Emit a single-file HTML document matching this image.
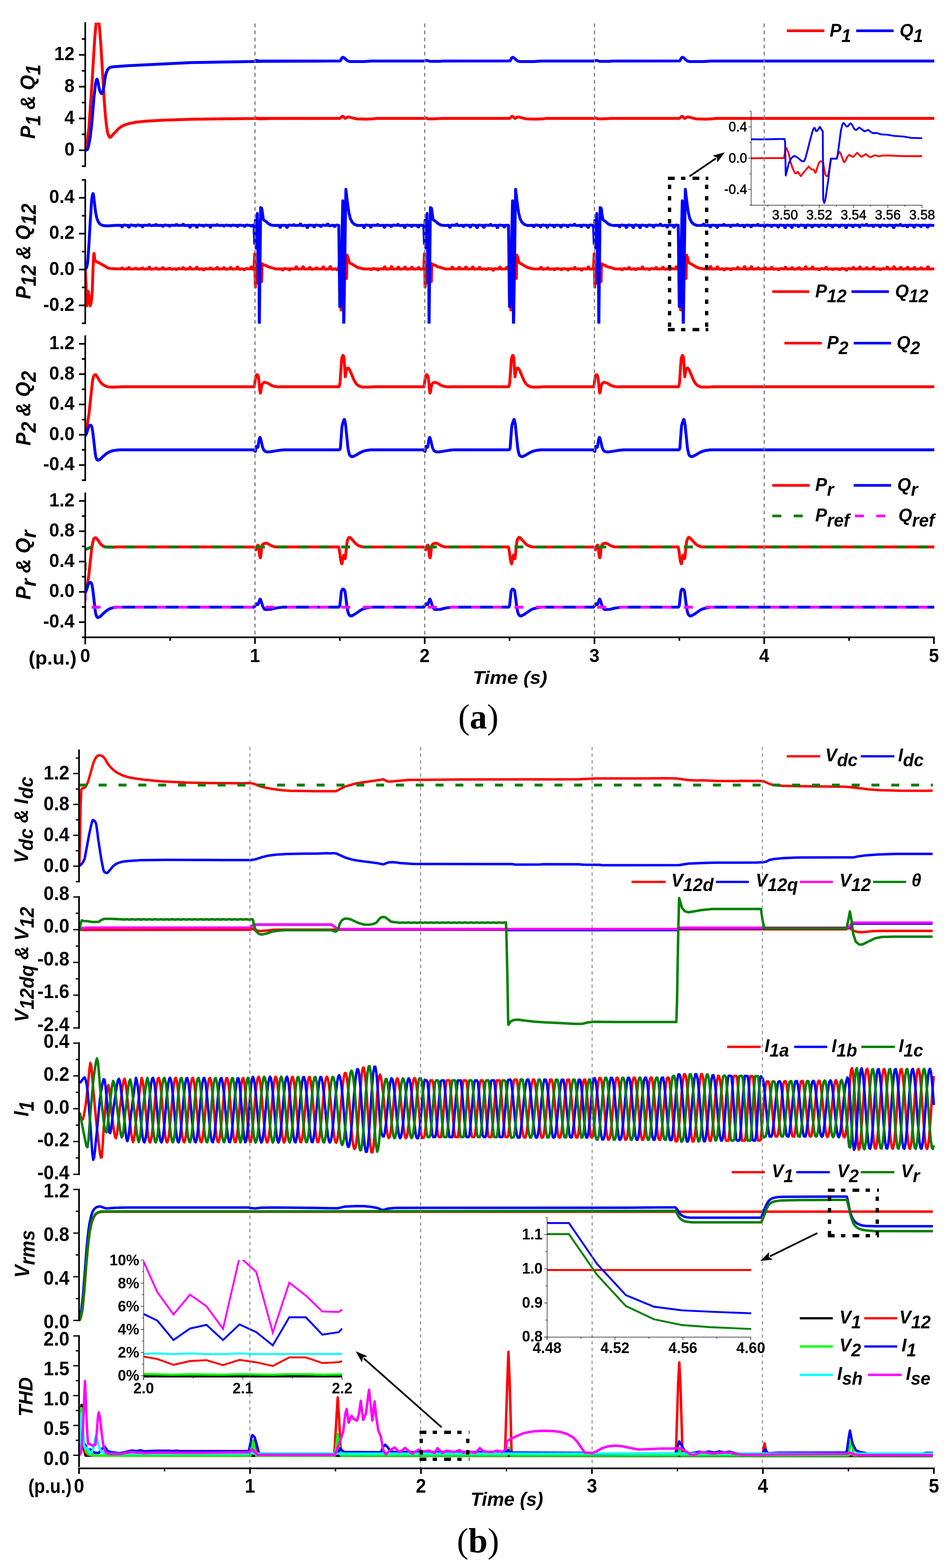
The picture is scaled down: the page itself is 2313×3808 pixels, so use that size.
<!DOCTYPE html>
<html lang="en"><head><meta charset="utf-8"><title>Figure</title>
<style>html,body{margin:0;padding:0;background:#fff;}svg{display:block;}text{fill:#000;}</style>
</head><body>
<svg xmlns="http://www.w3.org/2000/svg" width="2313" height="3808" viewBox="0 0 2313 3808">
<rect width="2313" height="3808" fill="#fff"/>
<clipPath id="ca1"><rect x="205" y="55" width="2070" height="352"/></clipPath>
<polyline points="207.2,363 210.2,351.7 213.2,334.5 216.2,308.6 223.2,206.6 230.2,92.4 233.2,58.5 235.2,43.3 236.2,39.4 237.2,38.1 238.2,40.5 239.2,44.8 242.2,71.9 245.2,111.3 253.2,243.3 256.2,282 259.3,309.4 261.3,321.3 263.3,327.6 265.3,332 266.3,333.2 267.3,333.6 269.3,332.5 277.3,323.9 288.3,312.1 295.3,307.1 302.3,303.7 314.3,299.9 330.3,296.8 354.3,294.2 394.3,291.9 469.4,289.5 620.5,287.8 820.6,287.6 619,287.6 621,286.3 624.6,287.1 627,288.6 635.9,288.8 664,287.6 825.2,287.6 827.3,286.5 830.1,283.3 832.2,282.3 834.4,283.4 836.5,285.5 837.9,287.2 838.7,287.6 840.7,286.6 844.9,284.3 847.7,284.1 866,288.7 889.3,289.2 908.3,288.5 913.2,287.6 1031.4,287.6 1033.4,286.3 1037,287.1 1039.4,288.6 1048.3,288.8 1076.4,287.6 1237.6,287.6 1239.7,286.5 1242.5,283.3 1244.6,282.3 1246.8,283.4 1248.9,285.5 1250.3,287.2 1251.1,287.6 1253.1,286.6 1257.3,284.3 1260.1,284.1 1278.4,288.7 1301.7,289.2 1320.7,288.5 1325.6,287.6 1443.8,287.6 1445.8,286.3 1449.4,287.1 1451.8,288.6 1460.7,288.8 1488.8,287.6 1650,287.6 1652.1,286.5 1654.9,283.3 1657,282.3 1659.2,283.4 1661.3,285.5 1662.7,287.2 1663.5,287.6 1665.5,286.6 1669.7,284.3 1672.5,284.1 1690.8,288.7 1714.1,289.2 1733.1,288.5 1738,287.6 2270,287.6" fill="none" stroke="#ff0000" stroke-width="7.0" stroke-linejoin="round" stroke-linecap="butt" clip-path="url(#ca1)"/>
<polyline points="207.2,365.1 210.2,364.2 212.2,362.9 213.2,361.2 215.2,354.3 219.2,333.5 223.2,298.7 228.2,237.8 232.2,202.6 233.2,197.7 234.2,194.5 235.2,192.5 235.7,192.3 236.2,192.8 238.2,199 240.2,211.1 242.2,219.4 243.7,223.4 246.2,227 247.2,227.4 248.2,226.4 250.2,222 253.2,205.7 256.2,184.3 258.2,176.6 261.3,169.5 264.3,165.8 267.3,163.6 274.3,162.2 307.3,159.8 463.4,152.1 548.4,150.5 640.5,149 823.6,148.3 619,148.3 621.1,147.1 625.3,147 632,148.9 655.6,148.9 664,148.3 825.9,148.1 827.3,147.2 830.8,140.7 832.2,139.5 833.6,139.1 836.4,140.6 843.4,147 846.3,148.6 851.2,149.5 884.8,149.5 902.4,148.3 1031.4,148.3 1033.5,147.1 1037.7,147 1044.4,148.9 1068,148.9 1076.4,148.3 1238.3,148.1 1239.7,147.2 1243.2,140.7 1244.6,139.5 1246,139.1 1248.8,140.6 1255.8,147 1258.7,148.6 1263.6,149.5 1297.2,149.5 1314.8,148.3 1443.8,148.3 1445.9,147.1 1450.1,147 1456.8,148.9 1480.4,148.9 1488.8,148.3 1650.7,148.1 1652.1,147.2 1655.6,140.7 1657,139.5 1658.4,139.1 1661.2,140.6 1668.2,147 1671.1,148.6 1676,149.5 1709.6,149.5 1727.2,148.3 2270,148.3" fill="none" stroke="#0000ff" stroke-width="7.0" stroke-linejoin="round" stroke-linecap="butt" clip-path="url(#ca1)"/>
<clipPath id="ca2"><rect x="205" y="436" width="2070" height="350"/></clipPath>
<polyline points="207.2,653.4 209,690.5 211,742.6 212.4,720.6 214.8,707.6 216.8,726.6 219,742.6 221.6,734.6 224,710.6 226.1,650.4 227.7,618.4 228.7,615.4 230.1,630.4 232.1,634.4 240.1,638 250.1,643.6 260.1,649.6 266.1,652 280.2,652.8 294.5,653 295.9,650.8 297.5,650.8 298.9,653 302.7,653.6 305.7,653 311,653 312.4,649.7 314,649.7 315.4,653 319.2,653.4 322.2,653 327.5,653 328.9,651.5 330.5,651.5 331.9,653 335.7,653.5 338.7,653 344,653 345.4,650.8 347,650.8 348.4,653 352.2,653.7 355.2,653 360.5,653 361.9,649 363.5,649 364.9,653 368.7,653.9 371.7,653 377,653 378.4,651 380,651 381.4,653 385.2,654.1 388.2,653 393.5,653 394.9,649.9 396.5,649.9 397.9,653 401.7,653.9 404.7,653 410,653 411.4,651.3 413,651.3 414.4,653 418.2,653.8 421.2,653 426.5,653 427.9,654.4 429.5,654.4 430.9,653 434.7,651.9 437.7,653 443,653 444.4,650.1 446,650.1 447.4,653 451.2,654.1 454.2,653 459.5,653 460.9,649.4 462.5,649.4 463.9,653 467.7,653.7 470.7,653 476,653 477.4,649.1 479,649.1 480.4,653 484.2,654.1 487.2,653 492.5,653 493.9,655.5 495.5,655.5 496.9,653 500.7,652.6 503.7,653 509,653 510.4,650.8 512,650.8 513.4,653 517.2,653.7 520.2,653 525.5,653 526.9,649.6 528.5,649.6 529.9,653 533.7,653.8 536.7,653 542,653 543.4,650.3 545,650.3 546.4,653 550.2,653.8 553.2,653 558.5,653 559.9,649.7 561.5,649.7 562.9,653 566.7,653.9 569.7,653 575,653 576.4,648.7 578,648.7 579.4,653 583.2,654.2 586.2,653 591.5,653 592.9,655.1 594.5,655.1 595.9,653 599.7,651.9 602.7,653 608,653 609.4,648.6 611,648.6 612.4,653 616.2,653.8 619.2,653 617.1,653 618.9,616.2 620.4,697.3 622.5,643.2 625.2,653.3 634.2,655.2 635.7,683.8 636.6,640.2 640.2,643.2 644.7,644 650.7,647.7 659.7,650 670.3,653.3 684.6,653 686,655.8 687.6,655.8 689,653 692.8,652 695.8,653 701.1,653 702.5,655.5 704.1,655.5 705.5,653 709.3,652.6 712.3,653 717.6,653 719,647.9 720.6,647.9 722,653 725.8,653.4 728.8,653 734.1,653 735.5,648.1 737.1,648.1 738.5,653 742.3,653.4 745.3,653 750.6,653 752,649.6 753.6,649.6 755,653 758.8,654.1 761.8,653 767.1,653 768.5,650.4 770.1,650.4 771.5,653 775.3,653.3 778.3,653 783.6,653 785,648.3 786.6,648.3 788,653 791.8,654.1 794.8,653 800.1,653 801.5,647.6 803.1,647.6 804.5,653 808.3,654.2 811.3,653 816.6,653 818,655.1 819.6,655.1 821,653 824.8,652.2 827.8,653 823.1,653 825.2,625.2 828.9,752.8 831.3,640.2 839.7,655.2 842.1,676.2 843.3,619.5 845.7,625.2 848.5,637.2 852.6,640.2 858.3,643.2 864.3,647 870.3,650 879.3,652.2 885.3,653.3 899.6,653 901,654.6 902.6,654.6 904,653 907.8,652.3 910.8,653 916.1,653 917.5,655.6 919.1,655.6 920.5,653 924.3,652.7 927.3,653 932.6,653 934,647.9 935.6,647.9 937,653 940.8,654.2 943.8,653 949.1,653 950.5,647.8 952.1,647.8 953.5,653 957.3,653.7 960.3,653 965.6,653 967,648.9 968.6,648.9 970,653 973.8,653.8 976.8,653 982.1,653 983.5,648.8 985.1,648.8 986.5,653 990.3,654.1 993.3,653 998.6,653 1000,649 1001.6,649 1003,653 1006.8,653.9 1009.8,653 1015.1,653 1016.5,649.8 1018.1,649.8 1019.5,653 1023.3,654.2 1026.3,653 1029.5,653 1031.3,616.2 1032.8,697.3 1034.9,643.2 1037.6,653.3 1046.6,655.2 1048.1,683.8 1049,640.2 1052.6,643.2 1057.1,644 1063.1,647.7 1072.1,650 1082.7,653.3 1097,653 1098.4,648.9 1100,648.9 1101.4,653 1105.2,653.3 1108.2,653 1113.5,653 1114.9,649.3 1116.5,649.3 1117.9,653 1121.7,653.3 1124.7,653 1130,653 1131.4,648.7 1133,648.7 1134.4,653 1138.2,653.4 1141.2,653 1146.5,653 1147.9,648.6 1149.5,648.6 1150.9,653 1154.7,653.9 1157.7,653 1163,653 1164.4,649.4 1166,649.4 1167.4,653 1171.2,654 1174.2,653 1179.5,653 1180.9,654.5 1182.5,654.5 1183.9,653 1187.7,652.1 1190.7,653 1196,653 1197.4,656.2 1199,656.2 1200.4,653 1204.2,652.3 1207.2,653 1212.5,653 1213.9,648.7 1215.5,648.7 1216.9,653 1220.7,653.6 1223.7,653 1229,653 1230.4,649.6 1232,649.6 1233.4,653 1237.2,653.8 1240.2,653 1235.5,653 1237.6,625.2 1241.3,752.8 1243.7,640.2 1252.1,655.2 1254.5,676.2 1255.7,619.5 1258.1,625.2 1260.9,637.2 1265,640.2 1270.7,643.2 1276.7,647 1282.7,650 1291.7,652.2 1297.7,653.3 1312,653 1313.4,649.6 1315,649.6 1316.4,653 1320.2,654 1323.2,653 1328.5,653 1329.9,650.4 1331.5,650.4 1332.9,653 1336.7,654 1339.7,653 1345,653 1346.4,655.1 1348,655.1 1349.4,653 1353.2,652 1356.2,653 1361.5,653 1362.9,654.9 1364.5,654.9 1365.9,653 1369.7,652.3 1372.7,653 1378,653 1379.4,655.8 1381,655.8 1382.4,653 1386.2,652.4 1389.2,653 1394.5,653 1395.9,649.5 1397.5,649.5 1398.9,653 1402.7,653.7 1405.7,653 1411,653 1412.4,656 1414,656 1415.4,653 1419.2,652.4 1422.2,653 1427.5,653 1428.9,648.5 1430.5,648.5 1431.9,653 1435.7,653.7 1438.7,653 1441.9,653 1443.7,616.2 1445.2,697.3 1447.3,643.2 1450,653.3 1459,655.2 1460.5,683.8 1461.4,640.2 1465,643.2 1469.5,644 1475.5,647.7 1484.5,650 1495.1,653.3 1509.4,653 1510.8,654.9 1512.4,654.9 1513.8,653 1517.6,652.2 1520.6,653 1525.9,653 1527.3,649.9 1528.9,649.9 1530.3,653 1534.1,654.1 1537.1,653 1542.4,653 1543.8,654.8 1545.4,654.8 1546.8,653 1550.6,652 1553.6,653 1558.9,653 1560.3,648.6 1561.9,648.6 1563.3,653 1567.1,653.6 1570.1,653 1575.4,653 1576.8,654.7 1578.4,654.7 1579.8,653 1583.6,652 1586.6,653 1591.9,653 1593.3,649.7 1594.9,649.7 1596.3,653 1600.1,653.7 1603.1,653 1608.4,653 1609.8,649.2 1611.4,649.2 1612.8,653 1616.6,654.1 1619.6,653 1624.9,653 1626.3,654.8 1627.9,654.8 1629.3,653 1633.1,651.9 1636.1,653 1641.4,653 1642.8,647.9 1644.4,647.9 1645.8,653 1649.6,653.7 1652.6,653 1647.9,653 1650,625.2 1653.7,752.8 1656.1,640.2 1664.5,655.2 1666.9,676.2 1668.1,619.5 1670.5,625.2 1673.3,637.2 1677.4,640.2 1683.1,643.2 1689.1,647 1695.1,650 1704.1,652.2 1710.1,653.3 1724.4,653 1725.8,647.6 1727.4,647.6 1728.8,653 1732.6,653.5 1735.6,653 1740.9,653 1742.3,648.3 1743.9,648.3 1745.3,653 1749.1,653.9 1752.1,653 1757.4,653 1758.8,655.4 1760.4,655.4 1761.8,653 1765.6,652.4 1768.6,653 1773.9,653 1775.3,654.9 1776.9,654.9 1778.3,653 1782.1,652.2 1785.1,653 1790.4,653 1791.8,649.6 1793.4,649.6 1794.8,653 1798.6,653.3 1801.6,653 1806.9,653 1808.3,647.8 1809.9,647.8 1811.3,653 1815.1,654.1 1818.1,653 1823.4,653 1824.8,647.8 1826.4,647.8 1827.8,653 1831.6,653.8 1834.6,653 1839.9,653 1841.3,650.5 1842.9,650.5 1844.3,653 1848.1,653.5 1851.1,653 1856.4,653 1857.8,649.6 1859.4,649.6 1860.8,653 1864.6,653.8 1867.6,653 1872.9,653 1874.3,649.3 1875.9,649.3 1877.3,653 1881.1,653.9 1884.1,653 1889.4,653 1890.8,655.1 1892.4,655.1 1893.8,653 1897.6,651.9 1900.6,653 1905.9,653 1907.3,649.1 1908.9,649.1 1910.3,653 1914.1,653.6 1917.1,653 1922.4,653 1923.8,649.9 1925.4,649.9 1926.8,653 1930.6,654 1933.6,653 1938.9,653 1940.3,650 1941.9,650 1943.3,653 1947.1,654.1 1950.1,653 1955.4,653 1956.8,648.1 1958.4,648.1 1959.8,653 1963.6,653.3 1966.6,653 1971.9,653 1973.3,648.6 1974.9,648.6 1976.3,653 1980.1,653.3 1983.1,653 1988.4,653 1989.8,655 1991.4,655 1992.8,653 1996.6,652.2 1999.6,653 2004.9,653 2006.3,649.2 2007.9,649.2 2009.3,653 2013.1,654 2016.1,653 2021.4,653 2022.8,654.5 2024.4,654.5 2025.8,653 2029.6,652.6 2032.6,653 2037.9,653 2039.3,654.7 2040.9,654.7 2042.3,653 2046.1,651.8 2049.1,653 2054.4,653 2055.8,656 2057.4,656 2058.8,653 2062.6,652.2 2065.6,653 2070.9,653 2072.3,649.6 2073.9,649.6 2075.3,653 2079.1,653.6 2082.1,653 2087.4,653 2088.8,648.6 2090.4,648.6 2091.8,653 2095.6,653.6 2098.6,653 2103.9,653 2105.3,649.9 2106.9,649.9 2108.3,653 2112.1,653.4 2115.1,653 2120.4,653 2121.8,648.8 2123.4,648.8 2124.8,653 2128.6,653.6 2131.6,653 2136.9,653 2138.3,654.6 2139.9,654.6 2141.3,653 2145.1,652.4 2148.1,653 2153.4,653 2154.8,648.7 2156.4,648.7 2157.8,653 2161.6,653.6 2164.6,653 2169.9,653 2171.3,648.1 2172.9,648.1 2174.3,653 2178.1,653.7 2181.1,653 2186.4,653 2187.8,649.4 2189.4,649.4 2190.8,653 2194.6,653.9 2197.6,653 2202.9,653 2204.3,649.2 2205.9,649.2 2207.3,653 2211.1,653.7 2214.1,653 2219.4,653 2220.8,649.8 2222.4,649.8 2223.8,653 2227.6,653.9 2230.6,653 2235.9,653 2237.3,650.3 2238.9,650.3 2240.3,653 2244.1,653.7 2247.1,653 2252.4,653 2253.8,647.9 2255.4,647.9 2256.8,653 2260.6,653.6 2263.6,653 2270,653" fill="none" stroke="#ff0000" stroke-width="7.0" stroke-linejoin="round" stroke-linecap="butt" clip-path="url(#ca2)"/>
<polyline points="207.2,653.4 208,653.1 208.8,652.3 210,650.4 210.4,649.6 211.2,646.7 212.4,640.4 212.8,637.5 213.6,629.1 215.2,607.6 216.8,581.2 220,525.6 221.6,501.6 222.4,490.7 223.2,482 224,476.9 224.8,472.9 225.7,470.4 226.1,470.1 226.5,470.7 227.3,474.7 228.1,480.1 228.9,486.7 230.1,498.1 231.3,507.9 232.5,516.2 233.7,522.6 234.5,526.4 235.3,529.7 236.1,532.2 237.7,536.2 239.3,539.5 240.1,540.8 240.9,542 242.1,543.2 244.1,544.8 246.5,546.2 248.9,547.1 252.1,547.8 256.1,548.4 259.3,548.6 263.3,548.5 280.2,547.2 294.5,547.3 295.9,550.7 297.5,550.7 298.9,547.3 302.7,546.3 305.7,547.3 311,547.3 312.4,551.6 314,551.6 315.4,547.3 319.2,546.2 322.2,547.3 327.5,547.3 328.9,548.9 330.5,548.9 331.9,547.3 335.7,546.2 338.7,547.3 344,547.3 345.4,550.7 347,550.7 348.4,547.3 352.2,546.9 355.2,547.3 360.5,547.3 361.9,545.6 363.5,545.6 364.9,547.3 368.7,548.1 371.7,547.3 377,547.3 378.4,545.4 380,545.4 381.4,547.3 385.2,547.8 388.2,547.3 393.5,547.3 394.9,549.6 396.5,549.6 397.9,547.3 401.7,546.3 404.7,547.3 410,547.3 411.4,549.3 413,549.3 414.4,547.3 418.2,546.9 421.2,547.3 426.5,547.3 427.9,545.3 429.5,545.3 430.9,547.3 434.7,547.6 437.7,547.3 443,547.3 444.4,544.8 446,544.8 447.4,547.3 451.2,547.8 454.2,547.3 459.5,547.3 460.9,551.7 462.5,551.7 463.9,547.3 467.7,546.7 470.7,547.3 476,547.3 477.4,551.7 479,551.7 480.4,547.3 484.2,546.4 487.2,547.3 492.5,547.3 493.9,549.4 495.5,549.4 496.9,547.3 500.7,546.4 503.7,547.3 509,547.3 510.4,551.7 512,551.7 513.4,547.3 517.2,546.7 520.2,547.3 525.5,547.3 526.9,545.7 528.5,545.7 529.9,547.3 533.7,547.7 536.7,547.3 542,547.3 543.4,549 545,549 546.4,547.3 550.2,546.5 553.2,547.3 558.5,547.3 559.9,548.8 561.5,548.8 562.9,547.3 566.7,546.7 569.7,547.3 575,547.3 576.4,549.7 578,549.7 579.4,547.3 583.2,546.6 586.2,547.3 591.5,547.3 592.9,549.7 594.5,549.7 595.9,547.3 599.7,546.4 602.7,547.3 608,547.3 609.4,549 611,549 612.4,547.3 616.2,547 619.2,547.3 617.1,547.3 618.9,591.4 620.4,535.1 622.2,601.9 625.2,518.6 627.6,688.3 628.8,538.1 630,805.4 633.3,503.9 636,505.8 638,520.1 639.9,533.6 647,538.4 651.5,542.6 658.2,546.4 664.2,547.4 678.5,547.3 679.9,552 681.5,552 682.9,547.3 686.7,547 689.7,547.3 695,547.3 696.4,552.2 698,552.2 699.4,547.3 703.2,546.5 706.2,547.3 711.5,547.3 712.9,545.8 714.5,545.8 715.9,547.3 719.7,547.8 722.7,547.3 728,547.3 729.4,544.1 731,544.1 732.4,547.3 736.2,548.3 739.2,547.3 744.5,547.3 745.9,552.6 747.5,552.6 748.9,547.3 752.7,546.7 755.7,547.3 761,547.3 762.4,550.9 764,550.9 765.4,547.3 769.2,546.3 772.2,547.3 777.5,547.3 778.9,550.1 780.5,550.1 781.9,547.3 785.7,546.3 788.7,547.3 794,547.3 795.4,544.3 797,544.3 798.4,547.3 802.2,548.5 805.2,547.3 810.5,547.3 811.9,550.1 813.5,550.1 814.9,547.3 818.7,546.5 821.7,547.3 823.1,547.3 825.5,744.6 827.1,744.6 832.8,487.8 835.2,805.4 840.3,459.7 844.5,494.6 847.5,515.6 851.1,530.6 855.6,539.6 861.3,544.9 868,547.4 882.3,547.3 883.7,552.6 885.3,552.6 886.7,547.3 890.5,546.2 893.5,547.3 898.8,547.3 900.2,551.4 901.8,551.4 903.2,547.3 907,546.7 910,547.3 915.3,547.3 916.7,545.5 918.3,545.5 919.7,547.3 923.5,547.7 926.5,547.3 931.8,547.3 933.2,551.9 934.8,551.9 936.2,547.3 940,546.9 943,547.3 948.3,547.3 949.7,549.9 951.3,549.9 952.7,547.3 956.5,546.5 959.5,547.3 964.8,547.3 966.2,545.1 967.8,545.1 969.2,547.3 973,548.1 976,547.3 981.3,547.3 982.7,552.3 984.3,552.3 985.7,547.3 989.5,546.6 992.5,547.3 997.8,547.3 999.2,550 1000.8,550 1002.2,547.3 1006,547 1009,547.3 1014.3,547.3 1015.7,551.3 1017.3,551.3 1018.7,547.3 1022.5,546.9 1025.5,547.3 1029.5,547.3 1031.3,591.4 1032.8,535.1 1034.6,601.9 1037.6,518.6 1040,688.3 1041.2,538.1 1042.4,805.4 1045.7,503.9 1048.4,505.8 1050.4,520.1 1052.3,533.6 1059.4,538.4 1063.9,542.6 1070.6,546.4 1076.6,547.4 1090.9,547.3 1092.3,552 1093.9,552 1095.3,547.3 1099.1,546.4 1102.1,547.3 1107.4,547.3 1108.8,544.4 1110.4,544.4 1111.8,547.3 1115.6,548 1118.6,547.3 1123.9,547.3 1125.3,550.2 1126.9,550.2 1128.3,547.3 1132.1,546.7 1135.1,547.3 1140.4,547.3 1141.8,551.2 1143.4,551.2 1144.8,547.3 1148.6,546.2 1151.6,547.3 1156.9,547.3 1158.3,552.7 1159.9,552.7 1161.3,547.3 1165.1,546.6 1168.1,547.3 1173.4,547.3 1174.8,552 1176.4,552 1177.8,547.3 1181.6,546.7 1184.6,547.3 1189.9,547.3 1191.3,545.1 1192.9,545.1 1194.3,547.3 1198.1,547.9 1201.1,547.3 1206.4,547.3 1207.8,552.8 1209.4,552.8 1210.8,547.3 1214.6,546.4 1217.6,547.3 1222.9,547.3 1224.3,551.3 1225.9,551.3 1227.3,547.3 1231.1,546.9 1234.1,547.3 1235.5,547.3 1237.9,744.6 1239.5,744.6 1245.2,487.8 1247.6,805.4 1252.7,459.7 1256.9,494.6 1259.9,515.6 1263.5,530.6 1268,539.6 1273.7,544.9 1280.4,547.4 1294.7,547.3 1296.1,550.6 1297.7,550.6 1299.1,547.3 1302.9,546.2 1305.9,547.3 1311.2,547.3 1312.6,550.9 1314.2,550.9 1315.6,547.3 1319.4,546.3 1322.4,547.3 1327.7,547.3 1329.1,551.9 1330.7,551.9 1332.1,547.3 1335.9,546.3 1338.9,547.3 1344.2,547.3 1345.6,550.9 1347.2,550.9 1348.6,547.3 1352.4,546.7 1355.4,547.3 1360.7,547.3 1362.1,551.3 1363.7,551.3 1365.1,547.3 1368.9,546.4 1371.9,547.3 1377.2,547.3 1378.6,550.7 1380.2,550.7 1381.6,547.3 1385.4,546.4 1388.4,547.3 1393.7,547.3 1395.1,544.8 1396.7,544.8 1398.1,547.3 1401.9,548.1 1404.9,547.3 1410.2,547.3 1411.6,550.6 1413.2,550.6 1414.6,547.3 1418.4,546.6 1421.4,547.3 1426.7,547.3 1428.1,552.3 1429.7,552.3 1431.1,547.3 1434.9,546.3 1437.9,547.3 1441.9,547.3 1443.7,591.4 1445.2,535.1 1447,601.9 1450,518.6 1452.4,688.3 1453.6,538.1 1454.8,805.4 1458.1,503.9 1460.8,505.8 1462.8,520.1 1464.7,533.6 1471.8,538.4 1476.3,542.6 1483,546.4 1489,547.4 1503.3,547.3 1504.7,550.8 1506.3,550.8 1507.7,547.3 1511.5,546.3 1514.5,547.3 1519.8,547.3 1521.2,552.3 1522.8,552.3 1524.2,547.3 1528,546.2 1531,547.3 1536.3,547.3 1537.7,552.4 1539.3,552.4 1540.7,547.3 1544.5,546.1 1547.5,547.3 1552.8,547.3 1554.2,552.7 1555.8,552.7 1557.2,547.3 1561,546.5 1564,547.3 1569.3,547.3 1570.7,550.3 1572.3,550.3 1573.7,547.3 1577.5,546.2 1580.5,547.3 1585.8,547.3 1587.2,551.2 1588.8,551.2 1590.2,547.3 1594,546.4 1597,547.3 1602.3,547.3 1603.7,544.5 1605.3,544.5 1606.7,547.3 1610.5,548.3 1613.5,547.3 1618.8,547.3 1620.2,551.5 1621.8,551.5 1623.2,547.3 1627,546.6 1630,547.3 1635.3,547.3 1636.7,551.7 1638.3,551.7 1639.7,547.3 1643.5,546.4 1646.5,547.3 1647.9,547.3 1650.3,744.6 1651.9,744.6 1657.6,487.8 1660,805.4 1665.1,459.7 1669.3,494.6 1672.3,515.6 1675.9,530.6 1680.4,539.6 1686.1,544.9 1692.8,547.4 1707.1,547.3 1708.5,544.5 1710.1,544.5 1711.5,547.3 1715.3,547.7 1718.3,547.3 1723.6,547.3 1725,551.1 1726.6,551.1 1728,547.3 1731.8,546.8 1734.8,547.3 1740.1,547.3 1741.5,551.9 1743.1,551.9 1744.5,547.3 1748.3,547 1751.3,547.3 1756.6,547.3 1758,545 1759.6,545 1761,547.3 1764.8,547.6 1767.8,547.3 1773.1,547.3 1774.5,550.2 1776.1,550.2 1777.5,547.3 1781.3,546.8 1784.3,547.3 1789.6,547.3 1791,545.5 1792.6,545.5 1794,547.3 1797.8,548 1800.8,547.3 1806.1,547.3 1807.5,550.9 1809.1,550.9 1810.5,547.3 1814.3,546.5 1817.3,547.3 1822.6,547.3 1824,550.5 1825.6,550.5 1827,547.3 1830.8,547 1833.8,547.3 1839.1,547.3 1840.5,545.1 1842.1,545.1 1843.5,547.3 1847.3,548 1850.3,547.3 1855.6,547.3 1857,550.1 1858.6,550.1 1860,547.3 1863.8,546.7 1866.8,547.3 1872.1,547.3 1873.5,549.9 1875.1,549.9 1876.5,547.3 1880.3,546.9 1883.3,547.3 1888.6,547.3 1890,551.4 1891.6,551.4 1893,547.3 1896.8,546.5 1899.8,547.3 1905.1,547.3 1906.5,552.7 1908.1,552.7 1909.5,547.3 1913.3,546.6 1916.3,547.3 1921.6,547.3 1923,552.2 1924.6,552.2 1926,547.3 1929.8,546.7 1932.8,547.3 1938.1,547.3 1939.5,550.2 1941.1,550.2 1942.5,547.3 1946.3,546.5 1949.3,547.3 1954.6,547.3 1956,552.7 1957.6,552.7 1959,547.3 1962.8,546.5 1965.8,547.3 1971.1,547.3 1972.5,550.9 1974.1,550.9 1975.5,547.3 1979.3,547 1982.3,547.3 1987.6,547.3 1989,550.1 1990.6,550.1 1992,547.3 1995.8,546.4 1998.8,547.3 2004.1,547.3 2005.5,550.2 2007.1,550.2 2008.5,547.3 2012.3,546.2 2015.3,547.3 2020.6,547.3 2022,550.9 2023.6,550.9 2025,547.3 2028.8,546.8 2031.8,547.3 2037.1,547.3 2038.5,550.7 2040.1,550.7 2041.5,547.3 2045.3,546.7 2048.3,547.3 2053.6,547.3 2055,552.7 2056.6,552.7 2058,547.3 2061.8,546.5 2064.8,547.3 2070.1,547.3 2071.5,550.6 2073.1,550.6 2074.5,547.3 2078.3,546.6 2081.3,547.3 2086.6,547.3 2088,551 2089.6,551 2091,547.3 2094.8,546.1 2097.8,547.3 2103.1,547.3 2104.5,544.9 2106.1,544.9 2107.5,547.3 2111.3,548 2114.3,547.3 2119.6,547.3 2121,550.2 2122.6,550.2 2124,547.3 2127.8,546.6 2130.8,547.3 2136.1,547.3 2137.5,550.7 2139.1,550.7 2140.5,547.3 2144.3,546.3 2147.3,547.3 2152.6,547.3 2154,549.8 2155.6,549.8 2157,547.3 2160.8,546.8 2163.8,547.3 2169.1,547.3 2170.5,552.6 2172.1,552.6 2173.5,547.3 2177.3,546.8 2180.3,547.3 2185.6,547.3 2187,545.3 2188.6,545.3 2190,547.3 2193.8,548.5 2196.8,547.3 2202.1,547.3 2203.5,550.7 2205.1,550.7 2206.5,547.3 2210.3,546.6 2213.3,547.3 2218.6,547.3 2220,551.7 2221.6,551.7 2223,547.3 2226.8,546.3 2229.8,547.3 2235.1,547.3 2236.5,550.2 2238.1,550.2 2239.5,547.3 2243.3,546.7 2246.3,547.3 2251.6,547.3 2253,551.4 2254.6,551.4 2256,547.3 2259.8,546.7 2262.8,547.3 2270,547.3" fill="none" stroke="#0000ff" stroke-width="7.0" stroke-linejoin="round" stroke-linecap="butt" clip-path="url(#ca2)"/>
<clipPath id="ca3"><rect x="205" y="817" width="2070" height="351"/></clipPath>
<polyline points="207.2,1045.5 210,1038.5 213.3,1024.6 216.3,1004.3 222.4,947.1 225.1,923.2 227.4,913.8 229.4,911.1 231.5,909.9 232.5,909.9 233.5,910.6 238.5,918.7 242.6,925.9 246.6,930.9 251.7,934.9 257.7,938 262.8,939.7 274.9,940.3 298.1,939.3 618.1,939.3 620.2,921.6 621.6,913.7 622.3,911.9 623.7,910.1 624.5,909.8 625.8,910.6 627.9,914.8 630,933.7 631.4,950.2 632.1,953.9 632.5,954.7 633.5,951.6 635.7,937.3 637.7,931.8 640.5,929.4 643.1,928.6 648.2,929.6 652.4,931.4 658.7,935.5 665,938 675.5,939.6 689.5,939.3 823.5,939.3 824.2,938.4 826.1,930.2 829.8,875.6 830.5,870.1 832.6,863.8 833.5,863.1 834,863.4 835.4,867.1 836.1,870.3 838.3,908.9 839,915.2 841.1,901.5 842.5,896 843.9,894.4 845.5,893.8 846.7,894.3 849.5,898.1 860.6,924.2 865,931.4 869.2,935.5 873.4,938.2 880.4,940.1 897.3,939.9 910.7,939.3 1030.5,939.3 1032.6,921.6 1034,913.7 1034.7,911.9 1036.1,910.1 1036.9,909.8 1038.2,910.6 1040.3,914.8 1042.4,933.7 1043.8,950.2 1044.5,953.9 1044.9,954.7 1045.9,951.6 1048.1,937.3 1050.1,931.8 1052.9,929.4 1055.5,928.6 1060.6,929.6 1064.8,931.4 1071.1,935.5 1077.4,938 1087.9,939.6 1101.9,939.3 1235.9,939.3 1236.6,938.4 1238.5,930.2 1242.2,875.6 1242.9,870.1 1245,863.8 1245.9,863.1 1246.4,863.4 1247.8,867.1 1248.5,870.3 1250.7,908.9 1251.4,915.2 1253.5,901.5 1254.9,896 1256.3,894.4 1257.9,893.8 1259.1,894.3 1261.9,898.1 1273,924.2 1277.4,931.4 1281.6,935.5 1285.8,938.2 1292.8,940.1 1309.7,939.9 1323.1,939.3 1442.9,939.3 1445,921.6 1446.4,913.7 1447.1,911.9 1448.5,910.1 1449.3,909.8 1450.6,910.6 1452.7,914.8 1454.8,933.7 1456.2,950.2 1456.9,953.9 1457.3,954.7 1458.3,951.6 1460.5,937.3 1462.5,931.8 1465.3,929.4 1467.9,928.6 1473,929.6 1477.2,931.4 1483.5,935.5 1489.8,938 1500.3,939.6 1514.3,939.3 1648.3,939.3 1649,938.4 1650.9,930.2 1654.6,875.6 1655.3,870.1 1657.4,863.8 1658.3,863.1 1658.8,863.4 1660.2,867.1 1660.9,870.3 1663.1,908.9 1663.8,915.2 1665.9,901.5 1667.3,896 1668.7,894.4 1670.3,893.8 1671.5,894.3 1674.3,898.1 1685.4,924.2 1689.8,931.4 1694,935.5 1698.2,938.2 1705.2,940.1 1722.1,939.9 1735.5,939.3 2270,939.3" fill="none" stroke="#ff0000" stroke-width="7.0" stroke-linejoin="round" stroke-linecap="butt" clip-path="url(#ca3)"/>
<polyline points="207.2,1058.5 210.2,1052.9 214.3,1039.8 216.3,1035 218.3,1033 220,1032.4 221.4,1033.4 223.4,1037.5 225.4,1049 231.5,1101.9 233.1,1110.6 235.5,1116.4 236.6,1117.5 238.6,1117.4 242.6,1115.9 245.7,1113.3 250.7,1108.1 258.8,1101.4 266.9,1096.8 273,1094.8 285.1,1093 290.2,1092.6 618.1,1092.6 618.8,1094.9 619.5,1095.9 620.5,1096.2 621.6,1089.3 622.5,1084.1 624.5,1084.5 626.5,1086.2 627.2,1083.8 629.3,1068.8 630.7,1063.7 631.7,1062.1 632.8,1064 635.6,1075.3 638.1,1086.6 641.2,1093.4 643.3,1095.7 648.2,1097.6 653.1,1097.6 679,1093.6 690.2,1092.6 824.2,1092.5 826.3,1090.8 827,1087.8 830.5,1040.9 831.5,1032.4 833.3,1026.5 836.1,1018.7 836.5,1018.4 837.5,1020.2 839.6,1030.9 845.2,1085.9 846.6,1094.9 848.7,1102.9 850.1,1106.1 852.9,1108.3 855.7,1109 859.2,1108.1 865.5,1104.9 873.9,1099.7 881.6,1096.2 890,1093.9 901.3,1092.6 1030.5,1092.6 1031.2,1094.9 1031.9,1095.9 1032.9,1096.2 1034,1089.3 1034.9,1084.1 1036.9,1084.5 1038.9,1086.2 1039.6,1083.8 1041.7,1068.8 1043.1,1063.7 1044.1,1062.1 1045.2,1064 1048,1075.3 1050.5,1086.6 1053.6,1093.4 1055.7,1095.7 1060.6,1097.6 1065.5,1097.6 1091.4,1093.6 1102.6,1092.6 1236.6,1092.5 1238.7,1090.8 1239.4,1087.8 1242.9,1040.9 1243.9,1032.4 1245.7,1026.5 1248.5,1018.7 1248.9,1018.4 1249.9,1020.2 1252,1030.9 1257.6,1085.9 1259,1094.9 1261.1,1102.9 1262.5,1106.1 1265.3,1108.3 1268.1,1109 1271.6,1108.1 1277.9,1104.9 1286.3,1099.7 1294,1096.2 1302.4,1093.9 1313.7,1092.6 1442.9,1092.6 1443.6,1094.9 1444.3,1095.9 1445.3,1096.2 1446.4,1089.3 1447.3,1084.1 1449.3,1084.5 1451.3,1086.2 1452,1083.8 1454.1,1068.8 1455.5,1063.7 1456.5,1062.1 1457.6,1064 1460.4,1075.3 1462.9,1086.6 1466,1093.4 1468.1,1095.7 1473,1097.6 1477.9,1097.6 1503.8,1093.6 1515,1092.6 1649,1092.5 1651.1,1090.8 1651.8,1087.8 1655.3,1040.9 1656.3,1032.4 1658.1,1026.5 1660.9,1018.7 1661.3,1018.4 1662.3,1020.2 1664.4,1030.9 1670,1085.9 1671.4,1094.9 1673.5,1102.9 1674.9,1106.1 1677.7,1108.3 1680.5,1109 1684,1108.1 1690.3,1104.9 1698.7,1099.7 1706.4,1096.2 1714.8,1093.9 1726.1,1092.6 2270,1092.6" fill="none" stroke="#0000ff" stroke-width="7.0" stroke-linejoin="round" stroke-linecap="butt" clip-path="url(#ca3)"/>
<clipPath id="ca4"><rect x="205" y="1199" width="2070" height="347"/></clipPath>
<polyline points="207.2,1439.5 210.3,1429.6 213.3,1414.9 216.3,1392 222.4,1335.4 225.1,1318.3 227.5,1309.2 228.5,1307.8 230.5,1306.2 232.5,1305.9 234.6,1307.3 238.6,1312.5 242.7,1319 246.7,1323.6 251.8,1327 255.8,1328.2 264.1,1329.1 277.1,1328.7 280.2,1328.3 617.8,1328.4 620.1,1330.3 621.7,1335.3 622.8,1332 623.7,1328.3 626.3,1324.2 627.1,1323.9 627.7,1325 629.3,1334.3 630.9,1350.3 632,1354 632.7,1354.6 634.1,1348.3 635.7,1330.3 637.6,1323.1 639.8,1320.8 642.6,1319.7 647.5,1319.3 651.1,1320.5 660.3,1325.9 667.4,1328 670.2,1328.3 822.9,1328.3 825,1338.9 827.8,1359.9 829.9,1368.7 830.6,1369.3 831.3,1367.3 834.1,1350.8 834.9,1348.3 836.2,1349.3 836.9,1350.4 838.5,1356.7 839.1,1355.1 842.9,1318.3 844.7,1310.8 846.8,1306.6 848.2,1305.1 849.6,1304.9 851.7,1306.3 858,1313.2 865.8,1321.6 872.1,1325.7 878.4,1327.7 882.6,1328.3 1030.2,1328.4 1032.5,1330.3 1034.1,1335.3 1035.2,1332 1036.1,1328.3 1038.7,1324.2 1039.5,1323.9 1040.1,1325 1041.7,1334.3 1043.3,1350.3 1044.4,1354 1045.1,1354.6 1046.5,1348.3 1048.1,1330.3 1050,1323.1 1052.2,1320.8 1055,1319.7 1059.9,1319.3 1063.5,1320.5 1072.7,1325.9 1079.8,1328 1082.6,1328.3 1235.3,1328.3 1237.4,1338.9 1240.2,1359.9 1242.3,1368.7 1243,1369.3 1243.7,1367.3 1246.5,1350.8 1247.3,1348.3 1248.6,1349.3 1249.3,1350.4 1250.9,1356.7 1251.5,1355.1 1255.3,1318.3 1257.1,1310.8 1259.2,1306.6 1260.6,1305.1 1262,1304.9 1264.1,1306.3 1270.4,1313.2 1278.2,1321.6 1284.5,1325.7 1290.8,1327.7 1295,1328.3 1442.6,1328.4 1444.9,1330.3 1446.5,1335.3 1447.6,1332 1448.5,1328.3 1451.1,1324.2 1451.9,1323.9 1452.5,1325 1454.1,1334.3 1455.7,1350.3 1456.8,1354 1457.5,1354.6 1458.9,1348.3 1460.5,1330.3 1462.4,1323.1 1464.6,1320.8 1467.4,1319.7 1472.3,1319.3 1475.9,1320.5 1485.1,1325.9 1492.2,1328 1495,1328.3 1647.7,1328.3 1649.8,1338.9 1652.6,1359.9 1654.7,1368.7 1655.4,1369.3 1656.1,1367.3 1658.9,1350.8 1659.7,1348.3 1661,1349.3 1661.7,1350.4 1663.3,1356.7 1663.9,1355.1 1667.7,1318.3 1669.5,1310.8 1671.6,1306.6 1673,1305.1 1674.4,1304.9 1676.5,1306.3 1682.8,1313.2 1690.6,1321.6 1696.9,1325.7 1703.2,1327.7 1707.4,1328.3 2270,1328.3" fill="none" stroke="#ff0000" stroke-width="7.0" stroke-linejoin="round" stroke-linecap="butt" clip-path="url(#ca4)"/>
<polyline points="207.2,1440.5 210.2,1432.8 214,1420.5 216.3,1416.1 218.3,1414.8 220.4,1414.5 221.4,1415.4 223.4,1419.5 225.4,1431 231.5,1483.9 233.1,1492.6 235.5,1498.4 236.6,1499.5 238.6,1499.4 242.6,1498 245.7,1495.4 251.7,1489.1 259.8,1482.4 267.9,1477.8 276,1475.5 286.1,1474.6 617.1,1474.6 620.6,1469.7 622.7,1466.3 623.4,1466.2 625.6,1468.3 626.3,1468.5 627.7,1466.2 631.2,1456.2 632.1,1454.9 632.6,1455.2 635.3,1462.5 639,1474.2 641.8,1478.6 643.2,1479.9 646,1480.2 656.6,1480 671.4,1476.4 686.2,1474.6 822.9,1474.6 823.6,1474.3 825,1472.2 825.7,1470.5 829.2,1437.6 830.7,1433.1 832.1,1430.9 832.9,1430.5 834.9,1431.1 837.5,1433.7 838.4,1436.9 841.2,1458.7 843.4,1476 845.5,1486.6 847.6,1492.2 849,1494.1 851.8,1495.9 854.7,1495.6 862.4,1491.5 875.8,1482.1 881.5,1479.2 890.7,1476.6 902.7,1474.6 1029.5,1474.6 1033,1469.7 1035.1,1466.3 1035.8,1466.2 1038,1468.3 1038.7,1468.5 1040.1,1466.2 1043.6,1456.2 1044.5,1454.9 1045,1455.2 1047.7,1462.5 1051.4,1474.2 1054.2,1478.6 1055.6,1479.9 1058.4,1480.2 1069,1480 1083.8,1476.4 1098.6,1474.6 1235.3,1474.6 1236,1474.3 1237.4,1472.2 1238.1,1470.5 1241.6,1437.6 1243.1,1433.1 1244.5,1430.9 1245.3,1430.5 1247.3,1431.1 1249.9,1433.7 1250.8,1436.9 1253.6,1458.7 1255.8,1476 1257.9,1486.6 1260,1492.2 1261.4,1494.1 1264.2,1495.9 1267.1,1495.6 1274.8,1491.5 1288.2,1482.1 1293.9,1479.2 1303.1,1476.6 1315.1,1474.6 1441.9,1474.6 1445.4,1469.7 1447.5,1466.3 1448.2,1466.2 1450.4,1468.3 1451.1,1468.5 1452.5,1466.2 1456,1456.2 1456.9,1454.9 1457.4,1455.2 1460.1,1462.5 1463.8,1474.2 1466.6,1478.6 1468,1479.9 1470.8,1480.2 1481.4,1480 1496.2,1476.4 1511,1474.6 1647.7,1474.6 1648.4,1474.3 1649.8,1472.2 1650.5,1470.5 1654,1437.6 1655.5,1433.1 1656.9,1430.9 1657.7,1430.5 1659.7,1431.1 1662.3,1433.7 1663.2,1436.9 1666,1458.7 1668.2,1476 1670.3,1486.6 1672.4,1492.2 1673.8,1494.1 1676.6,1495.9 1679.5,1495.6 1687.2,1491.5 1700.6,1482.1 1706.3,1479.2 1715.5,1476.6 1727.5,1474.6 2270,1474.6" fill="none" stroke="#0000ff" stroke-width="7.0" stroke-linejoin="round" stroke-linecap="butt" clip-path="url(#ca4)"/>
<line x1="252.8" y1="1328.3" x2="274.6" y2="1328.3" stroke="#008000" stroke-width="7.0" />
<line x1="305.5" y1="1328.3" x2="327.3" y2="1328.3" stroke="#008000" stroke-width="7.0" />
<line x1="358.2" y1="1328.3" x2="380.0" y2="1328.3" stroke="#008000" stroke-width="7.0" />
<line x1="411.0" y1="1328.3" x2="432.8" y2="1328.3" stroke="#008000" stroke-width="7.0" />
<line x1="463.7" y1="1328.3" x2="485.5" y2="1328.3" stroke="#008000" stroke-width="7.0" />
<line x1="516.4" y1="1328.3" x2="538.2" y2="1328.3" stroke="#008000" stroke-width="7.0" />
<line x1="569.1" y1="1328.3" x2="590.9" y2="1328.3" stroke="#008000" stroke-width="7.0" />
<line x1="621.8" y1="1328.3" x2="643.6" y2="1328.3" stroke="#008000" stroke-width="7.0" />
<line x1="674.6" y1="1328.3" x2="696.4" y2="1328.3" stroke="#008000" stroke-width="7.0" />
<line x1="727.3" y1="1328.3" x2="749.1" y2="1328.3" stroke="#008000" stroke-width="7.0" />
<line x1="776.4" y1="1328.3" x2="798.2" y2="1328.3" stroke="#008000" stroke-width="7.0" />
<line x1="829.0" y1="1328.3" x2="850.8" y2="1328.3" stroke="#008000" stroke-width="7.0" />
<line x1="881.6" y1="1328.3" x2="903.4" y2="1328.3" stroke="#008000" stroke-width="7.0" />
<line x1="934.2" y1="1328.3" x2="956.0" y2="1328.3" stroke="#008000" stroke-width="7.0" />
<line x1="986.8" y1="1328.3" x2="1008.6" y2="1328.3" stroke="#008000" stroke-width="7.0" />
<line x1="1039.4" y1="1328.3" x2="1061.2" y2="1328.3" stroke="#008000" stroke-width="7.0" />
<line x1="1092.0" y1="1328.3" x2="1113.8" y2="1328.3" stroke="#008000" stroke-width="7.0" />
<line x1="1144.6" y1="1328.3" x2="1166.4" y2="1328.3" stroke="#008000" stroke-width="7.0" />
<line x1="1197.2" y1="1328.3" x2="1219.0" y2="1328.3" stroke="#008000" stroke-width="7.0" />
<line x1="1249.8" y1="1328.3" x2="1271.6" y2="1328.3" stroke="#008000" stroke-width="7.0" />
<line x1="1302.4" y1="1328.3" x2="1324.2" y2="1328.3" stroke="#008000" stroke-width="7.0" />
<line x1="1345.9" y1="1328.3" x2="1367.7" y2="1328.3" stroke="#008000" stroke-width="7.0" />
<line x1="1398.5" y1="1328.3" x2="1420.3" y2="1328.3" stroke="#008000" stroke-width="7.0" />
<line x1="1451.1" y1="1328.3" x2="1472.9" y2="1328.3" stroke="#008000" stroke-width="7.0" />
<line x1="1503.7" y1="1328.3" x2="1525.5" y2="1328.3" stroke="#008000" stroke-width="7.0" />
<line x1="1556.3" y1="1328.3" x2="1578.1" y2="1328.3" stroke="#008000" stroke-width="7.0" />
<line x1="1608.9" y1="1328.3" x2="1630.7" y2="1328.3" stroke="#008000" stroke-width="7.0" />
<line x1="1661.5" y1="1328.3" x2="1683.3" y2="1328.3" stroke="#008000" stroke-width="7.0" />
<line x1="1714.1" y1="1328.3" x2="1735.9" y2="1328.3" stroke="#008000" stroke-width="7.0" />
<line x1="1766.7" y1="1328.3" x2="1788.5" y2="1328.3" stroke="#008000" stroke-width="7.0" />
<line x1="1819.3" y1="1328.3" x2="1841.1" y2="1328.3" stroke="#008000" stroke-width="7.0" />
<line x1="1871.9" y1="1328.3" x2="1893.7" y2="1328.3" stroke="#008000" stroke-width="7.0" />
<line x1="1916.0" y1="1328.3" x2="1937.8" y2="1328.3" stroke="#008000" stroke-width="7.0" />
<line x1="1968.6" y1="1328.3" x2="1990.4" y2="1328.3" stroke="#008000" stroke-width="7.0" />
<line x1="2021.2" y1="1328.3" x2="2043.0" y2="1328.3" stroke="#008000" stroke-width="7.0" />
<line x1="2073.8" y1="1328.3" x2="2095.6" y2="1328.3" stroke="#008000" stroke-width="7.0" />
<line x1="2126.4" y1="1328.3" x2="2148.2" y2="1328.3" stroke="#008000" stroke-width="7.0" />
<line x1="2179.0" y1="1328.3" x2="2200.8" y2="1328.3" stroke="#008000" stroke-width="7.0" />
<line x1="2231.6" y1="1328.3" x2="2253.4" y2="1328.3" stroke="#008000" stroke-width="7.0" />
<line x1="222.6" y1="1474.6" x2="244.4" y2="1474.6" stroke="#ff00ff" stroke-width="7.0" />
<line x1="275.3" y1="1474.6" x2="297.1" y2="1474.6" stroke="#ff00ff" stroke-width="7.0" />
<line x1="328.0" y1="1474.6" x2="349.8" y2="1474.6" stroke="#ff00ff" stroke-width="7.0" />
<line x1="380.8" y1="1474.6" x2="402.6" y2="1474.6" stroke="#ff00ff" stroke-width="7.0" />
<line x1="433.5" y1="1474.6" x2="455.3" y2="1474.6" stroke="#ff00ff" stroke-width="7.0" />
<line x1="486.2" y1="1474.6" x2="508.0" y2="1474.6" stroke="#ff00ff" stroke-width="7.0" />
<line x1="538.9" y1="1474.6" x2="560.7" y2="1474.6" stroke="#ff00ff" stroke-width="7.0" />
<line x1="591.6" y1="1474.6" x2="613.4" y2="1474.6" stroke="#ff00ff" stroke-width="7.0" />
<line x1="644.4" y1="1474.6" x2="666.2" y2="1474.6" stroke="#ff00ff" stroke-width="7.0" />
<line x1="697.1" y1="1474.6" x2="718.9" y2="1474.6" stroke="#ff00ff" stroke-width="7.0" />
<line x1="749.8" y1="1474.6" x2="771.6" y2="1474.6" stroke="#ff00ff" stroke-width="7.0" />
<line x1="776.4" y1="1474.6" x2="798.2" y2="1474.6" stroke="#ff00ff" stroke-width="7.0" />
<line x1="829.0" y1="1474.6" x2="850.8" y2="1474.6" stroke="#ff00ff" stroke-width="7.0" />
<line x1="881.6" y1="1474.6" x2="903.4" y2="1474.6" stroke="#ff00ff" stroke-width="7.0" />
<line x1="934.2" y1="1474.6" x2="956.0" y2="1474.6" stroke="#ff00ff" stroke-width="7.0" />
<line x1="986.8" y1="1474.6" x2="1008.6" y2="1474.6" stroke="#ff00ff" stroke-width="7.0" />
<line x1="1039.4" y1="1474.6" x2="1061.2" y2="1474.6" stroke="#ff00ff" stroke-width="7.0" />
<line x1="1092.0" y1="1474.6" x2="1113.8" y2="1474.6" stroke="#ff00ff" stroke-width="7.0" />
<line x1="1144.6" y1="1474.6" x2="1166.4" y2="1474.6" stroke="#ff00ff" stroke-width="7.0" />
<line x1="1197.2" y1="1474.6" x2="1219.0" y2="1474.6" stroke="#ff00ff" stroke-width="7.0" />
<line x1="1249.8" y1="1474.6" x2="1271.6" y2="1474.6" stroke="#ff00ff" stroke-width="7.0" />
<line x1="1302.4" y1="1474.6" x2="1324.2" y2="1474.6" stroke="#ff00ff" stroke-width="7.0" />
<line x1="1345.9" y1="1474.6" x2="1367.7" y2="1474.6" stroke="#ff00ff" stroke-width="7.0" />
<line x1="1398.5" y1="1474.6" x2="1420.3" y2="1474.6" stroke="#ff00ff" stroke-width="7.0" />
<line x1="1451.1" y1="1474.6" x2="1472.9" y2="1474.6" stroke="#ff00ff" stroke-width="7.0" />
<line x1="1503.7" y1="1474.6" x2="1525.5" y2="1474.6" stroke="#ff00ff" stroke-width="7.0" />
<line x1="1556.3" y1="1474.6" x2="1578.1" y2="1474.6" stroke="#ff00ff" stroke-width="7.0" />
<line x1="1608.9" y1="1474.6" x2="1630.7" y2="1474.6" stroke="#ff00ff" stroke-width="7.0" />
<line x1="1661.5" y1="1474.6" x2="1683.3" y2="1474.6" stroke="#ff00ff" stroke-width="7.0" />
<line x1="1714.1" y1="1474.6" x2="1735.9" y2="1474.6" stroke="#ff00ff" stroke-width="7.0" />
<line x1="1766.7" y1="1474.6" x2="1788.5" y2="1474.6" stroke="#ff00ff" stroke-width="7.0" />
<line x1="1819.3" y1="1474.6" x2="1841.1" y2="1474.6" stroke="#ff00ff" stroke-width="7.0" />
<line x1="1871.9" y1="1474.6" x2="1893.7" y2="1474.6" stroke="#ff00ff" stroke-width="7.0" />
<line x1="1916.0" y1="1474.6" x2="1937.8" y2="1474.6" stroke="#ff00ff" stroke-width="7.0" />
<line x1="1968.6" y1="1474.6" x2="1990.4" y2="1474.6" stroke="#ff00ff" stroke-width="7.0" />
<line x1="2021.2" y1="1474.6" x2="2043.0" y2="1474.6" stroke="#ff00ff" stroke-width="7.0" />
<line x1="2073.8" y1="1474.6" x2="2095.6" y2="1474.6" stroke="#ff00ff" stroke-width="7.0" />
<line x1="2126.4" y1="1474.6" x2="2148.2" y2="1474.6" stroke="#ff00ff" stroke-width="7.0" />
<line x1="2179.0" y1="1474.6" x2="2200.8" y2="1474.6" stroke="#ff00ff" stroke-width="7.0" />
<line x1="2231.6" y1="1474.6" x2="2253.4" y2="1474.6" stroke="#ff00ff" stroke-width="7.0" />
<g clip-path="url(#ca4)">
<line x1="208.0" y1="1334.5" x2="222.0" y2="1328.6" stroke="#008000" stroke-width="7.0" />
<line x1="208.3" y1="1365.4" x2="208.3" y2="1386.4" stroke="#008000" stroke-width="4" />
<line x1="208.3" y1="1416.5" x2="208.3" y2="1426.5" stroke="#008000" stroke-width="4" />
<line x1="208.3" y1="1438.5" x2="208.3" y2="1458.5" stroke="#ff00ff" stroke-width="4" />
</g>
<polyline points="1825.2,384.5 1850.2,384.1 1904.6,383.7 1906.4,374.9 1908.3,357.3 1911.2,360.2 1916.3,373.1 1920.7,393.3 1925.5,408 1931,419.7 1934.7,420.8 1938.4,417.2 1942.1,422.7 1945.7,427.8 1949.4,422.7 1953.1,418.3 1958.6,411.6 1964.8,404.3 1968.5,408.7 1972.2,411.6 1977,411.6 1979.5,417.2 1981.7,419.7 1985.4,408 1989.1,396.2 1993.5,391.4 1997.2,392.5 2000.1,395.1 2002.7,411.6 2005.2,424.5 2008.2,427.8 2011.9,425.6 2014.8,411.6 2018.5,385.2 2033.2,385.2 2036.1,374.9 2039.8,369 2042.7,373.1 2046.4,384.1 2050.8,394 2054.5,389.6 2058.9,380.4 2063.3,376 2067.7,378.6 2072.5,381.2 2077.3,376.7 2082.4,371.2 2087.5,376 2092.7,380.8 2098.2,377.8 2103.7,374.2 2109.2,378.6 2114.7,381.9 2120.2,379.3 2125.7,377.1 2131.3,378.6 2136.8,379.7 2144.1,377.8 2155.1,377.5 2173.5,378.2 2195.5,379.3 2217.6,379.3 2240.4,379.3" fill="none" stroke="#ff0000" stroke-width="4.4" stroke-linejoin="round" stroke-linecap="butt" />
<polyline points="1825.2,338.2 1850.2,338.5 1887,337.8 1906.1,337.4 1907.5,345.5 1909,426.3 1911.9,415.3 1916.3,397 1921.9,385.2 1926.6,380.4 1931,378.6 1935.4,381.5 1940.2,384.5 1945,388.9 1949.4,391.8 1953.8,391.4 1957.5,382.3 1962.3,363.9 1967.8,341.8 1973.3,321.6 1977,311.7 1979.5,310.6 1982.5,318.3 1985.4,318 1989.1,312.5 1992,308 1995,313.2 1997.2,316.9 1999,318.3 2000.1,485.1 2002.7,492.8 2005.2,485.1 2011.9,441 2016.3,404.3 2019.2,385.2 2033.2,385.2 2035.4,374.9 2038.3,352.9 2043.1,316.9 2046.4,303.3 2049.3,298.5 2053,302.2 2056.7,307.3 2060.4,306.6 2064,301.4 2067,299.6 2070.6,303.6 2075,312.5 2079.5,316.1 2083.5,313.2 2087.5,309.5 2091.9,312.5 2096.4,316.1 2100.8,319.1 2105.5,316.9 2109.6,315.4 2114,319.1 2119.1,322.7 2124.3,323.5 2129.4,322.7 2134.9,324.6 2141.2,326.4 2155.1,327.1 2173.5,330.1 2195.5,331.6 2213.9,334.9 2240.4,335.6" fill="none" stroke="#0000ff" stroke-width="4.4" stroke-linejoin="round" stroke-linecap="butt" />
<line x1="619.5" y1="57.0" x2="619.5" y2="1545.5" stroke="#808080" stroke-width="3" stroke-dasharray="9,8.15"/>
<line x1="1031.9" y1="57.0" x2="1031.9" y2="1545.5" stroke="#808080" stroke-width="3" stroke-dasharray="9,8.15"/>
<line x1="1444.3" y1="57.0" x2="1444.3" y2="1545.5" stroke="#808080" stroke-width="3" stroke-dasharray="9,8.15"/>
<line x1="1856.7" y1="57.0" x2="1856.7" y2="1545.5" stroke="#808080" stroke-width="3" stroke-dasharray="9,8.15"/>
<line x1="207.1" y1="54.1" x2="207.1" y2="405.5" stroke="#000000" stroke-width="4.0" />
<line x1="191.9" y1="364.9" x2="207.1" y2="364.9" stroke="#000000" stroke-width="4.0" />
<text transform="translate(181.0,377.9) scale(0.95,1)" text-anchor="end" style="font-family:'Liberation Sans',Arial,sans-serif;font-size:46.5px;font-weight:bold;" xml:space="preserve" >0</text>
<line x1="191.9" y1="287.7" x2="207.1" y2="287.7" stroke="#000000" stroke-width="4.0" />
<text transform="translate(181.0,300.7) scale(0.95,1)" text-anchor="end" style="font-family:'Liberation Sans',Arial,sans-serif;font-size:46.5px;font-weight:bold;" xml:space="preserve" >4</text>
<line x1="191.9" y1="210.5" x2="207.1" y2="210.5" stroke="#000000" stroke-width="4.0" />
<text transform="translate(181.0,223.5) scale(0.95,1)" text-anchor="end" style="font-family:'Liberation Sans',Arial,sans-serif;font-size:46.5px;font-weight:bold;" xml:space="preserve" >8</text>
<line x1="191.9" y1="133.3" x2="207.1" y2="133.3" stroke="#000000" stroke-width="4.0" />
<text transform="translate(181.0,146.3) scale(0.95,1)" text-anchor="end" style="font-family:'Liberation Sans',Arial,sans-serif;font-size:46.5px;font-weight:bold;" xml:space="preserve" >12</text>
<line x1="198.9" y1="403.5" x2="207.1" y2="403.5" stroke="#000000" stroke-width="4.0" />
<line x1="198.9" y1="326.3" x2="207.1" y2="326.3" stroke="#000000" stroke-width="4.0" />
<line x1="198.9" y1="249.1" x2="207.1" y2="249.1" stroke="#000000" stroke-width="4.0" />
<line x1="198.9" y1="171.9" x2="207.1" y2="171.9" stroke="#000000" stroke-width="4.0" />
<line x1="198.9" y1="94.7" x2="207.1" y2="94.7" stroke="#000000" stroke-width="4.0" />
<line x1="207.1" y1="434.9" x2="207.1" y2="787.1" stroke="#000000" stroke-width="4.0" />
<line x1="191.9" y1="741.6" x2="207.1" y2="741.6" stroke="#000000" stroke-width="4.0" />
<text transform="translate(181.0,754.6) scale(0.95,1)" text-anchor="end" style="font-family:'Liberation Sans',Arial,sans-serif;font-size:46.5px;font-weight:bold;" xml:space="preserve" >-0.2</text>
<line x1="191.9" y1="654.5" x2="207.1" y2="654.5" stroke="#000000" stroke-width="4.0" />
<text transform="translate(181.0,667.5) scale(0.95,1)" text-anchor="end" style="font-family:'Liberation Sans',Arial,sans-serif;font-size:46.5px;font-weight:bold;" xml:space="preserve" >0.0</text>
<line x1="191.9" y1="567.4" x2="207.1" y2="567.4" stroke="#000000" stroke-width="4.0" />
<text transform="translate(181.0,580.4) scale(0.95,1)" text-anchor="end" style="font-family:'Liberation Sans',Arial,sans-serif;font-size:46.5px;font-weight:bold;" xml:space="preserve" >0.2</text>
<line x1="191.9" y1="480.4" x2="207.1" y2="480.4" stroke="#000000" stroke-width="4.0" />
<text transform="translate(181.0,493.4) scale(0.95,1)" text-anchor="end" style="font-family:'Liberation Sans',Arial,sans-serif;font-size:46.5px;font-weight:bold;" xml:space="preserve" >0.4</text>
<line x1="198.9" y1="785.1" x2="207.1" y2="785.1" stroke="#000000" stroke-width="4.0" />
<line x1="198.9" y1="698.0" x2="207.1" y2="698.0" stroke="#000000" stroke-width="4.0" />
<line x1="198.9" y1="611.0" x2="207.1" y2="611.0" stroke="#000000" stroke-width="4.0" />
<line x1="198.9" y1="523.9" x2="207.1" y2="523.9" stroke="#000000" stroke-width="4.0" />
<line x1="198.9" y1="436.9" x2="207.1" y2="436.9" stroke="#000000" stroke-width="4.0" />
<line x1="207.1" y1="814.6" x2="207.1" y2="1168.2" stroke="#000000" stroke-width="4.0" />
<line x1="191.9" y1="1129.4" x2="207.1" y2="1129.4" stroke="#000000" stroke-width="4.0" />
<text transform="translate(181.0,1142.4) scale(0.95,1)" text-anchor="end" style="font-family:'Liberation Sans',Arial,sans-serif;font-size:46.5px;font-weight:bold;" xml:space="preserve" >-0.4</text>
<line x1="191.9" y1="1055.8" x2="207.1" y2="1055.8" stroke="#000000" stroke-width="4.0" />
<text transform="translate(181.0,1068.8) scale(0.95,1)" text-anchor="end" style="font-family:'Liberation Sans',Arial,sans-serif;font-size:46.5px;font-weight:bold;" xml:space="preserve" >0.0</text>
<line x1="191.9" y1="982.2" x2="207.1" y2="982.2" stroke="#000000" stroke-width="4.0" />
<text transform="translate(181.0,995.2) scale(0.95,1)" text-anchor="end" style="font-family:'Liberation Sans',Arial,sans-serif;font-size:46.5px;font-weight:bold;" xml:space="preserve" >0.4</text>
<line x1="191.9" y1="908.6" x2="207.1" y2="908.6" stroke="#000000" stroke-width="4.0" />
<text transform="translate(181.0,921.6) scale(0.95,1)" text-anchor="end" style="font-family:'Liberation Sans',Arial,sans-serif;font-size:46.5px;font-weight:bold;" xml:space="preserve" >0.8</text>
<line x1="191.9" y1="835.0" x2="207.1" y2="835.0" stroke="#000000" stroke-width="4.0" />
<text transform="translate(181.0,848.0) scale(0.95,1)" text-anchor="end" style="font-family:'Liberation Sans',Arial,sans-serif;font-size:46.5px;font-weight:bold;" xml:space="preserve" >1.2</text>
<line x1="198.9" y1="1166.2" x2="207.1" y2="1166.2" stroke="#000000" stroke-width="4.0" />
<line x1="198.9" y1="1092.6" x2="207.1" y2="1092.6" stroke="#000000" stroke-width="4.0" />
<line x1="198.9" y1="1019.0" x2="207.1" y2="1019.0" stroke="#000000" stroke-width="4.0" />
<line x1="198.9" y1="945.4" x2="207.1" y2="945.4" stroke="#000000" stroke-width="4.0" />
<line x1="198.9" y1="871.8" x2="207.1" y2="871.8" stroke="#000000" stroke-width="4.0" />
<line x1="207.1" y1="1196.2" x2="207.1" y2="1564.8" stroke="#000000" stroke-width="4.0" />
<line x1="191.9" y1="1511.0" x2="207.1" y2="1511.0" stroke="#000000" stroke-width="4.0" />
<text transform="translate(181.0,1524.0) scale(0.95,1)" text-anchor="end" style="font-family:'Liberation Sans',Arial,sans-serif;font-size:46.5px;font-weight:bold;" xml:space="preserve" >-0.4</text>
<line x1="191.9" y1="1437.4" x2="207.1" y2="1437.4" stroke="#000000" stroke-width="4.0" />
<text transform="translate(181.0,1450.4) scale(0.95,1)" text-anchor="end" style="font-family:'Liberation Sans',Arial,sans-serif;font-size:46.5px;font-weight:bold;" xml:space="preserve" >0.0</text>
<line x1="191.9" y1="1363.8" x2="207.1" y2="1363.8" stroke="#000000" stroke-width="4.0" />
<text transform="translate(181.0,1376.8) scale(0.95,1)" text-anchor="end" style="font-family:'Liberation Sans',Arial,sans-serif;font-size:46.5px;font-weight:bold;" xml:space="preserve" >0.4</text>
<line x1="191.9" y1="1290.2" x2="207.1" y2="1290.2" stroke="#000000" stroke-width="4.0" />
<text transform="translate(181.0,1303.2) scale(0.95,1)" text-anchor="end" style="font-family:'Liberation Sans',Arial,sans-serif;font-size:46.5px;font-weight:bold;" xml:space="preserve" >0.8</text>
<line x1="191.9" y1="1216.6" x2="207.1" y2="1216.6" stroke="#000000" stroke-width="4.0" />
<text transform="translate(181.0,1229.6) scale(0.95,1)" text-anchor="end" style="font-family:'Liberation Sans',Arial,sans-serif;font-size:46.5px;font-weight:bold;" xml:space="preserve" >1.2</text>
<line x1="198.9" y1="1547.8" x2="207.1" y2="1547.8" stroke="#000000" stroke-width="4.0" />
<line x1="198.9" y1="1474.2" x2="207.1" y2="1474.2" stroke="#000000" stroke-width="4.0" />
<line x1="198.9" y1="1400.6" x2="207.1" y2="1400.6" stroke="#000000" stroke-width="4.0" />
<line x1="198.9" y1="1327.0" x2="207.1" y2="1327.0" stroke="#000000" stroke-width="4.0" />
<line x1="198.9" y1="1253.4" x2="207.1" y2="1253.4" stroke="#000000" stroke-width="4.0" />
<line x1="207.1" y1="1547.8" x2="2271.1" y2="1547.8" stroke="#000000" stroke-width="4.0" />
<line x1="619.5" y1="1547.8" x2="619.5" y2="1563.8" stroke="#000000" stroke-width="4.0" />
<line x1="1031.9" y1="1547.8" x2="1031.9" y2="1563.8" stroke="#000000" stroke-width="4.0" />
<line x1="1444.3" y1="1547.8" x2="1444.3" y2="1563.8" stroke="#000000" stroke-width="4.0" />
<line x1="1856.7" y1="1547.8" x2="1856.7" y2="1563.8" stroke="#000000" stroke-width="4.0" />
<line x1="2269.1" y1="1547.8" x2="2269.1" y2="1563.8" stroke="#000000" stroke-width="4.0" />
<text transform="translate(207.1,1608.4) scale(0.95,1)" text-anchor="middle" style="font-family:'Liberation Sans',Arial,sans-serif;font-size:46.5px;font-weight:bold;" xml:space="preserve" >0</text>
<text transform="translate(619.5,1608.4) scale(0.95,1)" text-anchor="middle" style="font-family:'Liberation Sans',Arial,sans-serif;font-size:46.5px;font-weight:bold;" xml:space="preserve" >1</text>
<text transform="translate(1031.9,1608.4) scale(0.95,1)" text-anchor="middle" style="font-family:'Liberation Sans',Arial,sans-serif;font-size:46.5px;font-weight:bold;" xml:space="preserve" >2</text>
<text transform="translate(1444.3,1608.4) scale(0.95,1)" text-anchor="middle" style="font-family:'Liberation Sans',Arial,sans-serif;font-size:46.5px;font-weight:bold;" xml:space="preserve" >3</text>
<text transform="translate(1856.7,1608.4) scale(0.95,1)" text-anchor="middle" style="font-family:'Liberation Sans',Arial,sans-serif;font-size:46.5px;font-weight:bold;" xml:space="preserve" >4</text>
<text transform="translate(2269.1,1608.4) scale(0.95,1)" text-anchor="middle" style="font-family:'Liberation Sans',Arial,sans-serif;font-size:46.5px;font-weight:bold;" xml:space="preserve" >5</text>
<line x1="413.3" y1="1547.8" x2="413.3" y2="1556.3" stroke="#000000" stroke-width="4.0" />
<line x1="825.7" y1="1547.8" x2="825.7" y2="1556.3" stroke="#000000" stroke-width="4.0" />
<line x1="1238.1" y1="1547.8" x2="1238.1" y2="1556.3" stroke="#000000" stroke-width="4.0" />
<line x1="1650.5" y1="1547.8" x2="1650.5" y2="1556.3" stroke="#000000" stroke-width="4.0" />
<line x1="2062.9" y1="1547.8" x2="2062.9" y2="1556.3" stroke="#000000" stroke-width="4.0" />
<text transform="translate(69.6,1614.1) scale(1.0234,1)" text-anchor="start" style="font-family:'Liberation Sans',Arial,sans-serif;font-size:46.61px;font-weight:bold;" xml:space="preserve" >(p.u.)</text>
<text transform="translate(1148.7,1660.8) scale(1.0591,1)" text-anchor="start" style="font-family:'Liberation Sans',Arial,sans-serif;font-size:44.77px;font-weight:bold;font-style:italic;" xml:space="preserve" >Time (s)</text>
<text transform="translate(1162.2,1768.8)" text-anchor="middle" style="font-family:'Liberation Serif',serif;font-size:84px;">(<tspan style="font-weight:bold">a</tspan>)</text>
<text transform="translate(85.0,337.0) rotate(-90) scale(0.9431,1)" text-anchor="start" style="font-family:'Liberation Sans',Arial,sans-serif;font-size:50.0px;font-weight:bold;font-style:italic;" xml:space="preserve" >P<tspan dy="13.0" font-size="50.0">1</tspan><tspan dy="-13.0"> &amp; Q</tspan><tspan dy="13.0" font-size="50.0">1</tspan></text>
<text transform="translate(74.2,726.5) rotate(-90) scale(0.9271,1)" text-anchor="start" style="font-family:'Liberation Sans',Arial,sans-serif;font-size:50.61px;font-weight:bold;font-style:italic;" xml:space="preserve" >P<tspan dy="13.2" font-size="50.6">12</tspan><tspan dy="-13.2"> &amp; Q</tspan><tspan dy="13.2" font-size="50.6">12</tspan></text>
<text transform="translate(74.0,1081.9) rotate(-90) scale(0.9426,1)" text-anchor="start" style="font-family:'Liberation Sans',Arial,sans-serif;font-size:50.0px;font-weight:bold;font-style:italic;" xml:space="preserve" >P<tspan dy="13.0" font-size="50.0">2</tspan><tspan dy="-13.0"> &amp; Q</tspan><tspan dy="13.0" font-size="50.0">2</tspan></text>
<text transform="translate(74.0,1456.3) rotate(-90) scale(0.9631,1)" text-anchor="start" style="font-family:'Liberation Sans',Arial,sans-serif;font-size:50.0px;font-weight:bold;font-style:italic;" xml:space="preserve" >P<tspan dy="13.0" font-size="50.0">r</tspan><tspan dy="-13.0"> &amp; Q</tspan><tspan dy="13.0" font-size="50.0">r</tspan></text>
<line x1="1911.8" y1="74.8" x2="2002.9" y2="74.8" stroke="#ff0000" stroke-width="6.4" />
<text transform="translate(2015.8,89.0) scale(0.9475,1)" text-anchor="start" style="font-family:'Liberation Sans',Arial,sans-serif;font-size:45.21px;font-weight:bold;font-style:italic;" xml:space="preserve" >P<tspan dy="12.7" font-size="45.2">1</tspan></text>
<line x1="2080.2" y1="74.8" x2="2171.0" y2="74.8" stroke="#0000ff" stroke-width="6.4" />
<text transform="translate(2185.8,89.0) scale(0.9475,1)" text-anchor="start" style="font-family:'Liberation Sans',Arial,sans-serif;font-size:45.21px;font-weight:bold;font-style:italic;" xml:space="preserve" >Q<tspan dy="12.7" font-size="45.2">1</tspan></text>
<line x1="1876.4" y1="708.2" x2="1966.2" y2="708.2" stroke="#ff0000" stroke-width="6.4" />
<text transform="translate(1980.7,721.5) scale(0.9475,1)" text-anchor="start" style="font-family:'Liberation Sans',Arial,sans-serif;font-size:45.21px;font-weight:bold;font-style:italic;" xml:space="preserve" >P<tspan dy="12.7" font-size="45.2">12</tspan></text>
<line x1="2068.8" y1="708.2" x2="2159.7" y2="708.2" stroke="#0000ff" stroke-width="6.4" />
<text transform="translate(2174.7,721.5) scale(0.9475,1)" text-anchor="start" style="font-family:'Liberation Sans',Arial,sans-serif;font-size:45.21px;font-weight:bold;font-style:italic;" xml:space="preserve" >Q<tspan dy="12.7" font-size="45.2">12</tspan></text>
<line x1="1905.8" y1="833.4" x2="1996.7" y2="833.4" stroke="#ff0000" stroke-width="6.4" />
<text transform="translate(2009.0,846.8) scale(0.9475,1)" text-anchor="start" style="font-family:'Liberation Sans',Arial,sans-serif;font-size:45.21px;font-weight:bold;font-style:italic;" xml:space="preserve" >P<tspan dy="12.7" font-size="45.2">2</tspan></text>
<line x1="2074.2" y1="833.4" x2="2165.0" y2="833.4" stroke="#0000ff" stroke-width="6.4" />
<text transform="translate(2178.4,846.8) scale(0.9475,1)" text-anchor="start" style="font-family:'Liberation Sans',Arial,sans-serif;font-size:45.21px;font-weight:bold;font-style:italic;" xml:space="preserve" >Q<tspan dy="12.7" font-size="45.2">2</tspan></text>
<line x1="1876.4" y1="1178.7" x2="1967.3" y2="1178.7" stroke="#ff0000" stroke-width="6.4" />
<text transform="translate(1980.7,1191.5) scale(0.9475,1)" text-anchor="start" style="font-family:'Liberation Sans',Arial,sans-serif;font-size:45.21px;font-weight:bold;font-style:italic;" xml:space="preserve" >P<tspan dy="12.7" font-size="45.2">r</tspan></text>
<line x1="2074.2" y1="1178.7" x2="2165.0" y2="1178.7" stroke="#0000ff" stroke-width="6.4" />
<text transform="translate(2180.0,1191.5) scale(0.9475,1)" text-anchor="start" style="font-family:'Liberation Sans',Arial,sans-serif;font-size:45.21px;font-weight:bold;font-style:italic;" xml:space="preserve" >Q<tspan dy="12.7" font-size="45.2">r</tspan></text>
<line x1="1876.4" y1="1253.0" x2="1951.0" y2="1253.0" stroke="#008000" stroke-width="6.4" stroke-dasharray="22,30"/>
<text transform="translate(1980.7,1266.4) scale(0.9475,1)" text-anchor="start" style="font-family:'Liberation Sans',Arial,sans-serif;font-size:45.21px;font-weight:bold;font-style:italic;" xml:space="preserve" >P<tspan dy="12.7" font-size="45.2">ref</tspan></text>
<line x1="2077.0" y1="1253.0" x2="2152.0" y2="1253.0" stroke="#ff00ff" stroke-width="6.4" stroke-dasharray="22,30"/>
<text transform="translate(2182.7,1266.4) scale(0.9475,1)" text-anchor="start" style="font-family:'Liberation Sans',Arial,sans-serif;font-size:45.21px;font-weight:bold;font-style:italic;" xml:space="preserve" >Q<tspan dy="12.7" font-size="45.2">ref</tspan></text>
<path d="M1622.8,433H1720.9" stroke="#000" stroke-width="8" fill="none" stroke-dasharray="16.5,15.399999999999999,10.5,17.4"/>
<path d="M1626.8,437.0V800.6" stroke="#000" stroke-width="8" fill="none" stroke-dasharray="10.5,17.4" stroke-dashoffset="-11.399999999999999"/>
<path d="M1716.9,437.0V800.6" stroke="#000" stroke-width="8" fill="none" stroke-dasharray="10.5,17.4" stroke-dashoffset="-11.399999999999999"/>
<path d="M1622.8,800.6H1720.9" stroke="#000" stroke-width="8" fill="none" stroke-dasharray="16.5,15.399999999999999,10.5,17.4"/>
<line x1="1675.3" y1="428.2" x2="1739.6" y2="384.6" stroke="#000000" stroke-width="4.2" />
<polygon points="1761.1,370.0 1742.7,394.6 1741.9,383.0 1731.5,378.0" fill="#000"/>
<line x1="1825.0" y1="270.2" x2="1825.0" y2="498.8" stroke="#000000" stroke-width="1.2" />
<line x1="1821.0" y1="498.3" x2="2241.0" y2="498.3" stroke="#000000" stroke-width="1.2" />
<line x1="1818.0" y1="308.1" x2="1825.0" y2="308.1" stroke="#000000" stroke-width="1.2" />
<text transform="translate(1815.2,318.5) scale(0.955,1)" text-anchor="end" style="font-family:'Liberation Sans',Arial,sans-serif;font-size:33.8px;" xml:space="preserve" stroke="#000" stroke-width="0.8">0.4</text>
<line x1="1818.0" y1="384.1" x2="1825.0" y2="384.1" stroke="#000000" stroke-width="1.2" />
<text transform="translate(1815.2,394.5) scale(0.955,1)" text-anchor="end" style="font-family:'Liberation Sans',Arial,sans-serif;font-size:33.8px;" xml:space="preserve" stroke="#000" stroke-width="0.8">0.0</text>
<line x1="1818.0" y1="460.1" x2="1825.0" y2="460.1" stroke="#000000" stroke-width="1.2" />
<text transform="translate(1815.2,470.5) scale(0.955,1)" text-anchor="end" style="font-family:'Liberation Sans',Arial,sans-serif;font-size:33.8px;" xml:space="preserve" stroke="#000" stroke-width="0.8">-0.4</text>
<line x1="1821.0" y1="270.0" x2="1825.0" y2="270.0" stroke="#000000" stroke-width="1.2" />
<line x1="1821.0" y1="346.1" x2="1825.0" y2="346.1" stroke="#000000" stroke-width="1.2" />
<line x1="1821.0" y1="422.1" x2="1825.0" y2="422.1" stroke="#000000" stroke-width="1.2" />
<line x1="1907.2" y1="498.3" x2="1907.2" y2="505.0" stroke="#000000" stroke-width="1.2" />
<text transform="translate(1907.2,533.4) scale(0.955,1)" text-anchor="middle" style="font-family:'Liberation Sans',Arial,sans-serif;font-size:33.8px;" xml:space="preserve" stroke="#000" stroke-width="0.8">3.50</text>
<line x1="1990.5" y1="498.3" x2="1990.5" y2="505.0" stroke="#000000" stroke-width="1.2" />
<text transform="translate(1990.5,533.4) scale(0.955,1)" text-anchor="middle" style="font-family:'Liberation Sans',Arial,sans-serif;font-size:33.8px;" xml:space="preserve" stroke="#000" stroke-width="0.8">3.52</text>
<line x1="2073.8" y1="498.3" x2="2073.8" y2="505.0" stroke="#000000" stroke-width="1.2" />
<text transform="translate(2073.8,533.4) scale(0.955,1)" text-anchor="middle" style="font-family:'Liberation Sans',Arial,sans-serif;font-size:33.8px;" xml:space="preserve" stroke="#000" stroke-width="0.8">3.54</text>
<line x1="2157.1" y1="498.3" x2="2157.1" y2="505.0" stroke="#000000" stroke-width="1.2" />
<text transform="translate(2157.1,533.4) scale(0.955,1)" text-anchor="middle" style="font-family:'Liberation Sans',Arial,sans-serif;font-size:33.8px;" xml:space="preserve" stroke="#000" stroke-width="0.8">3.56</text>
<line x1="2240.4" y1="498.3" x2="2240.4" y2="505.0" stroke="#000000" stroke-width="1.2" />
<text transform="translate(2240.4,533.4) scale(0.955,1)" text-anchor="middle" style="font-family:'Liberation Sans',Arial,sans-serif;font-size:33.8px;" xml:space="preserve" stroke="#000" stroke-width="0.8">3.58</text>
<line x1="1865.6" y1="498.3" x2="1865.6" y2="502.0" stroke="#000000" stroke-width="1.2" />
<line x1="1948.8" y1="498.3" x2="1948.8" y2="502.0" stroke="#000000" stroke-width="1.2" />
<line x1="2032.1" y1="498.3" x2="2032.1" y2="502.0" stroke="#000000" stroke-width="1.2" />
<line x1="2115.4" y1="498.3" x2="2115.4" y2="502.0" stroke="#000000" stroke-width="1.2" />
<line x1="2198.7" y1="498.3" x2="2198.7" y2="502.0" stroke="#000000" stroke-width="1.2" />
<clipPath id="cb1"><rect x="190" y="1821" width="2085" height="322"/></clipPath>
<polyline points="192.7,2103.9 194.4,2038.5 195.8,1953.3 197.5,1917.5 200.2,1914.5 205.3,1913.1 208.7,1909.7 213.9,1898.8 226.9,1852.8 230.9,1843.4 233.9,1838.6 237.9,1835.2 240.9,1834.1 244.9,1834.7 248.9,1836.3 251.9,1839 255.9,1844.2 261.9,1855 268.9,1863.5 277.9,1872 284.9,1876.7 294.9,1881.8 307.9,1886.4 320.9,1889.5 349.9,1893.5 389.9,1897.5 452,1900.5 513,1901.7 594,1902.2 609,1901.6 618,1903.9 631,1909.1 643,1912.6 663.1,1916.3 684.1,1918.9 704.1,1920.4 739.1,1921.1 766.1,1921.6 815.1,1921.6 819.1,1920.2 825.1,1917 831.1,1913.4 841.1,1909.3 863.1,1903.1 879.2,1900.3 921.2,1894.4 930.2,1892.7 933.2,1893.7 942.2,1897.9 948.2,1898 965.2,1896.5 994.2,1894.1 1126.3,1893 1322.4,1892.7 1404.4,1892.5 1449.4,1890.6 1557.5,1890.4 1617.5,1890 1643.5,1890.5 1672.5,1894.6 1695.5,1895.4 1705.5,1895 1739.6,1896.4 1789.6,1896.9 1801.6,1896.2 1852.6,1896.7 1857.6,1898.3 1872.6,1904.9 1885.6,1907.3 1902.6,1908.4 1957.7,1909.5 2050.7,1910.6 2064.7,1911.5 2094.7,1914.9 2109.7,1917 2138.7,1919 2186.8,1920.3 2244.8,1920.5 2265.8,1920.2" fill="none" stroke="#ff0000" stroke-width="6.0" stroke-linejoin="round" stroke-linecap="butt" clip-path="url(#cb1)"/>
<polyline points="192.7,2102.6 195.7,2100.8 199.7,2096.7 202.7,2092.1 205.7,2085 208.7,2069.1 216.7,2025.8 222.7,1999.2 224.7,1992.6 225.8,1991.5 227.7,1992.1 230.7,1994.8 232.7,1998.5 233.7,2001.4 235.7,2014.9 238.7,2038.9 246.7,2090.2 250.7,2110.2 251.7,2114.1 253,2116.9 256.7,2119.5 259.8,2120.3 261.7,2119.4 274.7,2103.6 281.7,2098.3 287.7,2095.5 296.7,2092.8 311.7,2090.9 342.7,2088.9 400.7,2088.2 544.7,2088.7 609.7,2088.8 620.7,2086.9 638.7,2081.1 650.7,2078.2 668.7,2075.8 696.7,2073.9 732.7,2073.3 771.7,2073 793.7,2072 799.7,2072.6 810.7,2071.9 817.7,2073 839.7,2082.9 852.7,2086.9 867.7,2089.9 917.7,2096.4 924.8,2097.9 929.8,2099.1 932.8,2098.7 939.8,2095.8 943.8,2094.4 952.8,2093.7 961.8,2094.4 971.8,2096 1002.8,2098.1 1198.8,2098.5 1245.8,2098.6 1251.3,2099.8 1311.8,2099.4 1321.8,2098.8 1404.8,2099 1416.8,2099.9 1456.8,2100.2 1462.8,2101.2 1649.8,2101 1672.8,2097.2 1716.8,2095.5 1736.8,2095 1836.8,2094.8 1854.8,2093.9 1861.8,2092.4 1869.3,2088.5 1879.8,2086.3 1902.8,2084.1 1938.8,2082.4 2074.8,2082.2 2082.8,2080.1 2100.8,2077.6 2132.8,2075.2 2176.8,2073.8 2265.8,2073.8" fill="none" stroke="#0000ff" stroke-width="6.0" stroke-linejoin="round" stroke-linecap="butt" clip-path="url(#cb1)"/>
<line x1="191.7" y1="1906.6" x2="211.1" y2="1906.6" stroke="#008000" stroke-width="7.0" />
<line x1="239.8" y1="1906.6" x2="259.2" y2="1906.6" stroke="#008000" stroke-width="7.0" />
<line x1="288.0" y1="1906.6" x2="307.4" y2="1906.6" stroke="#008000" stroke-width="7.0" />
<line x1="336.1" y1="1906.6" x2="355.5" y2="1906.6" stroke="#008000" stroke-width="7.0" />
<line x1="384.3" y1="1906.6" x2="403.7" y2="1906.6" stroke="#008000" stroke-width="7.0" />
<line x1="432.4" y1="1906.6" x2="451.8" y2="1906.6" stroke="#008000" stroke-width="7.0" />
<line x1="480.5" y1="1906.6" x2="499.9" y2="1906.6" stroke="#008000" stroke-width="7.0" />
<line x1="528.7" y1="1906.6" x2="548.1" y2="1906.6" stroke="#008000" stroke-width="7.0" />
<line x1="576.8" y1="1906.6" x2="596.2" y2="1906.6" stroke="#008000" stroke-width="7.0" />
<line x1="625.0" y1="1906.6" x2="644.4" y2="1906.6" stroke="#008000" stroke-width="7.0" />
<line x1="673.1" y1="1906.6" x2="692.5" y2="1906.6" stroke="#008000" stroke-width="7.0" />
<line x1="721.2" y1="1906.6" x2="740.6" y2="1906.6" stroke="#008000" stroke-width="7.0" />
<line x1="769.4" y1="1906.6" x2="788.8" y2="1906.6" stroke="#008000" stroke-width="7.0" />
<line x1="817.5" y1="1906.6" x2="836.9" y2="1906.6" stroke="#008000" stroke-width="7.0" />
<line x1="865.7" y1="1906.6" x2="885.1" y2="1906.6" stroke="#008000" stroke-width="7.0" />
<line x1="913.8" y1="1906.6" x2="933.2" y2="1906.6" stroke="#008000" stroke-width="7.0" />
<line x1="961.9" y1="1906.6" x2="981.3" y2="1906.6" stroke="#008000" stroke-width="7.0" />
<line x1="1010.1" y1="1906.6" x2="1029.5" y2="1906.6" stroke="#008000" stroke-width="7.0" />
<line x1="1058.2" y1="1906.6" x2="1077.6" y2="1906.6" stroke="#008000" stroke-width="7.0" />
<line x1="1106.4" y1="1906.6" x2="1125.8" y2="1906.6" stroke="#008000" stroke-width="7.0" />
<line x1="1154.5" y1="1906.6" x2="1173.9" y2="1906.6" stroke="#008000" stroke-width="7.0" />
<line x1="1202.6" y1="1906.6" x2="1222.0" y2="1906.6" stroke="#008000" stroke-width="7.0" />
<line x1="1250.8" y1="1906.6" x2="1270.2" y2="1906.6" stroke="#008000" stroke-width="7.0" />
<line x1="1298.9" y1="1906.6" x2="1318.3" y2="1906.6" stroke="#008000" stroke-width="7.0" />
<line x1="1347.1" y1="1906.6" x2="1366.5" y2="1906.6" stroke="#008000" stroke-width="7.0" />
<line x1="1395.2" y1="1906.6" x2="1414.6" y2="1906.6" stroke="#008000" stroke-width="7.0" />
<line x1="1443.3" y1="1906.6" x2="1462.7" y2="1906.6" stroke="#008000" stroke-width="7.0" />
<line x1="1491.5" y1="1906.6" x2="1510.9" y2="1906.6" stroke="#008000" stroke-width="7.0" />
<line x1="1539.6" y1="1906.6" x2="1559.0" y2="1906.6" stroke="#008000" stroke-width="7.0" />
<line x1="1587.8" y1="1906.6" x2="1607.2" y2="1906.6" stroke="#008000" stroke-width="7.0" />
<line x1="1635.9" y1="1906.6" x2="1655.3" y2="1906.6" stroke="#008000" stroke-width="7.0" />
<line x1="1684.0" y1="1906.6" x2="1703.4" y2="1906.6" stroke="#008000" stroke-width="7.0" />
<line x1="1732.2" y1="1906.6" x2="1751.6" y2="1906.6" stroke="#008000" stroke-width="7.0" />
<line x1="1780.3" y1="1906.6" x2="1799.7" y2="1906.6" stroke="#008000" stroke-width="7.0" />
<line x1="1828.5" y1="1906.6" x2="1847.9" y2="1906.6" stroke="#008000" stroke-width="7.0" />
<line x1="1876.6" y1="1906.6" x2="1896.0" y2="1906.6" stroke="#008000" stroke-width="7.0" />
<line x1="1924.7" y1="1906.6" x2="1944.1" y2="1906.6" stroke="#008000" stroke-width="7.0" />
<line x1="1972.9" y1="1906.6" x2="1992.3" y2="1906.6" stroke="#008000" stroke-width="7.0" />
<line x1="2021.0" y1="1906.6" x2="2040.4" y2="1906.6" stroke="#008000" stroke-width="7.0" />
<line x1="2069.2" y1="1906.6" x2="2088.6" y2="1906.6" stroke="#008000" stroke-width="7.0" />
<line x1="2117.3" y1="1906.6" x2="2136.7" y2="1906.6" stroke="#008000" stroke-width="7.0" />
<line x1="2165.4" y1="1906.6" x2="2184.8" y2="1906.6" stroke="#008000" stroke-width="7.0" />
<line x1="2213.6" y1="1906.6" x2="2233.0" y2="1906.6" stroke="#008000" stroke-width="7.0" />
<line x1="2261.7" y1="1906.6" x2="2266.5" y2="1906.6" stroke="#008000" stroke-width="7.0" />
<clipPath id="cb2"><rect x="190" y="2176" width="2085" height="323"/></clipPath>
<polyline points="192,2258.2 605.2,2258 610.8,2257.1 614.2,2255.1 619.3,2258.8 632.9,2261.2 667,2258.1 697.7,2257.8 1645.7,2258 1650.7,2256.7 2054.7,2256.7 2058.8,2254.7 2062.9,2252.2 2073,2260.4 2085.3,2263.7 2097.5,2263.7 2117.9,2261.6 2138.2,2260.8 2265.8,2260.8" fill="none" stroke="#ff0000" stroke-width="6.0" stroke-linejoin="round" stroke-linecap="butt" clip-path="url(#cb2)"/>
<polyline points="192,2258.4 200,2254.4 212,2253.1 606.2,2253.1 615.9,2245.6 805.8,2245.6 819.5,2255.8 826.3,2256.7 1230.3,2256.7 1233.3,2258.7 1643.7,2258.7 1649.7,2254.5 2061.6,2254.4 2066.9,2248.3 2071,2243 2265.8,2243" fill="none" stroke="#0000ff" stroke-width="6.0" stroke-linejoin="round" stroke-linecap="butt" clip-path="url(#cb2)"/>
<polyline points="192,2258 200,2254 212,2252.7 606.2,2252.7 615.9,2245.2 805.8,2245.2 819.5,2255.4 826.3,2256.3 1643.7,2256.3 1649.7,2253.1 2058.1,2253.1 2061.6,2252.2 2066.9,2246.1 2071,2240.8 2265.8,2240.8" fill="none" stroke="#ff00ff" stroke-width="6.0" stroke-linejoin="round" stroke-linecap="butt" clip-path="url(#cb2)"/>
<polyline points="193.4,2259.5 195.5,2245.2 198.5,2235.3 203.6,2236.7 210.4,2237 224.1,2239 239.4,2239 246.2,2234.3 253,2231.6 271.8,2231.6 292.2,2232.6 294.2,2232.3 301.1,2233.5 308,2232.3 314.9,2233.5 321.8,2232.3 328.7,2233.5 335.6,2232.3 342.5,2233.5 349.4,2232.3 356.3,2233.5 363.2,2232.3 370.1,2233.5 377,2232.3 383.9,2233.5 390.8,2232.3 397.7,2233.5 404.6,2232.3 411.5,2233.5 418.4,2232.3 425.3,2233.5 432.2,2232.3 439.1,2233.5 446,2232.3 452.9,2233.5 459.8,2232.3 466.7,2233.5 473.6,2232.3 480.5,2233.5 487.4,2232.3 494.3,2233.5 501.2,2232.3 508.1,2233.5 515,2232.3 521.9,2233.5 528.8,2232.3 535.7,2233.5 542.6,2232.3 549.5,2233.5 556.4,2232.3 563.3,2233.5 570.2,2232.3 577.1,2233.5 584,2232.3 590.9,2233.5 597.8,2232.3 604.7,2233.5 611.6,2232.3 613.5,2232.6 615.2,2236.7 617.6,2248.6 622.7,2262.2 629.5,2268.3 636.3,2269.7 646.6,2267.3 660.2,2262.9 673.8,2260.5 690.9,2259.1 805.8,2258.8 808.9,2260.7 811,2261.5 814.9,2262.2 815.9,2262.2 816.9,2261.8 817.9,2261 819.9,2258.8 821.2,2257.1 821.9,2255.6 823.9,2249 824.9,2245.4 826.3,2241.8 829,2237.5 831,2235 833,2233.3 837,2231.4 839,2230.9 843,2231 850.1,2232.2 853.1,2233.1 859.1,2236.1 864.1,2238.5 874.2,2242.5 882.2,2244.6 888.2,2245.7 893.2,2245.8 900.3,2245.2 906.3,2244.1 910.3,2242.7 914.9,2240.1 916.4,2238.6 920.4,2233 922.4,2230.9 925.4,2228.4 927.4,2227.3 929.4,2227.1 934.4,2227.2 936.5,2228 944.5,2234.1 948.5,2237.4 950.5,2238.3 957.5,2239.5 962.6,2239.7 971.5,2241.3 978.4,2240.1 985.3,2241.3 992.2,2240.1 999.1,2241.3 1006,2240.1 1012.9,2241.3 1019.8,2240.1 1026.7,2241.3 1033.6,2240.1 1040.5,2241.3 1047.4,2240.1 1054.3,2241.3 1061.2,2240.1 1068.1,2241.3 1075,2240.1 1081.9,2241.3 1088.8,2240.1 1095.7,2241.3 1102.6,2240.1 1109.5,2241.3 1116.4,2240.1 1123.3,2241.3 1130.2,2240.1 1137.1,2241.3 1144,2240.1 1150.9,2241.3 1157.8,2240.1 1164.7,2241.3 1171.6,2240.1 1178.5,2241.3 1185.4,2240.1 1192.3,2241.3 1199.2,2240.1 1206.1,2241.3 1213,2240.1 1219.9,2241.3 1226.8,2240.1 1228.2,2240.4 1229.2,2240.1 1230.2,2262.2 1232.6,2364.4 1234.6,2480.3 1235.3,2488.8 1241.1,2480.3 1249.6,2476.9 1258.1,2476.2 1275.2,2478.6 1299,2481.3 1326.3,2483 1360.4,2484.4 1394.4,2486.4 1414.9,2486.4 1428.5,2483 1442.1,2481.6 1496.6,2482 1643.2,2482 1644.9,2432.6 1646.6,2330.4 1648.3,2245.2 1650,2181.1 1652.7,2189 1656.8,2204.3 1663.6,2212.8 1672.1,2215.5 1684,2213.8 1706.3,2209.9 1730.7,2207.4 1848.9,2207.4 1852.2,2231.9 1856.3,2252.2 1861.1,2254.3 2056.7,2254.3 2060.8,2235.9 2064.9,2213.5 2069,2235.9 2073,2268.5 2079.2,2286.9 2087.3,2293.8 2095.5,2293.8 2126,2278.7 2142.3,2275.5 2170.8,2274.7 2265.8,2274.7" fill="none" stroke="#008000" stroke-width="6.0" stroke-linejoin="round" stroke-linecap="butt" clip-path="url(#cb2)"/>
<clipPath id="cb3"><rect x="190" y="2530" width="2085" height="324"/></clipPath>
<polyline points="194.1,2705.3 196.4,2714.4 198.7,2718.6 201,2718.7 203.3,2711.1 205.6,2698.5 208,2684.5 210.3,2665.4 212.6,2643.8 214.9,2622.5 217.2,2597.3 219.5,2581.3 221.8,2588.5 224.1,2613.9 226.4,2644.3 228.7,2669.1 231,2693.7 233.3,2718.1 235.6,2740.9 238,2760.5 240.3,2780.3 242.6,2799 244.9,2811.4 247.2,2810.1 249.5,2780.3 251.8,2740.9 254.1,2712.5 256.4,2685.5 258.7,2660.3 261,2642 263.3,2635.2 265.6,2645.7 268,2668.7 270.3,2694.2 272.6,2713.2 274.9,2731.5 277.2,2748.7 279.5,2760.9 281.8,2764 284.1,2754.7 286.4,2736.3 288.7,2714 291,2692.5 293.3,2675.4 295.6,2656.5 298,2638.3 300.3,2624.8 302.6,2619.9 304.9,2627.7 307.2,2645.8 309.5,2668.6 311.8,2690.4 314.1,2708.9 316.4,2730 318.7,2750.7 321,2766.7 323.3,2773.8 325.7,2767.1 328,2748.4 330.3,2724.2 332.6,2701.4 334.9,2683.6 337.2,2666.3 339.5,2649.4 341.8,2632.9 344.1,2617.6 346.4,2624.6 348.7,2640.2 351,2662.5 353.3,2688.9 355.7,2716.1 358,2740.9 360.3,2760.3 362.6,2771.9 364.9,2774.4 367.2,2767.4 369.5,2751.8 371.8,2729.5 374.1,2703.1 376.4,2676 378.7,2651.2 381,2631.8 383.3,2620.1 385.7,2617.6 388,2624.5 390.3,2640 392.6,2662.3 394.9,2688.6 397.2,2715.8 399.5,2740.6 401.8,2760.1 404.1,2771.8 406.4,2774.4 408.7,2767.6 411,2752.1 413.3,2729.9 415.7,2703.3 418,2675.9 420.3,2650.9 422.6,2631.5 424.9,2619.9 427.2,2617.7 429.5,2625 431.8,2641.1 434.1,2663.9 436.4,2690.6 438.7,2718 441,2742.7 443.3,2761.6 445.7,2772.6 448,2774.1 450.3,2766 452.6,2749.4 454.9,2726.3 457.2,2699.7 459.5,2672.6 461.8,2648.4 464.1,2629.8 466.4,2619.3 468.7,2617.9 471,2626 473.3,2642.5 475.7,2665.4 478,2692 480.3,2719.1 482.6,2743.4 484.9,2762 487.2,2772.6 489.5,2774.1 491.8,2766.1 494.1,2749.7 496.4,2726.8 498.7,2700.2 501,2673.1 503.3,2648.8 505.7,2630.1 508,2619.4 510.3,2617.9 512.6,2625.8 514.9,2642.1 517.2,2665 519.5,2691.5 521.8,2718.6 524.1,2743 526.4,2761.7 528.7,2772.5 531,2774.1 533.4,2766.3 535.7,2750 538,2727.2 540.3,2700.4 542.6,2673 544.9,2648.5 547.2,2629.8 549.5,2619.2 551.8,2618 554.1,2626.4 556.4,2643.3 558.7,2666.7 561,2693.6 563.4,2720.9 565.7,2745.1 568,2763.2 570.3,2773.2 572.6,2773.7 574.9,2764.6 577.2,2747.2 579.5,2721.6 581.8,2690.2 584.1,2659.8 586.4,2635.2 588.7,2620.4 591,2617.9 593.4,2628 595.7,2649.1 598,2677.8 600.3,2709.4 602.6,2738.8 604.9,2761.4 607.2,2773.3 609.5,2772.8 611.8,2759.7 614.1,2736.1 616.4,2710.1 618.7,2682.5 621,2656.4 623.4,2634.8 625.7,2620.4 628,2614.8 630.3,2618.7 632.6,2631.6 634.9,2652.1 637.2,2677.6 639.5,2705.1 641.8,2731.5 644.1,2753.4 646.4,2768.5 648.7,2774.7 651,2771.5 653.4,2759.2 655.7,2739.2 658,2713.4 660.3,2685.2 662.6,2658.1 664.9,2635.7 667.2,2620.6 669.5,2614.8 671.8,2618.9 674.1,2632.6 676.4,2654 678.7,2680.4 681,2708.7 683.4,2735.3 685.7,2756.8 688,2770.5 690.3,2774.8 692.6,2769.1 694.9,2754.2 697.2,2731.8 699.5,2704.8 701.8,2676.5 704.1,2650.6 706.4,2630.1 708.7,2617.7 711,2615 713.4,2622.2 715.7,2638.6 718,2661.9 720.3,2689.4 722.6,2717.5 724.9,2742.8 727.2,2762.1 729.5,2773 731.8,2774.1 734.1,2765.3 736.4,2747.7 738.7,2723.6 741.1,2696.4 743.4,2668.9 745.7,2644.6 748,2626.3 750.3,2616.3 752.6,2615.7 754.9,2624.6 757.2,2642 759.5,2665.7 761.8,2692.9 764.1,2720.4 766.4,2744.8 768.7,2763.1 771.1,2773.3 773.4,2774 775.7,2765.1 778,2747.8 780.3,2724.8 782.6,2699.4 784.9,2673.4 787.2,2649.8 789.5,2630.9 791.8,2618.8 794.1,2614.7 796.4,2619.2 798.7,2631.7 801.1,2650.8 803.4,2674.6 805.7,2700.6 808,2726 810.3,2748 812.6,2764.4 814.9,2773.4 817.2,2774.9 819.5,2767.8 821.8,2752.7 824.1,2731.2 826.4,2705.7 828.7,2678.6 831.1,2652.5 833.4,2630.2 835.7,2614 838,2605.8 840.3,2606.5 842.6,2616.5 844.9,2634.5 847.2,2659 849.5,2687.5 851.8,2717.1 854.1,2744.9 856.4,2767.9 858.7,2783.7 861.1,2790.5 863.4,2787.6 865.7,2775 868,2753.9 870.3,2725 872.6,2691.2 874.9,2657.3 877.2,2627.4 879.5,2605.1 881.8,2593.1 884.1,2593.1 886.4,2605.2 888.7,2628.1 891.1,2659.2 893.4,2694.8 895.7,2730.8 898,2762.8 900.3,2786.2 902.6,2798.6 904.9,2798.6 907.2,2786.2 909.5,2763 911.8,2731.3 914.1,2694.8 916.4,2658.5 918.8,2630.3 921.1,2613.8 923.4,2609.7 925.7,2616.7 928,2632.4 930.3,2650.6 932.6,2671.4 934.9,2695.6 937.2,2720.1 939.5,2741.8 941.8,2756.9 944.1,2763.9 946.4,2761.9 948.8,2751 951.1,2732.7 953.4,2709.5 955.7,2684.3 958,2659.9 960.3,2639.3 962.6,2625 964.9,2618.7 967.2,2621.2 969.5,2632.1 971.8,2650.2 974.1,2673.3 976.4,2698.5 978.8,2722.9 981.1,2743.5 983.4,2757.8 985.7,2764.1 988,2761.6 990.3,2750.7 992.6,2732.6 994.9,2709.5 997.2,2684.3 999.5,2659.9 1001.8,2639.3 1004.1,2624.4 1006.4,2618.5 1008.8,2619.1 1011.1,2629.8 1013.4,2648.2 1015.7,2672.2 1018,2699 1020.3,2725.4 1022.6,2748.2 1024.9,2763.8 1027.2,2763.3 1029.5,2762.7 1031.8,2756.6 1034.1,2737.1 1036.4,2711.7 1038.8,2683.3 1041.1,2655.6 1043.4,2632.2 1045.7,2623.7 1048,2623.7 1050.3,2623.7 1052.6,2630.7 1054.9,2653.2 1057.2,2680.8 1059.5,2709.9 1061.8,2736.7 1064.1,2758 1066.4,2761.5 1068.8,2761.5 1071.1,2761.5 1073.4,2749.1 1075.7,2725 1078,2697.2 1080.3,2668.7 1082.6,2643.3 1084.9,2623.9 1087.2,2623.7 1089.5,2623.7 1091.8,2623.7 1094.1,2639 1096.4,2663.5 1098.8,2691.7 1101.1,2719.9 1103.4,2744.8 1105.7,2761.5 1108,2761.5 1110.3,2761.5 1112.6,2761.5 1114.9,2743.4 1117.2,2718.2 1119.5,2689.8 1121.8,2661.8 1124.1,2637.6 1126.5,2623.7 1128.8,2623.7 1131.1,2623.7 1133.4,2625.1 1135.7,2645.1 1138,2670.9 1140.3,2699.5 1142.6,2727.2 1144.9,2750.6 1147.2,2761.5 1149.5,2761.5 1151.8,2761.5 1154.1,2757.7 1156.5,2736.7 1158.8,2709.9 1161.1,2680.8 1163.4,2653.2 1165.7,2630.7 1168,2623.7 1170.3,2623.7 1172.6,2623.7 1174.9,2632.2 1177.2,2655.3 1179.5,2683.1 1181.8,2712.2 1184.1,2738.7 1186.5,2759.3 1188.8,2761.5 1191.1,2761.5 1193.4,2761.5 1195.7,2747.4 1198,2722.8 1200.3,2694.5 1202.6,2666 1204.9,2640.8 1207.2,2623.7 1209.5,2623.7 1211.8,2623.7 1214.1,2623.7 1216.5,2642.3 1218.8,2667.8 1221.1,2696.4 1223.4,2724.5 1225.7,2748.7 1228,2761.5 1230.3,2761.5 1232.6,2761.8 1234.9,2758.7 1237.2,2738 1239.5,2713.3 1241.8,2687 1244.1,2661.7 1246.5,2639.8 1248.8,2623.8 1251.1,2621.7 1253.4,2621.7 1255.7,2622.5 1258,2637.6 1260.3,2658.2 1262.6,2682.1 1264.9,2706.8 1267.2,2729.6 1269.5,2748.1 1271.8,2760.5 1274.1,2762.7 1276.5,2762.7 1278.8,2753.9 1281.1,2737.5 1283.4,2715.7 1285.7,2690.9 1288,2666.2 1290.3,2644.6 1292.6,2628.4 1294.9,2621.7 1297.2,2621.7 1299.5,2626.9 1301.8,2642.3 1304.1,2663.4 1306.5,2687.9 1308.8,2712.8 1311.1,2735.4 1313.4,2753 1315.7,2762.7 1318,2762.7 1320.3,2760 1322.6,2746.1 1324.9,2726.1 1327.2,2701.8 1329.5,2676.3 1331.8,2652.8 1334.1,2633.9 1336.5,2621.9 1338.8,2621.7 1341.1,2623.3 1343.4,2636.5 1345.7,2656.3 1348,2680.4 1350.3,2705.8 1352.6,2729.7 1354.9,2749.1 1357.2,2761.8 1359.5,2762.7 1361.8,2761.9 1364.2,2749.4 1366.5,2730.1 1368.8,2706.1 1371.1,2680.4 1373.4,2656.1 1375.7,2636.2 1378,2623 1380.3,2621.7 1382.6,2622.3 1384.9,2634.8 1387.2,2654.3 1389.5,2678.3 1391.8,2704 1394.2,2728.3 1396.5,2748.2 1398.8,2761.4 1401.1,2762.7 1403.4,2762.1 1405.7,2749.6 1408,2730.1 1410.3,2702.1 1412.6,2672.3 1414.9,2645.8 1417.2,2626.8 1419.5,2621.7 1421.8,2622 1424.2,2637.1 1426.5,2661.1 1428.8,2690.1 1431.1,2719.5 1433.4,2744.4 1435.7,2760.9 1438,2762.7 1440.3,2760.8 1442.6,2743.8 1444.9,2719.8 1447.2,2693.6 1449.5,2666.9 1451.8,2643.2 1454.2,2625.4 1456.5,2617.7 1458.8,2617.7 1461.1,2623.2 1463.4,2639.9 1465.7,2662.8 1468,2689.2 1470.3,2716 1472.6,2740.1 1474.9,2758.6 1477.2,2767.6 1479.5,2767.6 1481.8,2763.2 1484.2,2747.2 1486.5,2724.7 1488.8,2698.1 1491.1,2670.9 1493.4,2646.3 1495.7,2627.2 1498,2617.5 1500.3,2617.5 1502.6,2621.7 1504.9,2637.8 1507.2,2660.5 1509.5,2687.1 1511.8,2714.4 1514.2,2739 1516.5,2758.1 1518.8,2767.8 1521.1,2767.8 1523.4,2763.6 1525.7,2747.5 1528,2724.6 1530.3,2697.6 1532.6,2669.9 1534.9,2645 1537.2,2626.1 1539.5,2617.3 1541.8,2617.3 1544.2,2622.9 1546.5,2640.2 1548.8,2664 1551.1,2691.4 1553.4,2718.9 1555.7,2743.2 1558,2761.2 1560.3,2768 1562.6,2768 1564.9,2760.5 1567.2,2742.1 1569.5,2717.6 1571.9,2690 1574.2,2662.7 1576.5,2639.1 1578.8,2622.1 1581.1,2617.1 1583.4,2617.1 1585.7,2626.6 1588,2646 1590.3,2671.2 1592.6,2699 1594.9,2726 1597.2,2748.9 1599.5,2764.8 1601.9,2768.2 1604.2,2768.2 1606.5,2756.4 1608.8,2736.1 1611.1,2710.3 1613.4,2682.3 1615.7,2655.6 1618,2633.5 1620.3,2618.7 1622.6,2616.9 1624.9,2617.5 1627.2,2630.6 1629.5,2651.6 1631.9,2678.2 1634.2,2707 1636.5,2734.3 1638.8,2756.8 1641.1,2771.4 1643.4,2772.2 1645.7,2770.3 1648,2754 1650.3,2729.8 1652.6,2701 1654.9,2671 1657.2,2643.5 1659.5,2621.9 1661.9,2609.1 1664.2,2609.1 1666.5,2613.7 1668.8,2630.8 1671.1,2655.3 1673.4,2684.1 1675.7,2713.7 1678,2740.4 1680.3,2760.8 1682.6,2772.2 1684.9,2772.2 1687.2,2765.3 1689.5,2747.3 1691.9,2722.4 1694.2,2693.8 1696.5,2664.8 1698.8,2639.1 1701.1,2619.5 1703.4,2608.7 1705.7,2608.6 1708,2616.7 1710.3,2634.8 1712.6,2659.5 1714.9,2687.8 1717.2,2716.2 1719.5,2741.3 1721.9,2760.1 1724.2,2770.4 1726.5,2771 1728.8,2761.8 1731.1,2744 1733.4,2719.7 1735.7,2691.6 1738,2663.6 1740.3,2639.2 1742.6,2621.4 1744.9,2612.5 1747.2,2613.5 1749.5,2624.3 1751.9,2641.9 1754.2,2666.9 1756.5,2696.4 1758.8,2726.8 1761.1,2754 1763.4,2769.9 1765.7,2769.9 1768,2769.9 1770.3,2769.9 1772.6,2744.9 1774.9,2712.7 1777.2,2677.8 1779.6,2644.6 1781.9,2617.3 1784.2,2612.7 1786.5,2612.7 1788.8,2612.8 1791.1,2617.1 1793.4,2644.2 1795.7,2677.4 1798,2712.3 1800.3,2744.5 1802.6,2769.9 1804.9,2769.9 1807.2,2769.9 1809.6,2769.9 1811.9,2760.5 1814.2,2731 1816.5,2694.2 1818.8,2657 1821.1,2625 1823.4,2613.3 1825.7,2613.4 1828,2613.4 1830.3,2618.7 1832.6,2648.8 1834.9,2685.3 1837.2,2722.6 1839.6,2755.4 1841.9,2769.9 1844.2,2769.9 1846.5,2769.9 1848.8,2767 1851.1,2736.4 1853.4,2706.3 1855.7,2678.4 1858,2655.3 1860.3,2636.8 1862.6,2626.4 1864.9,2626.4 1867.2,2626.4 1869.6,2634.6 1871.9,2652.6 1874.2,2675.2 1876.5,2699.8 1878.8,2723.7 1881.1,2744 1883.4,2758.5 1885.7,2760.3 1888,2760.3 1890.3,2755.1 1892.6,2738.8 1894.9,2716.8 1897.2,2691.3 1899.6,2666.2 1901.9,2644.4 1904.2,2628.8 1906.5,2625.8 1908.8,2625.8 1911.1,2633.2 1913.4,2651 1915.7,2674 1918,2699.4 1920.3,2723.9 1922.6,2744.5 1924.9,2758.6 1927.2,2760.3 1929.6,2760.3 1931.9,2749.6 1934.2,2730.8 1936.5,2707.7 1938.8,2682.9 1941.1,2659.4 1943.4,2640 1945.7,2626.9 1948,2625.3 1950.3,2625.3 1952.6,2636.9 1954.9,2655.2 1957.2,2678 1959.6,2702.6 1961.9,2725.8 1964.2,2745.1 1966.5,2758 1968.8,2760.3 1971.1,2759.5 1973.4,2748 1975.7,2729.8 1978,2707.1 1980.3,2682.8 1982.6,2659.6 1984.9,2640.4 1987.3,2627.6 1989.6,2624.5 1991.9,2626.2 1994.2,2637.7 1996.5,2655.9 1998.8,2678.5 2001.1,2702.9 2003.4,2725.9 2005.7,2744.9 2008,2757.6 2010.3,2761.3 2012.6,2758.8 2014.9,2747.1 2017.3,2728.8 2019.6,2705.7 2021.9,2681 2024.2,2657.7 2026.5,2638.8 2028.8,2626.7 2031.1,2623.3 2033.4,2627.9 2035.7,2641.1 2038,2660.7 2040.3,2684.3 2042.6,2709 2044.9,2731.7 2047.3,2749.5 2049.6,2760.1 2051.9,2762.2 2054.2,2755.6 2056.5,2741 2058.8,2721.5 2061.1,2690.2 2063.4,2652.7 2065.7,2617.4 2068,2597.6 2070.3,2594.2 2072.6,2607.6 2074.9,2635.6 2077.3,2673.3 2079.6,2714.5 2081.9,2751.9 2084.2,2779.3 2086.5,2792 2088.8,2787.6 2091.1,2767.1 2093.4,2735.4 2095.7,2701.8 2098,2667.2 2100.3,2636 2102.6,2611.9 2104.9,2597.9 2107.3,2595.7 2109.6,2605.5 2111.9,2625.9 2114.2,2654.6 2116.5,2688 2118.8,2722.1 2121.1,2752.5 2123.4,2775.6 2125.7,2788.5 2128,2789.6 2130.3,2778.7 2132.6,2757.3 2134.9,2728.1 2137.3,2695 2139.6,2661.6 2141.9,2632 2144.2,2609.7 2146.5,2597.3 2148.8,2596.5 2151.1,2607.2 2153.4,2628.2 2155.7,2657 2158,2690.1 2160.3,2723.5 2162.6,2753.3 2164.9,2775.9 2167.3,2788.5 2169.6,2789.6 2171.9,2779.2 2174.2,2758.5 2176.5,2729.9 2178.8,2696.9 2181.1,2663.4 2183.4,2633.5 2185.7,2610.7 2188,2597.8 2190.3,2596.2 2192.6,2606.2 2195,2626.7 2197.3,2655 2199.6,2687.9 2201.9,2721.4 2204.2,2751.5 2206.5,2774.6 2208.8,2788 2211.1,2789.9 2213.4,2780.3 2215.7,2760.2 2218,2732.1 2220.3,2699.3 2222.6,2665.7 2225,2635.5 2227.3,2612 2229.6,2598.3 2231.9,2595.9 2234.2,2605.2 2236.5,2624.9 2238.8,2652.8 2241.1,2685.5 2243.4,2719.1 2245.7,2749.6 2248,2773.3 2250.3,2787.4 2252.6,2790.2 2255,2781.4 2257.3,2762 2259.6,2734.3 2261.9,2701.7 2264.2,2668.1 2266.5,2637.4 2268.8,2613.4" fill="none" stroke="#ff0000" stroke-width="6.0" stroke-linejoin="round" stroke-linecap="butt" clip-path="url(#cb3)"/>
<polyline points="194.1,2630.4 196.4,2627.2 198.7,2624.1 201,2621.1 203.3,2617.8 205.6,2616.5 208,2621.7 210.3,2631.6 212.6,2647.8 214.9,2673.5 217.2,2702.9 219.5,2730.9 221.8,2765.2 224.1,2798.7 226.4,2816.7 228.7,2810.7 231,2791.2 233.3,2767.4 235.6,2745.6 238,2720.4 240.3,2694.2 242.6,2670.9 244.9,2654.1 247.2,2640.3 249.5,2628.4 251.8,2621 254.1,2622.1 256.4,2638.3 258.7,2662.1 261,2687.5 263.3,2723.1 265.6,2750.5 268,2751.8 270.3,2738.9 272.6,2719.3 274.9,2698.4 277.2,2681.7 279.5,2666.1 281.8,2649.7 284.1,2634.9 286.4,2624.2 288.7,2619.8 291,2625.6 293.3,2640.9 295.6,2661.2 298,2681.9 300.3,2700.7 302.6,2724 304.9,2747.6 307.2,2765.3 309.5,2771.4 311.8,2763.5 314.1,2746.1 316.4,2724.4 318.7,2703.1 321,2685.3 323.3,2667.6 325.7,2649.6 328,2631.4 330.3,2617.6 332.6,2624.6 334.9,2640.2 337.2,2662.5 339.5,2688.9 341.8,2716.1 344.1,2740.9 346.4,2760.3 348.7,2771.9 351,2774.4 353.3,2767.4 355.7,2751.8 358,2729.5 360.3,2703.1 362.6,2675.9 364.9,2651.1 367.2,2631.7 369.5,2620.1 371.8,2617.6 374.1,2624.6 376.4,2640.1 378.7,2662.4 381,2688.7 383.3,2715.9 385.7,2740.7 388,2760.2 390.3,2771.8 392.6,2774.4 394.9,2767.5 397.2,2752 399.5,2729.8 401.8,2703.5 404.1,2676.3 406.4,2651.4 408.7,2632 411,2620.2 413.3,2617.6 415.7,2624.5 418,2640.2 420.3,2662.7 422.6,2689.3 424.9,2716.7 427.2,2741.6 429.5,2760.9 431.8,2772.2 434.1,2774.2 436.4,2766.6 438.7,2750.4 441,2727.5 443.3,2700.7 445.7,2673.3 448,2648.8 450.3,2630 452.6,2619.3 454.9,2618 457.2,2626.1 459.5,2642.6 461.8,2665.6 464.1,2692.2 466.4,2719.3 468.7,2743.5 471,2762.1 473.3,2772.7 475.7,2774 478,2766 480.3,2749.5 482.6,2726.6 484.9,2700 487.2,2672.9 489.5,2648.6 491.8,2630 494.1,2619.3 496.4,2617.9 498.7,2625.9 501,2642.2 503.3,2665.1 505.7,2691.7 508,2718.8 510.3,2743.1 512.6,2761.8 514.9,2772.6 517.2,2774.1 519.5,2766.2 521.8,2749.9 524.1,2727.1 526.4,2700.5 528.7,2673.4 531,2649 533.4,2630.3 535.7,2619.5 538,2617.9 540.3,2625.8 542.6,2642.3 544.9,2665.4 547.2,2692.3 549.5,2719.6 551.8,2744 554.1,2762.5 556.4,2772.9 558.7,2773.9 561,2765.3 563.4,2748.2 565.7,2724.7 568,2697.7 570.3,2670.5 572.6,2646.4 574.9,2628.4 577.2,2618.7 579.5,2618.8 581.8,2630.9 584.1,2653.6 586.4,2683.1 588.7,2714.8 591,2743.3 593.4,2764.3 595.7,2774.1 598,2771.4 600.3,2756.4 602.6,2731.7 604.9,2701.2 607.2,2669.8 609.5,2642.1 611.8,2622.9 614.1,2615.2 616.4,2619.1 618.7,2632.4 621,2653.2 623.4,2678.9 625.7,2706.4 628,2732.6 630.3,2754.3 632.6,2769 634.9,2774.8 637.2,2771.1 639.5,2758.4 641.8,2738.1 644.1,2712.7 646.4,2685.1 648.7,2658.7 651,2636.6 653.4,2621.4 655.7,2614.9 658,2618.1 660.3,2630.8 662.6,2651.5 664.9,2677.6 667.2,2705.9 669.5,2732.7 671.8,2754.9 674.1,2769.5 676.4,2774.8 678.7,2770.2 681,2756.1 683.4,2734.4 685.7,2707.7 688,2679.4 690.3,2653.1 692.6,2631.9 694.9,2618.6 697.2,2614.8 699.5,2621 701.8,2636.4 704.1,2659.1 706.4,2686.3 708.7,2714.5 711,2740.3 713.4,2760.4 715.7,2772.3 718,2774.4 720.3,2766.7 722.6,2749.9 724.9,2726.3 727.2,2698.7 729.5,2670.6 731.8,2645.6 734.1,2626.7 736.4,2616.3 738.7,2615.7 741.1,2624.7 743.4,2642.1 745.7,2665.9 748,2693.1 750.3,2720.6 752.6,2744.9 754.9,2763.2 757.2,2773.3 759.5,2773.9 761.8,2765 764.1,2747.7 766.4,2724 768.7,2696.7 771.1,2669.3 773.4,2644.9 775.7,2626.5 778,2616.3 780.3,2615.5 782.6,2623.3 784.9,2638.7 787.2,2660 789.5,2685 791.8,2711 794.1,2735.4 796.4,2755.4 798.7,2769 801.1,2774.7 803.4,2772 805.7,2761 808,2743.1 810.3,2720 812.6,2694.2 814.9,2668.5 817.2,2645 819.5,2626.3 821.8,2614.6 824.1,2611.2 826.4,2616.4 828.7,2629.8 831.1,2650.1 833.4,2675.4 835.7,2703.2 838,2730.6 840.3,2754.8 842.6,2773.2 844.9,2783.8 847.2,2785.4 849.5,2777.6 851.8,2761.2 854.1,2737.6 856.4,2709.2 858.7,2678.8 861.1,2649.5 863.4,2624.4 865.7,2606 868,2596.5 870.3,2597.2 872.6,2609.4 874.9,2631.8 877.2,2662 879.5,2696.4 881.8,2731 884.1,2761.7 886.4,2784.6 888.7,2797 891.1,2797.3 893.4,2785.2 895.7,2762.2 898,2730.7 900.3,2694.5 902.6,2658.4 904.9,2626.8 907.2,2603.4 909.5,2590.8 911.8,2590.6 914.1,2603.2 916.4,2627.1 918.8,2660.9 921.1,2694.8 923.4,2723.8 925.7,2744.6 928,2755.4 930.3,2760.1 932.6,2760 934.9,2751.2 937.2,2734.5 939.5,2711.9 941.8,2686.3 944.1,2661.3 946.4,2640.1 948.8,2625.3 951.1,2618.7 953.4,2621.2 955.7,2632.1 958,2650.2 960.3,2673.3 962.6,2698.5 964.9,2722.9 967.2,2743.5 969.5,2757.8 971.8,2764.1 974.1,2761.6 976.4,2750.7 978.8,2732.6 981.1,2709.5 983.4,2684.3 985.7,2659.9 988,2639.3 990.3,2625 992.6,2618.7 994.9,2621.2 997.2,2632.1 999.5,2650.2 1001.8,2673.3 1004.1,2698.6 1006.4,2723.5 1008.8,2745 1011.1,2760.4 1013.4,2764.3 1015.7,2764.3 1018,2754.8 1020.3,2735.9 1022.6,2711.2 1024.9,2683.9 1027.2,2657.6 1029.5,2635.5 1031.8,2622.4 1034.1,2623.3 1036.4,2623.7 1038.8,2628.5 1041.1,2649.1 1043.4,2675.6 1045.7,2704.7 1048,2732.2 1050.3,2754.7 1052.6,2761.5 1054.9,2761.5 1057.2,2761.5 1059.5,2752.8 1061.8,2729.7 1064.1,2701.8 1066.4,2672.8 1068.8,2646.3 1071.1,2625.7 1073.4,2623.7 1075.7,2623.7 1078,2623.7 1080.3,2637.2 1082.6,2661.3 1084.9,2689.2 1087.2,2717.6 1089.5,2742.9 1091.8,2761.5 1094.1,2761.5 1096.4,2761.5 1098.8,2761.5 1101.1,2745.3 1103.4,2720.5 1105.7,2692.3 1108,2664.2 1110.3,2639.5 1112.6,2623.7 1114.9,2623.7 1117.2,2623.7 1119.5,2623.7 1121.8,2642.9 1124.1,2668.3 1126.5,2696.8 1128.8,2724.7 1131.1,2748.6 1133.4,2761.5 1135.7,2761.5 1138,2761.5 1140.3,2759.3 1142.6,2739 1144.9,2712.9 1147.2,2684.3 1149.5,2656.7 1151.8,2633.6 1154.1,2623.7 1156.5,2623.7 1158.8,2623.7 1161.1,2628.8 1163.4,2650.7 1165.7,2677.9 1168,2707 1170.3,2734.3 1172.6,2756.2 1174.9,2761.5 1177.2,2761.5 1179.5,2761.5 1181.8,2751.2 1184.1,2727.6 1186.5,2699.5 1188.8,2670.5 1191.1,2644.4 1193.4,2624.4 1195.7,2623.7 1198,2623.7 1200.3,2623.7 1202.6,2639.3 1204.9,2664.2 1207.2,2692.6 1209.5,2721 1211.8,2745.8 1214.1,2761.5 1216.5,2761.5 1218.8,2761.5 1221.1,2761 1223.4,2741.4 1225.7,2715.6 1228,2686.9 1230.3,2658.9 1232.6,2635.1 1234.9,2622.6 1237.2,2622 1239.5,2621.7 1241.8,2625.1 1244.1,2643.3 1246.5,2666.5 1248.8,2692.1 1251.1,2717.3 1253.4,2739.6 1255.7,2756.6 1258,2762.7 1260.3,2762.7 1262.6,2762.5 1264.9,2749.1 1267.2,2729.9 1269.5,2706.9 1271.8,2682.7 1274.1,2659.7 1276.5,2640 1278.8,2625.9 1281.1,2621.7 1283.4,2621.7 1285.7,2628.8 1288,2645.2 1290.3,2666.9 1292.6,2691.6 1294.9,2716.4 1297.2,2738.4 1299.5,2755 1301.8,2762.7 1304.1,2762.7 1306.5,2758.4 1308.8,2743.5 1311.1,2722.7 1313.4,2698.4 1315.7,2673.4 1318,2650.6 1320.3,2632.5 1322.6,2621.7 1324.9,2621.7 1327.2,2623.8 1329.5,2637.5 1331.8,2657.7 1334.1,2681.9 1336.5,2707.3 1338.8,2731 1341.1,2750 1343.4,2762.3 1345.7,2762.7 1348,2761.4 1350.3,2748.4 1352.6,2728.8 1354.9,2704.8 1357.2,2679.3 1359.5,2655.4 1361.8,2635.8 1364.2,2622.9 1366.5,2621.7 1368.8,2622.3 1371.1,2634.8 1373.4,2654.3 1375.7,2678.3 1378,2704 1380.3,2728.3 1382.6,2748.2 1384.9,2761.4 1387.2,2762.7 1389.5,2762.1 1391.8,2749.6 1394.2,2730.1 1396.5,2706.1 1398.8,2680.4 1401.1,2656.1 1403.4,2636.2 1405.7,2623 1408,2621.7 1410.3,2623.7 1412.6,2640.4 1414.9,2665.5 1417.2,2694.9 1419.5,2723.9 1421.8,2747.7 1424.2,2762.5 1426.5,2762.7 1428.8,2757.3 1431.1,2738.2 1433.4,2711.5 1435.7,2681.7 1438,2653.6 1440.3,2630.9 1442.6,2619.5 1444.9,2618.4 1447.2,2624 1449.5,2641.1 1451.8,2664.3 1454.2,2690.8 1456.5,2717.6 1458.8,2741.4 1461.1,2759.4 1463.4,2767.6 1465.7,2767.6 1468,2762.4 1470.3,2746 1472.6,2723.2 1474.9,2696.8 1477.2,2669.9 1479.5,2645.7 1481.8,2627 1484.2,2617.6 1486.5,2617.5 1488.8,2621.8 1491.1,2637.8 1493.4,2660.5 1495.7,2687.1 1498,2714.3 1500.3,2739 1502.6,2758 1504.9,2767.7 1507.2,2767.8 1509.5,2763.5 1511.8,2747.4 1514.2,2724.7 1516.5,2698.1 1518.8,2670.8 1521.1,2646.2 1523.4,2627.1 1525.7,2617.4 1528,2617.4 1530.3,2621.8 1532.6,2638.4 1534.9,2661.7 1537.2,2688.9 1539.5,2716.5 1541.8,2741.2 1544.2,2759.8 1546.5,2767.9 1548.8,2767.9 1551.1,2761.7 1553.4,2744 1555.7,2720 1558,2692.5 1560.3,2665.1 1562.6,2641 1564.9,2623.4 1567.2,2617.2 1569.5,2617.2 1571.9,2625.3 1574.2,2644 1576.5,2668.8 1578.8,2696.5 1581.1,2723.7 1583.4,2747.1 1585.7,2763.7 1588,2768.1 1590.3,2768.1 1592.6,2757.9 1594.9,2738.2 1597.2,2712.8 1599.5,2684.9 1601.9,2658 1604.2,2635.4 1606.5,2619.8 1608.8,2617 1611.1,2617 1613.4,2629.5 1615.7,2650.3 1618,2676.3 1620.3,2704.3 1622.6,2730.9 1624.9,2752.7 1627.2,2767.5 1629.5,2769.3 1631.9,2768.6 1634.2,2754.4 1636.5,2732.1 1638.8,2704.3 1641.1,2674.4 1643.4,2646.2 1645.7,2623.2 1648,2609.3 1650.3,2609.3 1652.6,2612.4 1654.9,2628.9 1657.2,2653.1 1659.5,2681.9 1661.9,2711.8 1664.2,2739 1666.5,2760.1 1668.8,2772.4 1671.1,2772.3 1673.4,2767 1675.7,2749.5 1678,2724.8 1680.3,2695.9 1682.6,2666.4 1684.9,2639.9 1687.2,2619.8 1689.5,2608.8 1691.9,2608.8 1694.2,2616.2 1696.5,2634 1698.8,2658.7 1701.1,2687.2 1703.4,2716 1705.7,2741.6 1708,2760.9 1710.3,2771.5 1712.6,2771.6 1714.9,2763.1 1717.2,2745.1 1719.5,2720.7 1721.9,2692.8 1724.2,2664.7 1726.5,2639.9 1728.8,2621.4 1731.1,2611.4 1733.4,2611.1 1735.7,2620.7 1738,2639.1 1740.3,2663.9 1742.6,2691.9 1744.9,2719.7 1747.2,2743.6 1749.5,2760.8 1751.9,2769.9 1754.2,2769.9 1756.5,2762.2 1758.8,2742.5 1761.1,2715 1763.4,2683.1 1765.7,2650.7 1768,2622 1770.3,2612.5 1772.6,2612.5 1774.9,2612.5 1777.2,2613.6 1779.6,2639.7 1781.9,2672.3 1784.2,2707.2 1786.5,2740.2 1788.8,2766.9 1791.1,2769.9 1793.4,2769.9 1795.7,2769.9 1798,2764 1800.3,2736.3 1802.6,2702.9 1804.9,2668.1 1807.2,2636.3 1809.6,2613.1 1811.9,2613.1 1814.2,2613.2 1816.5,2613.2 1818.8,2629.5 1821.1,2662.8 1823.4,2700.3 1825.7,2736.5 1828,2766.1 1830.3,2769.9 1832.6,2769.9 1834.9,2769.9 1837.2,2756.5 1839.6,2724.1 1841.9,2686.8 1844.2,2650.3 1846.5,2620 1848.8,2613.7 1851.1,2616.6 1853.4,2620.1 1855.7,2631.1 1858,2654.9 1860.3,2679.4 1862.6,2704.4 1864.9,2727.9 1867.2,2747.5 1869.6,2760.3 1871.9,2760.3 1874.2,2760.3 1876.5,2753.1 1878.8,2735.7 1881.1,2713.4 1883.4,2688.9 1885.7,2664.9 1888,2644.2 1890.3,2629.1 1892.6,2626 1894.9,2626 1897.2,2631.2 1899.6,2648.3 1901.9,2671 1904.2,2696.4 1906.5,2721.4 1908.8,2742.7 1911.1,2757.8 1913.4,2760.3 1915.7,2760.3 1918,2751.8 1920.3,2733.7 1922.6,2710.4 1924.9,2685 1927.2,2660.7 1929.6,2640.5 1931.9,2626.8 1934.2,2625.5 1936.5,2625.4 1938.8,2636.7 1941.1,2655.1 1943.4,2678 1945.7,2702.7 1948,2726.1 1950.3,2745.5 1952.6,2758.5 1954.9,2760.3 1957.2,2760 1959.6,2748.4 1961.9,2730.1 1964.2,2707.3 1966.5,2682.9 1968.8,2659.6 1971.1,2640.4 1973.4,2627.5 1975.7,2624.9 1978,2626 1980.3,2637.5 1982.6,2655.6 1984.9,2678.2 1987.3,2702.6 1989.6,2725.7 1991.9,2744.8 1994.2,2757.6 1996.5,2760.9 1998.8,2759 2001.1,2747.4 2003.4,2729.1 2005.7,2706.5 2008,2682.2 2010.3,2659.2 2012.6,2640.2 2014.9,2627.6 2017.3,2623.7 2019.6,2626.7 2021.9,2638.8 2024.2,2657.8 2026.5,2681.1 2028.8,2705.8 2031.1,2728.9 2033.4,2747.4 2035.7,2758.9 2038,2762.1 2040.3,2756.6 2042.6,2743 2044.9,2723.1 2047.3,2699.2 2049.6,2674.5 2051.9,2652 2054.2,2634.6 2056.5,2624.5 2058.8,2616.8 2061.1,2620.7 2063.4,2640.3 2065.7,2674.7 2068,2715.8 2070.3,2753.1 2072.6,2780 2074.9,2792.2 2077.3,2787.4 2079.6,2766.5 2081.9,2733 2084.2,2692.8 2086.5,2652.6 2088.8,2619.4 2091.1,2598.9 2093.4,2594.3 2095.7,2603.4 2098,2623.4 2100.3,2652 2102.6,2685.5 2104.9,2719.8 2107.3,2750.7 2109.6,2774.3 2111.9,2787.9 2114.2,2789.9 2116.5,2779.9 2118.8,2759.1 2121.1,2730.2 2123.4,2696.7 2125.7,2662.8 2128,2632.5 2130.3,2609.8 2132.6,2597.3 2134.9,2596.6 2137.3,2607.5 2139.6,2628.7 2141.9,2657.6 2144.2,2690.7 2146.5,2724.1 2148.8,2753.8 2151.1,2776.2 2153.4,2788.6 2155.7,2789.5 2158,2778.9 2160.3,2758 2162.6,2729.3 2164.9,2696.2 2167.3,2662.8 2169.6,2632.9 2171.9,2610.3 2174.2,2597.6 2176.5,2596.3 2178.8,2606.6 2181.1,2627.3 2183.4,2655.8 2185.7,2688.7 2188,2722.2 2190.3,2752.2 2192.6,2775.1 2195,2788.1 2197.3,2789.8 2199.6,2779.9 2201.9,2759.6 2204.2,2731.4 2206.5,2698.5 2208.8,2665 2211.1,2634.8 2213.4,2611.6 2215.7,2598.1 2218,2596 2220.3,2605.5 2222.6,2625.5 2225,2653.5 2227.3,2686.3 2229.6,2719.9 2231.9,2750.2 2234.2,2773.7 2236.5,2787.6 2238.8,2790.1 2241.1,2781 2243.4,2761.4 2245.7,2733.6 2248,2700.9 2250.3,2667.3 2252.6,2636.8 2255,2613 2257.3,2598.7 2259.6,2595.8 2261.9,2604.5 2264.2,2623.7 2266.5,2651.3 2268.8,2683.9" fill="none" stroke="#0000ff" stroke-width="6.0" stroke-linejoin="round" stroke-linecap="butt" clip-path="url(#cb3)"/>
<polyline points="194.1,2701.9 196.4,2715.1 198.7,2727.5 201,2739.3 203.3,2750.4 205.6,2762 208,2774.3 210.3,2783.6 212.6,2786 214.9,2769.4 217.2,2738.3 219.5,2704.5 221.8,2678 224.1,2652.4 226.4,2628.3 228.7,2608.4 231,2592.3 233.3,2577.9 235.6,2570.6 238,2579.1 240.3,2604.6 242.6,2635.3 244.9,2659.4 247.2,2680.1 249.5,2701.6 251.8,2721.5 254.1,2737.8 256.4,2748.1 258.7,2750 261,2737.5 263.3,2715.3 265.6,2691.9 268,2673 270.3,2652.1 272.6,2634 274.9,2625.1 277.2,2629.7 279.5,2644.3 281.8,2664.7 284.1,2686.7 286.4,2706.2 288.7,2722 291,2739.2 293.3,2754 295.6,2762.1 298,2758.5 300.3,2742.4 302.6,2720.1 304.9,2698 307.2,2679.9 309.5,2659.5 311.8,2640 314.1,2626 316.4,2621.7 318.7,2630.6 321,2648.8 323.3,2671.2 325.7,2692.3 328,2710.7 330.3,2731.9 332.6,2752.4 334.9,2767.8 337.2,2773.8 339.5,2765.9 341.8,2746.5 344.1,2722.2 346.4,2699.7 348.7,2681.4 351,2663.3 353.3,2645.3 355.7,2627.4 358,2617.6 360.3,2624.6 362.6,2640.2 364.9,2662.5 367.2,2688.9 369.5,2716.1 371.8,2740.9 374.1,2760.2 376.4,2771.9 378.7,2774.4 381,2767.4 383.3,2751.9 385.7,2729.6 388,2703.3 390.3,2676.1 392.6,2651.3 394.9,2631.9 397.2,2620.2 399.5,2617.6 401.8,2624.4 404.1,2639.9 406.4,2662.1 408.7,2688.4 411,2715.6 413.3,2740.5 415.7,2760.1 418,2771.9 420.3,2774.4 422.6,2767.2 424.9,2751.3 427.2,2728.7 429.5,2702 431.8,2674.6 434.1,2649.8 436.4,2630.7 438.7,2619.6 441,2617.8 443.3,2625.6 445.7,2642.1 448,2665.1 450.3,2691.9 452.6,2719.3 454.9,2743.7 457.2,2762.2 459.5,2772.7 461.8,2774 464.1,2765.9 466.4,2749.4 468.7,2726.5 471,2699.9 473.3,2672.8 475.7,2648.5 478,2629.9 480.3,2619.3 482.6,2617.9 484.9,2625.9 487.2,2642.4 489.5,2665.3 491.8,2691.9 494.1,2718.9 496.4,2743.3 498.7,2761.9 501,2772.6 503.3,2774.1 505.7,2766.2 508,2749.8 510.3,2726.9 512.6,2700.4 514.9,2673.3 517.2,2648.9 519.5,2630.2 521.8,2619.4 524.1,2617.9 526.4,2625.7 528.7,2642 531,2664.8 533.4,2691.4 535.7,2718.5 538,2742.9 540.3,2761.8 542.6,2772.6 544.9,2774 547.2,2765.9 549.5,2749.2 551.8,2725.9 554.1,2699 556.4,2671.8 558.7,2647.4 561,2629.1 563.4,2618.9 565.7,2618.2 568,2627 570.3,2644.3 572.6,2667.9 574.9,2694.9 577.2,2722.1 579.5,2747.6 581.8,2766.8 584.1,2774.6 586.4,2769.6 588.7,2752.8 591,2726.7 593.4,2695.7 595.7,2664.7 598,2638.8 600.3,2622.2 602.6,2617.4 604.9,2625.4 607.2,2644.8 609.5,2672 611.8,2703.4 614.1,2733.7 616.4,2755.2 618.7,2769.5 621,2774.8 623.4,2770.7 625.7,2757.6 628,2737 630.3,2711.4 632.6,2683.8 634.9,2657.5 637.2,2635.7 639.5,2620.9 641.8,2614.8 644.1,2618.3 646.4,2630.8 648.7,2650.9 651,2676.3 653.4,2703.8 655.7,2730.3 658,2752.9 660.3,2768.4 662.6,2774.8 664.9,2771.1 667.2,2757.9 669.5,2736.9 671.8,2710.6 674.1,2682.3 676.4,2655.6 678.7,2633.8 681,2619.6 683.4,2614.7 685.7,2619.9 688,2634.4 690.3,2656.5 692.6,2683.3 694.9,2711.6 697.2,2737.7 699.5,2758.6 701.8,2771.4 704.1,2774.7 706.4,2768 708.7,2752.1 711,2729.1 713.4,2701.8 715.7,2673.6 718,2648 720.3,2628.3 722.6,2617 724.9,2615.3 727.2,2623.6 729.5,2640.8 731.8,2664.7 734.1,2692.4 736.4,2720.4 738.7,2745 741.1,2763.3 743.4,2773.3 745.7,2773.9 748,2765 750.3,2747.6 752.6,2723.8 754.9,2696.6 757.2,2669.1 759.5,2644.7 761.8,2626.4 764.1,2616.3 766.4,2615.6 768.7,2624.5 771.1,2641.8 773.4,2665.5 775.7,2692.8 778,2720.2 780.3,2744.1 782.6,2761.7 784.9,2772.3 787.2,2774.6 789.5,2768.5 791.8,2754.6 794.1,2734.3 796.4,2709.8 798.7,2683.7 801.1,2658.8 803.4,2637.8 805.7,2622.7 808,2615.3 810.3,2616.4 812.6,2625.7 814.9,2642.4 817.2,2664.3 819.5,2689.9 821.8,2716.6 824.1,2741.4 826.4,2761.4 828.7,2775 831.1,2780.6 833.4,2777.5 835.7,2765.7 838,2746.3 840.3,2721.2 842.6,2692.9 844.9,2664.2 847.2,2638.2 849.5,2617.4 851.8,2604.3 854.1,2600.1 856.4,2605.5 858.7,2620.1 861.1,2642.6 863.4,2670.6 865.7,2701.5 868,2732.1 870.3,2760.4 872.6,2782.1 874.9,2793.5 877.2,2793.2 879.5,2781.1 881.8,2758.4 884.1,2727.8 886.4,2692.8 888.7,2657.5 891.1,2626.1 893.4,2602.6 895.7,2589.6 898,2589.1 900.3,2601.9 902.6,2625.5 904.9,2657.2 907.2,2693 909.5,2728.8 911.8,2760.7 914.1,2784.5 916.4,2797 918.8,2790.6 921.1,2772.2 923.4,2746.5 925.7,2717.8 928,2690.4 930.3,2666.6 932.6,2645.2 934.9,2629.1 937.2,2620.4 939.5,2620.6 941.8,2631 944.1,2649 946.4,2672.3 948.8,2698 951.1,2722.8 953.4,2743.5 955.7,2757.8 958,2764.1 960.3,2761.6 962.6,2750.7 964.9,2732.6 967.2,2709.5 969.5,2684.3 971.8,2659.9 974.1,2639.3 976.4,2625 978.8,2618.7 981.1,2621.2 983.4,2632.1 985.7,2650.2 988,2673.3 990.3,2698.5 992.6,2722.9 994.9,2743.5 997.2,2757.8 999.5,2764.1 1001.8,2761.6 1004.1,2751.3 1006.4,2733.4 1008.8,2710.1 1011.1,2684 1013.4,2658.3 1015.7,2636.2 1018,2620.4 1020.3,2618.5 1022.6,2618.5 1024.9,2627.1 1027.2,2647.1 1029.5,2672.4 1031.8,2700 1034.1,2726.6 1036.4,2749.7 1038.8,2761.5 1041.1,2761.5 1043.4,2761.5 1045.7,2756.2 1048,2734.3 1050.3,2707 1052.6,2677.9 1054.9,2650.7 1057.2,2628.8 1059.5,2623.7 1061.8,2623.7 1064.1,2623.7 1066.4,2634.2 1068.8,2657.9 1071.1,2686 1073.4,2715 1075.7,2741 1078,2760.6 1080.3,2761.5 1082.6,2761.5 1084.9,2761.5 1087.2,2747.1 1089.5,2722.8 1091.8,2694.8 1094.1,2666.4 1096.4,2641.4 1098.8,2623.7 1101.1,2623.7 1103.4,2623.7 1105.7,2623.7 1108,2640.8 1110.3,2665.8 1112.6,2694.1 1114.9,2722.2 1117.2,2746.6 1119.5,2761.5 1121.8,2761.5 1124.1,2761.5 1126.5,2760.8 1128.8,2741.2 1131.1,2715.6 1133.4,2687.1 1135.7,2659.2 1138,2635.6 1140.3,2623.7 1142.6,2623.7 1144.9,2623.7 1147.2,2626.7 1149.5,2647.3 1151.8,2673.6 1154.1,2702.3 1156.5,2729.7 1158.8,2752.8 1161.1,2761.5 1163.4,2761.5 1165.7,2761.5 1168,2754.7 1170.3,2732.2 1172.6,2704.7 1174.9,2675.6 1177.2,2648.7 1179.5,2627.4 1181.8,2623.7 1184.1,2623.7 1186.5,2623.7 1188.8,2635.9 1191.1,2660 1193.4,2688.4 1195.7,2717.2 1198,2742.9 1200.3,2761.5 1202.6,2761.5 1204.9,2761.5 1207.2,2761.5 1209.5,2744.4 1211.8,2719.2 1214.1,2690.7 1216.5,2662.4 1218.8,2638 1221.1,2623.7 1223.4,2623.7 1225.7,2623.7 1228,2625.2 1230.3,2645.4 1232.6,2671.3 1234.9,2700 1237.2,2727.7 1239.5,2749.5 1241.8,2762.7 1244.1,2762.7 1246.5,2762.7 1248.8,2760.8 1251.1,2744.1 1253.4,2722.2 1255.7,2697.4 1258,2672.4 1260.3,2649.8 1262.6,2632 1264.9,2621.7 1267.2,2621.7 1269.5,2621.7 1271.8,2633.3 1274.1,2650.9 1276.5,2672.8 1278.8,2696.8 1281.1,2720.3 1283.4,2741.3 1285.7,2757 1288,2762.7 1290.3,2762.7 1292.6,2756.6 1294.9,2740.7 1297.2,2719.2 1299.5,2694.7 1301.8,2669.8 1304.1,2647.5 1306.5,2630.4 1308.8,2621.7 1311.1,2621.7 1313.4,2625.2 1315.7,2639.6 1318,2660 1320.3,2684.1 1322.6,2709.1 1324.9,2732.3 1327.2,2751 1329.5,2762.7 1331.8,2762.7 1334.1,2760.8 1336.5,2747.4 1338.8,2727.4 1341.1,2703.3 1343.4,2677.8 1345.7,2654.1 1348,2634.8 1350.3,2622.4 1352.6,2621.7 1354.9,2622.7 1357.2,2635.5 1359.5,2655 1361.8,2678.8 1364.2,2704.3 1366.5,2728.3 1368.8,2748.2 1371.1,2761.4 1373.4,2762.7 1375.7,2762.1 1378,2749.6 1380.3,2730.1 1382.6,2706.1 1384.9,2680.4 1387.2,2656.1 1389.5,2636.2 1391.8,2623 1394.2,2621.7 1396.5,2622.3 1398.8,2634.8 1401.1,2654.3 1403.4,2678.3 1405.7,2704 1408,2728.3 1410.3,2750.8 1412.6,2762.7 1414.9,2762.7 1417.2,2754.9 1419.5,2734.3 1421.8,2706.8 1424.2,2677 1426.5,2649.6 1428.8,2629.2 1431.1,2621.7 1433.4,2621.7 1435.7,2634 1438,2656.8 1440.3,2685.3 1442.6,2716 1444.9,2742.1 1447.2,2760.2 1449.5,2767.5 1451.8,2767.5 1454.2,2761.6 1456.5,2744.7 1458.8,2721.7 1461.1,2695.2 1463.4,2668.4 1465.7,2644.4 1468,2626.2 1470.3,2617.6 1472.6,2617.6 1474.9,2622.4 1477.2,2638.6 1479.5,2661.2 1481.8,2687.6 1484.2,2714.5 1486.5,2738.9 1488.8,2757.9 1491.1,2767.7 1493.4,2767.7 1495.7,2763.5 1498,2747.4 1500.3,2724.7 1502.6,2698.1 1504.9,2670.9 1507.2,2646.2 1509.5,2627.2 1511.8,2617.4 1514.2,2617.4 1516.5,2621.6 1518.8,2637.7 1521.1,2660.5 1523.4,2687.1 1525.7,2714.4 1528,2739.1 1530.3,2758.4 1532.6,2767.9 1534.9,2767.9 1537.2,2762.8 1539.5,2745.9 1541.8,2722.3 1544.2,2695.1 1546.5,2667.5 1548.8,2643 1551.1,2624.7 1553.4,2617.2 1555.7,2617.2 1558,2624.1 1560.3,2642.1 1562.6,2666.4 1564.9,2693.9 1567.2,2721.3 1569.5,2745.2 1571.9,2762.5 1574.2,2768.1 1576.5,2768.1 1578.8,2759.2 1581.1,2740.2 1583.4,2715.2 1585.7,2687.5 1588,2660.3 1590.3,2637.2 1592.6,2620.9 1594.9,2617.1 1597.2,2617 1599.5,2628 1601.9,2648 1604.2,2673.6 1606.5,2701.5 1608.8,2728.3 1611.1,2750.8 1613.4,2765.9 1615.7,2768.2 1618,2768.1 1620.3,2754.8 1622.6,2733.7 1624.9,2707.5 1627.2,2679.2 1629.5,2652 1631.9,2629.4 1634.2,2614.3 1636.5,2612.7 1638.8,2613.6 1641.1,2628.3 1643.4,2651.2 1645.7,2679.5 1648,2709.7 1650.3,2737.5 1652.6,2759.4 1654.9,2772.5 1657.2,2772.5 1659.5,2768.6 1661.9,2751.7 1664.2,2727.3 1666.5,2698.4 1668.8,2668.7 1671.1,2641.7 1673.4,2620.8 1675.7,2609 1678,2608.9 1680.3,2615 1682.6,2632.7 1684.9,2657.5 1687.2,2686.3 1689.5,2715.6 1691.9,2741.6 1694.2,2761.2 1696.5,2772 1698.8,2772 1701.1,2764.2 1703.4,2746.2 1705.7,2721.5 1708,2693.1 1710.3,2664.5 1712.6,2639.1 1714.9,2620.2 1717.2,2609.8 1719.5,2609.6 1721.9,2618.5 1724.2,2636.4 1726.5,2660.8 1728.8,2688.6 1731.1,2716.5 1733.4,2741.3 1735.7,2759.8 1738,2769.6 1740.3,2769.4 1742.6,2759.3 1744.9,2740.6 1747.2,2715.8 1749.5,2688 1751.9,2659.8 1754.2,2634.2 1756.5,2614.6 1758.8,2612.3 1761.1,2612.3 1763.4,2615.9 1765.7,2637.8 1768,2667.8 1770.3,2702.2 1772.6,2735.7 1774.9,2763.6 1777.2,2769.9 1779.6,2769.9 1781.9,2769.9 1784.2,2767.3 1786.5,2740.7 1788.8,2707.8 1791.1,2672.9 1793.4,2640.4 1795.7,2614.3 1798,2612.9 1800.3,2613 1802.6,2613 1804.9,2620.7 1807.2,2648.9 1809.6,2682.5 1811.9,2717.3 1814.2,2749.4 1816.5,2769.9 1818.8,2769.9 1821.1,2769.9 1823.4,2769.9 1825.7,2744.4 1828,2709.4 1830.3,2671.7 1832.6,2637 1834.9,2613.5 1837.2,2613.5 1839.6,2613.6 1841.9,2613.6 1844.2,2635.9 1846.5,2670.4 1848.8,2708 1851.1,2740.7 1853.4,2760.2 1855.7,2762.4 1858,2760.3 1860.3,2760.3 1862.6,2750.9 1864.9,2732.3 1867.2,2709.3 1869.6,2684.5 1871.9,2660.8 1874.2,2640.8 1876.5,2626.9 1878.8,2626.2 1881.1,2626.2 1883.4,2632.3 1885.7,2649.1 1888,2671 1890.3,2695.3 1892.6,2719.3 1894.9,2740.8 1897.2,2756.9 1899.6,2760.3 1901.9,2760.3 1904.2,2754 1906.5,2736.5 1908.8,2713.6 1911.1,2688.2 1913.4,2663.4 1915.7,2642.4 1918,2627.8 1920.3,2625.7 1922.6,2625.6 1924.9,2635.2 1927.2,2653.6 1929.6,2677 1931.9,2702.3 1934.2,2726.4 1936.5,2745.9 1938.8,2759 1941.1,2760.3 1943.4,2760.3 1945.7,2748.8 1948,2730.4 1950.3,2707.5 1952.6,2682.9 1954.9,2659.5 1957.2,2640.2 1959.6,2627.2 1961.9,2625.1 1964.2,2625.6 1966.5,2637.2 1968.8,2655.4 1971.1,2678 1973.4,2702.4 1975.7,2725.5 1978,2744.7 1980.3,2757.6 1982.6,2760.5 1984.9,2759.1 1987.3,2747.6 1989.6,2729.4 1991.9,2706.8 1994.2,2682.5 1996.5,2659.4 1998.8,2640.3 2001.1,2627.6 2003.4,2624.1 2005.7,2626.3 2008,2638 2010.3,2656.2 2012.6,2678.8 2014.9,2703.1 2017.3,2726.1 2019.6,2745.4 2021.9,2758 2024.2,2761.7 2026.5,2757.9 2028.8,2745.2 2031.1,2726 2033.4,2702.5 2035.7,2677.8 2038,2654.9 2040.3,2636.9 2042.6,2625.8 2044.9,2623 2047.3,2629.1 2049.6,2643.2 2051.9,2663.5 2054.2,2687.6 2056.5,2712.3 2058.8,2739.8 2061.1,2767.5 2063.4,2785.7 2065.7,2786.9 2068,2765.5 2070.3,2731.7 2072.6,2691.4 2074.9,2651.3 2077.3,2618.3 2079.6,2598.1 2081.9,2594 2084.2,2606.9 2086.5,2634.4 2088.8,2672 2091.1,2713 2093.4,2749.3 2095.7,2773.8 2098,2788.3 2100.3,2791 2102.6,2781.6 2104.9,2761.3 2107.3,2732.6 2109.6,2699.2 2111.9,2665.1 2114.2,2634.5 2116.5,2611.1 2118.8,2597.8 2121.1,2596.3 2123.4,2606.7 2125.7,2627.8 2128,2656.9 2130.3,2690.5 2132.6,2724.4 2134.9,2754.3 2137.3,2776.5 2139.6,2788.7 2141.9,2789.5 2144.2,2778.6 2146.5,2757.5 2148.8,2728.7 2151.1,2695.6 2153.4,2662.2 2155.7,2632.4 2158,2610 2160.3,2597.5 2162.6,2596.4 2164.9,2606.9 2167.3,2627.8 2169.6,2656.4 2171.9,2689.5 2174.2,2723 2176.5,2752.8 2178.8,2775.5 2181.1,2788.3 2183.4,2789.7 2185.7,2779.6 2188,2759 2190.3,2730.6 2192.6,2697.7 2195,2664.2 2197.3,2634.1 2199.6,2611.1 2201.9,2597.9 2204.2,2596.1 2206.5,2605.9 2208.8,2626.1 2211.1,2654.3 2213.4,2687.1 2215.7,2720.6 2218,2750.9 2220.3,2774.2 2222.6,2787.8 2225,2790 2227.3,2780.7 2229.6,2760.8 2231.9,2732.9 2234.2,2700.1 2236.5,2666.5 2238.8,2636.1 2241.1,2612.5 2243.4,2598.5 2245.7,2595.9 2248,2604.8 2250.3,2624.3 2252.6,2652 2255,2684.7 2257.3,2718.3 2259.6,2748.9 2261.9,2772.8 2264.2,2787.2 2266.5,2790.3 2268.8,2781.7" fill="none" stroke="#008000" stroke-width="6.0" stroke-linejoin="round" stroke-linecap="butt" clip-path="url(#cb3)"/>
<clipPath id="cb4"><rect x="190" y="2887" width="2085" height="322"/></clipPath>
<polyline points="193.1,3206.3 194.1,3205.4 196.1,3200.3 199.2,3186.9 201.1,3174.3 205.1,3133.6 210.1,3066.4 214.5,3019.9 218.1,2991.9 221.1,2976.4 224.1,2965.4 227.1,2957.8 231.1,2950.7 234.1,2947.7 239.2,2944.7 245.2,2943.3 253.2,2942.7 452.6,2942.7 653,2942.7 2266.5,2942.6" fill="none" stroke="#ff0000" stroke-width="6.0" stroke-linejoin="round" stroke-linecap="butt" clip-path="url(#cb4)"/>
<polyline points="192.7,3205.6 194.7,3198.1 197.7,3180.9 201.9,3142.6 210.7,3028.1 214.7,2989.7 217.7,2969.6 221.7,2951.8 224.7,2943.5 227.7,2937.8 230.9,2934.1 235.8,2931.2 241.8,2930 244.8,2930.2 256.8,2934.6 264.8,2934.4 279.8,2933.2 310.8,2932.4 510.9,2932.4 605,2932.4 611,2934.1 620,2934.7 634,2933 667,2932.4 765,2933.5 803,2934.3 821,2934.2 829,2932.4 838,2930.2 867,2929.1 885,2929.2 902,2931 917.1,2933.8 928.1,2938.2 932.1,2938.5 937.1,2936.9 942.1,2935.3 958.1,2933.4 1521,2933 1601.1,2932.2 1640.2,2932.2 1641.1,2932.4 1643.1,2934.5 1653.1,2948.9 1657.1,2952.1 1662.1,2954.7 1668.1,2956.2 1677.1,2957.3 1848.6,2957.3 1849.3,2957 1850.3,2955.4 1859.3,2931.4 1865.3,2919.7 1868.4,2915.6 1874.3,2911.2 1879.3,2909.1 1891.3,2906.9 1904.3,2906.5 2057.1,2906 2057.4,2906.2 2058.4,2908.9 2065.4,2943 2068.4,2952.5 2072.5,2961.1 2076.5,2966.3 2081.5,2970.8 2086.5,2973.4 2095.5,2976.3 2104.5,2977.3 2127.6,2978.1 2266.6,2978.1" fill="none" stroke="#0000ff" stroke-width="6.0" stroke-linejoin="round" stroke-linecap="butt" clip-path="url(#cb4)"/>
<polyline points="192.7,3205.6 193.7,3204.6 195.7,3199 198.7,3185.8 200.7,3171.5 204.7,3129.5 209.7,3062.7 213.9,3019.9 217.7,2989.3 220.7,2974.5 223.7,2963.8 226.7,2956.5 230.7,2949.6 233.7,2946.8 238.8,2944 246.8,2942.2 256.8,2941.9 455.9,2941.9 656,2941.9 1533,2941 1640.2,2940.7 1641.1,2941.1 1643.1,2943.8 1649.1,2954.5 1652.1,2959 1657.1,2962.9 1662.1,2965.5 1669.1,2967.1 1681.1,2968.4 1848.6,2968.5 1849.3,2968.3 1850.3,2967.2 1855.3,2955.2 1862.3,2936 1867.3,2926.9 1870.3,2923.2 1876.3,2919.7 1883.3,2917.4 1897.3,2915.4 1940.3,2914.5 2057.1,2914 2057.4,2914.2 2058.4,2916.3 2067.4,2954.6 2072.5,2969.1 2075.5,2974.6 2080.5,2980 2085.5,2983.2 2094.5,2986.5 2102.5,2987.9 2123.5,2989.7 2225.6,2989.9 2266.6,2989.9" fill="none" stroke="#008000" stroke-width="6.0" stroke-linejoin="round" stroke-linecap="butt" clip-path="url(#cb4)"/>
<clipPath id="cb5"><rect x="190" y="3243" width="2085" height="321"/></clipPath>
<polyline points="192,3536 195,3470 198,3412 201,3470 204,3520 208,3535 2266.5,3536" fill="none" stroke="#000000" stroke-width="6.0" stroke-linejoin="round" stroke-linecap="butt" clip-path="url(#cb5)"/>
<polyline points="192,3535 196,3490 199,3450 203,3500 207,3526 213,3533 220,3531 228,3535 609,3535 612.5,3515 616.1,3498.6 619.5,3515 623,3535 812.2,3534.6 817.2,3446.8 820.5,3393.4 823.9,3446.8 827.2,3513.6 828.9,3534.6 926,3534.6 929,3522 932,3534.6 1226.8,3534.6 1232.4,3360.3 1235.2,3283.1 1238.5,3360.3 1243.1,3534.6 1642,3534.6 1647.6,3360.3 1650.4,3308.8 1653.2,3360.3 1658.4,3534.6 1852.5,3534.6 1857.7,3505.1 1863.1,3534.6 2266.5,3534.6" fill="none" stroke="#ff0000" stroke-width="6.0" stroke-linejoin="round" stroke-linecap="butt" clip-path="url(#cb5)"/>
<polyline points="192,3534.3 195,3460.2 198,3420.1 201,3460.2 204,3510.3 210,3526.3 218.1,3533.3 226.1,3534.7 608,3534.7 611,3520 615.1,3500.2 619,3520 622,3534.7 813.8,3534.7 817,3510 820.5,3483.5 824,3510 828.5,3534.7 1231.5,3534.7 1236.1,3515.5 1240.8,3534.7 1646.5,3534.7 1650.4,3519.3 1654.5,3534.7 2060.8,3534.7 2064.5,3515 2067.8,3498.2 2071,3515 2075.2,3534.7 2266.5,3534.9" fill="none" stroke="#00ff00" stroke-width="6.0" stroke-linejoin="round" stroke-linecap="butt" clip-path="url(#cb5)"/>
<polyline points="192,3534 196,3500 200,3480 204,3505 208,3510.3 214,3520.3 220.1,3520.3 230.1,3528.3 240.1,3528.3 248.1,3518.3 254.1,3513.3 258.1,3518.3 262.1,3524.3 274.2,3527.3 290.2,3529.3 302.2,3527.3 314.2,3523.9 322.3,3522.7 330.3,3524.3 342.3,3522.3 350.3,3524.7 362.3,3523.9 380.4,3523.3 410.4,3523.3 420.5,3524.3 426.5,3523.1 440.5,3524.3 490,3524.3 604,3524.3 606.5,3515 610.1,3493.6 613.4,3485.2 618.5,3490.2 623.5,3506.9 628.5,3527 633.5,3531.5 820,3531.5 823.9,3523.6 827.2,3517.6 832.2,3523.6 837.2,3526.3 925.7,3527 930.7,3513.6 935.8,3508.6 942.4,3515.3 949.1,3525.3 960,3526.5 1230,3526.5 1235,3522 1242,3527.5 1420,3528.5 1445,3531 1640,3530 1643,3526.3 1650,3500.6 1657,3512.2 1664,3523.9 1673.3,3530 1690,3527.6 1700,3525.5 1710,3527.8 1722,3525.2 1735,3528 1748,3525 1760,3527.5 1772,3525.5 1785,3529 1800,3531 1853,3531 1856.5,3524 1859.3,3519.6 1862.5,3525 1866,3529.5 1890,3528 2056,3527.6 2058.2,3520 2061.5,3495 2065.1,3474.1 2068.5,3492 2071.5,3506.2 2079.5,3522.3 2090.2,3526.5 2100.9,3528.5 2110,3531 2240,3531 2250,3528.5 2266.5,3528.5" fill="none" stroke="#0000ff" stroke-width="6.0" stroke-linejoin="round" stroke-linecap="butt" clip-path="url(#cb5)"/>
<polyline points="192,3532.3 194,3500 196,3460.2 199,3432.1 202,3480.2 204,3510.3 208,3518.3 212,3516.3 216.1,3524.3 220.1,3530.3 226.1,3520.3 230.1,3500.2 233.1,3488.2 237.1,3500.2 241.1,3516.3 246.1,3524.3 252.1,3529.3 270.2,3530.2 604,3530.5 610,3528 616,3530.3 2266.5,3530.3" fill="none" stroke="#00ffff" stroke-width="6.0" stroke-linejoin="round" stroke-linecap="butt" clip-path="url(#cb5)"/>
<polyline points="192,3535 197,3528 199.5,3500 202,3460 204.5,3400 206.4,3354.3 208.5,3400 210.5,3450 212,3480 214,3506 219,3507.3 226,3511.3 232,3508.3 235,3480 238,3440 240.1,3430.1 243,3444 247,3480 251,3510 255,3524 259,3529 270,3531.3 290,3531.3 302,3529 314,3527.3 322,3526.3 334,3527.9 342,3527.3 350,3529.3 362,3528.3 380,3527.9 410,3527.9 430,3528.3 490,3528.3 605.1,3527 609,3524 613.4,3520.3 619,3527 626.8,3533 812.2,3533 813.8,3533.6 823.9,3506.9 833.9,3476.9 838.9,3433.4 842.2,3421.8 847.2,3455.2 853.9,3438.5 860.6,3446.8 867.3,3450.1 872.3,3433.4 876.6,3401.7 882.3,3448.5 889,3433.4 894,3393.4 896.7,3375 900.7,3413.4 904.7,3450.1 910,3403.4 914,3440.1 919,3473.5 925.7,3490.2 930.7,3520.3 937.4,3532 947.4,3522 959.1,3515.3 970.8,3527 984.2,3516.3 1000.9,3530.3 1017.6,3520.3 1027.6,3525.3 1042.1,3523 1056.1,3528.6 1063.1,3516.9 1074.8,3528.6 1084.2,3523 1102.9,3526.3 1116.9,3521.6 1126.3,3528.6 1135.6,3523.9 1154.3,3528.6 1166,3516.9 1175.3,3524.9 1196.4,3526.3 1208.1,3523 1219.8,3526.3 1229.1,3519.3 1231.5,3500.6 1238.5,3495.9 1252.5,3488.9 1271.2,3480.9 1294.6,3476.2 1318,3474.8 1341.3,3475.3 1360,3477.2 1378.8,3482.8 1392.8,3491.2 1402.1,3500.6 1411.5,3514.6 1420.8,3527.7 1439.5,3528.6 1451.2,3523.9 1462.9,3516.9 1477,3512.7 1495.7,3510.8 1514.4,3512.7 1533.1,3516.9 1551.8,3520.2 1575.1,3519.3 1603.2,3517.9 1626.6,3517.9 1646.7,3517.4 1654.6,3517.4 1664,3523 1678,3532.4 1687.4,3533.3 1694.7,3530.2 1700.1,3526.5 1716.1,3527.6 1732.1,3530.2 1745,3528.5 1761.5,3527.6 1774.9,3527.6 1785.6,3530.8 1801.6,3532.9 1855.1,3532.9 1887.1,3531.9 2058.2,3530.8 2066.2,3527.6 2074.2,3531.9 2087.6,3534 2266.5,3534" fill="none" stroke="#ff00ff" stroke-width="6.0" stroke-linejoin="round" stroke-linecap="butt" clip-path="url(#cb5)"/>
<clipPath id="ci1"><rect x="349" y="3060" width="483" height="284"/></clipPath>
<polyline points="349,3341.8 831.2,3341.8" fill="none" stroke="#000000" stroke-width="5" stroke-linejoin="miter" stroke-linecap="butt" clip-path="url(#ci1)"/>
<polyline points="349,3337 382.3,3337.8 422.3,3338.6 462.4,3337.8 542.6,3338.6 582.7,3337.4 662.8,3338.6 702.9,3337.4 743,3337.4 783.1,3338.6 831.2,3337.8" fill="none" stroke="#00ff00" stroke-width="5.4" stroke-linejoin="miter" stroke-linecap="butt" clip-path="url(#ci1)"/>
<polyline points="349,3294.5 382.3,3300.5 421.5,3314.6 461.6,3305.4 501.7,3303.3 541.8,3315.4 581.9,3302.5 622.7,3308.6 662.8,3317.4 702.9,3296.5 743,3296.5 783.1,3310.2 823.1,3308.2 831.2,3305.8" fill="none" stroke="#ff0000" stroke-width="4.6" stroke-linejoin="miter" stroke-linecap="butt" clip-path="url(#ci1)"/>
<polyline points="349,3288.1 382.3,3286.9 422.3,3288.5 462.4,3286.9 502.5,3288.5 542.6,3288.5 582.7,3286.9 622.7,3288.5 831.2,3288.1" fill="none" stroke="#00ffff" stroke-width="4.6" stroke-linejoin="miter" stroke-linecap="butt" clip-path="url(#ci1)"/>
<polyline points="349,3191.1 382.3,3207.2 421.5,3254.4 461.6,3226.4 501.7,3217.6 541.8,3254.4 581.9,3216.4 622.7,3235.2 662.8,3267.3 702.9,3199.1 743,3199.1 783.1,3241.2 823.1,3235.2 831.2,3226.4" fill="none" stroke="#0000ff" stroke-width="4.6" stroke-linejoin="miter" stroke-linecap="butt" clip-path="url(#ci1)"/>
<polyline points="349,3064.1 382.3,3138.2 421.5,3192.3 461.6,3144.2 501.7,3172.3 541.8,3227.2 581.9,3054 590.7,3060.1 622.7,3089.3 662.8,3236.4 702.9,3115 743,3146.2 783.1,3185.1 823.1,3186.3 831.2,3180.3" fill="none" stroke="#ff00ff" stroke-width="4.6" stroke-linejoin="miter" stroke-linecap="butt" clip-path="url(#ci1)"/>
<clipPath id="ci2"><rect x="1329" y="2956" width="497" height="292"/></clipPath>
<polyline points="1329.4,3084.4 1825.2,3084.4" fill="none" stroke="#ff0000" stroke-width="4.6" stroke-linejoin="miter" stroke-linecap="butt" clip-path="url(#ci2)"/>
<polyline points="1329.4,2970.2 1382.3,2970.2 1450.4,3069.2 1520.6,3145.4 1588.7,3173.4 1656.8,3182.2 1725,3185.5 1825.2,3189.5" fill="none" stroke="#0000ff" stroke-width="4.6" stroke-linejoin="miter" stroke-linecap="butt" clip-path="url(#ci2)"/>
<polyline points="1329.4,2997.1 1382.3,2997.1 1450.4,3095.7 1520.6,3171.8 1588.7,3203.9 1656.8,3217.9 1725,3223.1 1825.2,3227.5" fill="none" stroke="#008000" stroke-width="4.6" stroke-linejoin="miter" stroke-linecap="butt" clip-path="url(#ci2)"/>
<line x1="607.2" y1="1814.0" x2="607.2" y2="3564.0" stroke="#767676" stroke-width="2" stroke-dasharray="8,8.03"/>
<line x1="1022.0" y1="1814.0" x2="1022.0" y2="3564.0" stroke="#767676" stroke-width="2" stroke-dasharray="8,8.03"/>
<line x1="1438.6" y1="1814.0" x2="1438.6" y2="3564.0" stroke="#767676" stroke-width="2" stroke-dasharray="8,8.03"/>
<line x1="1852.2" y1="1814.0" x2="1852.2" y2="3564.0" stroke="#767676" stroke-width="2" stroke-dasharray="8,8.03"/>
<line x1="192.0" y1="1820.3" x2="192.0" y2="2143.1" stroke="#000000" stroke-width="4.0" />
<line x1="178.0" y1="2103.6" x2="192.0" y2="2103.6" stroke="#000000" stroke-width="3.2" />
<text transform="translate(168.6,2118.1) scale(0.953,1)" text-anchor="end" style="font-family:'Liberation Sans',Arial,sans-serif;font-size:47.4px;font-weight:bold;" xml:space="preserve" >0.0</text>
<line x1="178.0" y1="2028.6" x2="192.0" y2="2028.6" stroke="#000000" stroke-width="3.2" />
<text transform="translate(168.6,2043.1) scale(0.953,1)" text-anchor="end" style="font-family:'Liberation Sans',Arial,sans-serif;font-size:47.4px;font-weight:bold;" xml:space="preserve" >0.4</text>
<line x1="178.0" y1="1953.6" x2="192.0" y2="1953.6" stroke="#000000" stroke-width="3.2" />
<text transform="translate(168.6,1968.1) scale(0.953,1)" text-anchor="end" style="font-family:'Liberation Sans',Arial,sans-serif;font-size:47.4px;font-weight:bold;" xml:space="preserve" >0.8</text>
<line x1="178.0" y1="1878.6" x2="192.0" y2="1878.6" stroke="#000000" stroke-width="3.2" />
<text transform="translate(168.6,1893.1) scale(0.953,1)" text-anchor="end" style="font-family:'Liberation Sans',Arial,sans-serif;font-size:47.4px;font-weight:bold;" xml:space="preserve" >1.2</text>
<line x1="184.0" y1="2141.1" x2="192.0" y2="2141.1" stroke="#000000" stroke-width="3.2" />
<line x1="184.0" y1="2066.1" x2="192.0" y2="2066.1" stroke="#000000" stroke-width="3.2" />
<line x1="184.0" y1="1991.1" x2="192.0" y2="1991.1" stroke="#000000" stroke-width="3.2" />
<line x1="184.0" y1="1916.1" x2="192.0" y2="1916.1" stroke="#000000" stroke-width="3.2" />
<line x1="184.0" y1="1841.1" x2="192.0" y2="1841.1" stroke="#000000" stroke-width="3.2" />
<line x1="192.0" y1="2176.3" x2="192.0" y2="2498.4" stroke="#000000" stroke-width="4.0" />
<line x1="178.0" y1="2496.4" x2="192.0" y2="2496.4" stroke="#000000" stroke-width="3.2" />
<text transform="translate(168.6,2503.6) scale(0.953,1)" text-anchor="end" style="font-family:'Liberation Sans',Arial,sans-serif;font-size:47.4px;font-weight:bold;" xml:space="preserve" >-2.4</text>
<line x1="178.0" y1="2416.8" x2="192.0" y2="2416.8" stroke="#000000" stroke-width="3.2" />
<text transform="translate(168.6,2424.0) scale(0.953,1)" text-anchor="end" style="font-family:'Liberation Sans',Arial,sans-serif;font-size:47.4px;font-weight:bold;" xml:space="preserve" >-1.6</text>
<line x1="178.0" y1="2337.3" x2="192.0" y2="2337.3" stroke="#000000" stroke-width="3.2" />
<text transform="translate(168.6,2344.5) scale(0.953,1)" text-anchor="end" style="font-family:'Liberation Sans',Arial,sans-serif;font-size:47.4px;font-weight:bold;" xml:space="preserve" >-0.8</text>
<line x1="178.0" y1="2257.8" x2="192.0" y2="2257.8" stroke="#000000" stroke-width="3.2" />
<text transform="translate(168.6,2265.0) scale(0.953,1)" text-anchor="end" style="font-family:'Liberation Sans',Arial,sans-serif;font-size:47.4px;font-weight:bold;" xml:space="preserve" >0.0</text>
<line x1="178.0" y1="2178.3" x2="192.0" y2="2178.3" stroke="#000000" stroke-width="3.2" />
<text transform="translate(168.6,2185.5) scale(0.953,1)" text-anchor="end" style="font-family:'Liberation Sans',Arial,sans-serif;font-size:47.4px;font-weight:bold;" xml:space="preserve" >0.8</text>
<line x1="184.0" y1="2456.6" x2="192.0" y2="2456.6" stroke="#000000" stroke-width="3.2" />
<line x1="184.0" y1="2377.1" x2="192.0" y2="2377.1" stroke="#000000" stroke-width="3.2" />
<line x1="184.0" y1="2297.6" x2="192.0" y2="2297.6" stroke="#000000" stroke-width="3.2" />
<line x1="184.0" y1="2218.0" x2="192.0" y2="2218.0" stroke="#000000" stroke-width="3.2" />
<line x1="192.0" y1="2531.3" x2="192.0" y2="2853.9" stroke="#000000" stroke-width="4.0" />
<line x1="178.0" y1="2851.9" x2="192.0" y2="2851.9" stroke="#000000" stroke-width="3.2" />
<text transform="translate(168.6,2863.8) scale(0.953,1)" text-anchor="end" style="font-family:'Liberation Sans',Arial,sans-serif;font-size:47.4px;font-weight:bold;" xml:space="preserve" >-0.4</text>
<line x1="178.0" y1="2772.3" x2="192.0" y2="2772.3" stroke="#000000" stroke-width="3.2" />
<text transform="translate(168.6,2784.2) scale(0.953,1)" text-anchor="end" style="font-family:'Liberation Sans',Arial,sans-serif;font-size:47.4px;font-weight:bold;" xml:space="preserve" >-0.2</text>
<line x1="178.0" y1="2692.6" x2="192.0" y2="2692.6" stroke="#000000" stroke-width="3.2" />
<text transform="translate(168.6,2704.5) scale(0.953,1)" text-anchor="end" style="font-family:'Liberation Sans',Arial,sans-serif;font-size:47.4px;font-weight:bold;" xml:space="preserve" >0.0</text>
<line x1="178.0" y1="2612.9" x2="192.0" y2="2612.9" stroke="#000000" stroke-width="3.2" />
<text transform="translate(168.6,2624.8) scale(0.953,1)" text-anchor="end" style="font-family:'Liberation Sans',Arial,sans-serif;font-size:47.4px;font-weight:bold;" xml:space="preserve" >0.2</text>
<line x1="178.0" y1="2533.3" x2="192.0" y2="2533.3" stroke="#000000" stroke-width="3.2" />
<text transform="translate(168.6,2545.2) scale(0.953,1)" text-anchor="end" style="font-family:'Liberation Sans',Arial,sans-serif;font-size:47.4px;font-weight:bold;" xml:space="preserve" >0.4</text>
<line x1="184.0" y1="2812.1" x2="192.0" y2="2812.1" stroke="#000000" stroke-width="3.2" />
<line x1="184.0" y1="2732.4" x2="192.0" y2="2732.4" stroke="#000000" stroke-width="3.2" />
<line x1="184.0" y1="2652.8" x2="192.0" y2="2652.8" stroke="#000000" stroke-width="3.2" />
<line x1="184.0" y1="2573.1" x2="192.0" y2="2573.1" stroke="#000000" stroke-width="3.2" />
<line x1="192.0" y1="2886.7" x2="192.0" y2="3208.7" stroke="#000000" stroke-width="4.0" />
<line x1="178.0" y1="3206.7" x2="192.0" y2="3206.7" stroke="#000000" stroke-width="3.2" />
<text transform="translate(168.6,3226.2) scale(0.953,1)" text-anchor="end" style="font-family:'Liberation Sans',Arial,sans-serif;font-size:47.4px;font-weight:bold;" xml:space="preserve" >0.0</text>
<line x1="178.0" y1="3100.7" x2="192.0" y2="3100.7" stroke="#000000" stroke-width="3.2" />
<text transform="translate(168.6,3120.2) scale(0.953,1)" text-anchor="end" style="font-family:'Liberation Sans',Arial,sans-serif;font-size:47.4px;font-weight:bold;" xml:space="preserve" >0.4</text>
<line x1="178.0" y1="2994.7" x2="192.0" y2="2994.7" stroke="#000000" stroke-width="3.2" />
<text transform="translate(168.6,3014.2) scale(0.953,1)" text-anchor="end" style="font-family:'Liberation Sans',Arial,sans-serif;font-size:47.4px;font-weight:bold;" xml:space="preserve" >0.8</text>
<line x1="178.0" y1="2888.7" x2="192.0" y2="2888.7" stroke="#000000" stroke-width="3.2" />
<text transform="translate(168.6,2908.2) scale(0.953,1)" text-anchor="end" style="font-family:'Liberation Sans',Arial,sans-serif;font-size:47.4px;font-weight:bold;" xml:space="preserve" >1.2</text>
<line x1="184.0" y1="3153.7" x2="192.0" y2="3153.7" stroke="#000000" stroke-width="3.2" />
<line x1="184.0" y1="3047.7" x2="192.0" y2="3047.7" stroke="#000000" stroke-width="3.2" />
<line x1="184.0" y1="2941.7" x2="192.0" y2="2941.7" stroke="#000000" stroke-width="3.2" />
<line x1="192.0" y1="3242.4" x2="192.0" y2="3562.7" stroke="#000000" stroke-width="4.0" />
<line x1="178.0" y1="3534.2" x2="192.0" y2="3534.2" stroke="#000000" stroke-width="3.2" />
<text transform="translate(168.6,3557.7) scale(0.953,1)" text-anchor="end" style="font-family:'Liberation Sans',Arial,sans-serif;font-size:47.4px;font-weight:bold;" xml:space="preserve" >0.0</text>
<line x1="178.0" y1="3461.8" x2="192.0" y2="3461.8" stroke="#000000" stroke-width="3.2" />
<text transform="translate(168.6,3485.2) scale(0.953,1)" text-anchor="end" style="font-family:'Liberation Sans',Arial,sans-serif;font-size:47.4px;font-weight:bold;" xml:space="preserve" >0.5</text>
<line x1="178.0" y1="3389.3" x2="192.0" y2="3389.3" stroke="#000000" stroke-width="3.2" />
<text transform="translate(168.6,3412.8) scale(0.953,1)" text-anchor="end" style="font-family:'Liberation Sans',Arial,sans-serif;font-size:47.4px;font-weight:bold;" xml:space="preserve" >1.0</text>
<line x1="178.0" y1="3316.8" x2="192.0" y2="3316.8" stroke="#000000" stroke-width="3.2" />
<text transform="translate(168.6,3340.3) scale(0.953,1)" text-anchor="end" style="font-family:'Liberation Sans',Arial,sans-serif;font-size:47.4px;font-weight:bold;" xml:space="preserve" >1.5</text>
<line x1="178.0" y1="3244.4" x2="192.0" y2="3244.4" stroke="#000000" stroke-width="3.2" />
<text transform="translate(168.6,3267.9) scale(0.953,1)" text-anchor="end" style="font-family:'Liberation Sans',Arial,sans-serif;font-size:47.4px;font-weight:bold;" xml:space="preserve" >2.0</text>
<line x1="184.0" y1="3498.0" x2="192.0" y2="3498.0" stroke="#000000" stroke-width="3.2" />
<line x1="184.0" y1="3425.5" x2="192.0" y2="3425.5" stroke="#000000" stroke-width="3.2" />
<line x1="184.0" y1="3353.1" x2="192.0" y2="3353.1" stroke="#000000" stroke-width="3.2" />
<line x1="184.0" y1="3280.6" x2="192.0" y2="3280.6" stroke="#000000" stroke-width="3.2" />
<line x1="190.0" y1="3565.9" x2="2271.0" y2="3565.9" stroke="#000000" stroke-width="4.0" />
<line x1="192.0" y1="3565.9" x2="192.0" y2="3579.4" stroke="#000000" stroke-width="4.0" />
<text transform="translate(192.0,3624.7) scale(0.953,1)" text-anchor="middle" style="font-family:'Liberation Sans',Arial,sans-serif;font-size:47.4px;font-weight:bold;" xml:space="preserve" >0</text>
<line x1="607.4" y1="3565.9" x2="607.4" y2="3579.4" stroke="#000000" stroke-width="4.0" />
<text transform="translate(607.4,3624.7) scale(0.953,1)" text-anchor="middle" style="font-family:'Liberation Sans',Arial,sans-serif;font-size:47.4px;font-weight:bold;" xml:space="preserve" >1</text>
<line x1="1022.8" y1="3565.9" x2="1022.8" y2="3579.4" stroke="#000000" stroke-width="4.0" />
<text transform="translate(1022.8,3624.7) scale(0.953,1)" text-anchor="middle" style="font-family:'Liberation Sans',Arial,sans-serif;font-size:47.4px;font-weight:bold;" xml:space="preserve" >2</text>
<line x1="1438.2" y1="3565.9" x2="1438.2" y2="3579.4" stroke="#000000" stroke-width="4.0" />
<text transform="translate(1438.2,3624.7) scale(0.953,1)" text-anchor="middle" style="font-family:'Liberation Sans',Arial,sans-serif;font-size:47.4px;font-weight:bold;" xml:space="preserve" >3</text>
<line x1="1853.6" y1="3565.9" x2="1853.6" y2="3579.4" stroke="#000000" stroke-width="4.0" />
<text transform="translate(1853.6,3624.7) scale(0.953,1)" text-anchor="middle" style="font-family:'Liberation Sans',Arial,sans-serif;font-size:47.4px;font-weight:bold;" xml:space="preserve" >4</text>
<line x1="2269.0" y1="3565.9" x2="2269.0" y2="3579.4" stroke="#000000" stroke-width="4.0" />
<text transform="translate(2269.0,3624.7) scale(0.953,1)" text-anchor="middle" style="font-family:'Liberation Sans',Arial,sans-serif;font-size:47.4px;font-weight:bold;" xml:space="preserve" >5</text>
<line x1="399.7" y1="3565.9" x2="399.7" y2="3573.4" stroke="#000000" stroke-width="3.2" />
<line x1="815.1" y1="3565.9" x2="815.1" y2="3573.4" stroke="#000000" stroke-width="3.2" />
<line x1="1230.5" y1="3565.9" x2="1230.5" y2="3573.4" stroke="#000000" stroke-width="3.2" />
<line x1="1645.9" y1="3565.9" x2="1645.9" y2="3573.4" stroke="#000000" stroke-width="3.2" />
<line x1="2061.3" y1="3565.9" x2="2061.3" y2="3573.4" stroke="#000000" stroke-width="3.2" />
<text transform="translate(68.7,3625.5) scale(0.9022,1)" text-anchor="start" style="font-family:'Liberation Sans',Arial,sans-serif;font-size:47.79px;font-weight:bold;" xml:space="preserve" >(p.u.)</text>
<text transform="translate(1143.2,3657.4) scale(1.0074,1)" text-anchor="start" style="font-family:'Liberation Sans',Arial,sans-serif;font-size:45.92px;font-weight:bold;font-style:italic;" xml:space="preserve" >Time (s)</text>
<text transform="translate(1161.4,3770.3)" text-anchor="middle" style="font-family:'Liberation Serif',serif;font-size:84px;">(<tspan style="font-weight:bold">b</tspan>)</text>
<text transform="translate(67.9,2096.5) rotate(-90) scale(0.9588,1)" text-anchor="start" style="font-family:'Liberation Sans',Arial,sans-serif;font-size:48.18px;font-weight:bold;font-style:italic;" xml:space="preserve" >V<tspan dy="12.5" font-size="48.2">dc</tspan><tspan dy="-12.5"> &amp; I</tspan><tspan dy="12.5" font-size="48.2">dc</tspan></text>
<text transform="translate(69.1,2482.6) rotate(-90) scale(0.9703,1)" text-anchor="start" style="font-family:'Liberation Sans',Arial,sans-serif;font-size:47.67px;font-weight:bold;font-style:italic;" xml:space="preserve" >V<tspan dy="12.4" font-size="47.7">12dq</tspan><tspan dy="-12.4"> &amp; V</tspan><tspan dy="12.4" font-size="47.7">12</tspan></text>
<text transform="translate(69.2,2711.3) rotate(-90) scale(0.8929,1)" text-anchor="start" style="font-family:'Liberation Sans',Arial,sans-serif;font-size:50.61px;font-weight:bold;font-style:italic;" xml:space="preserve" >I<tspan dy="13.2" font-size="50.6">1</tspan></text>
<text transform="translate(71.2,3103.2) rotate(-90) scale(0.9157,1)" text-anchor="start" style="font-family:'Liberation Sans',Arial,sans-serif;font-size:50.61px;font-weight:bold;font-style:italic;" xml:space="preserve" >V<tspan dy="13.2" font-size="50.6">rms</tspan></text>
<text transform="translate(79.2,3440.3) rotate(-90) scale(0.9764,1)" text-anchor="start" style="font-family:'Liberation Sans',Arial,sans-serif;font-size:47.64px;font-weight:bold;font-style:italic;" xml:space="preserve" >THD</text>
<line x1="349.0" y1="3060.1" x2="349.0" y2="3351.6" stroke="#000000" stroke-width="1.2" />
<line x1="349.0" y1="3344.6" x2="831.8" y2="3344.6" stroke="#000000" stroke-width="1.2" />
<line x1="342.0" y1="3341.0" x2="349.0" y2="3341.0" stroke="#000000" stroke-width="1.2" />
<text transform="translate(338.3,3353.4) scale(0.975,1)" text-anchor="end" style="font-family:'Liberation Sans',Arial,sans-serif;font-size:37.0px;font-weight:bold;" xml:space="preserve" >0%</text>
<line x1="342.0" y1="3284.8" x2="349.0" y2="3284.8" stroke="#000000" stroke-width="1.2" />
<text transform="translate(338.3,3297.2) scale(0.975,1)" text-anchor="end" style="font-family:'Liberation Sans',Arial,sans-serif;font-size:37.0px;font-weight:bold;" xml:space="preserve" >2%</text>
<line x1="342.0" y1="3228.6" x2="349.0" y2="3228.6" stroke="#000000" stroke-width="1.2" />
<text transform="translate(338.3,3241.0) scale(0.975,1)" text-anchor="end" style="font-family:'Liberation Sans',Arial,sans-serif;font-size:37.0px;font-weight:bold;" xml:space="preserve" >4%</text>
<line x1="342.0" y1="3172.5" x2="349.0" y2="3172.5" stroke="#000000" stroke-width="1.2" />
<text transform="translate(338.3,3184.9) scale(0.975,1)" text-anchor="end" style="font-family:'Liberation Sans',Arial,sans-serif;font-size:37.0px;font-weight:bold;" xml:space="preserve" >6%</text>
<line x1="342.0" y1="3116.3" x2="349.0" y2="3116.3" stroke="#000000" stroke-width="1.2" />
<text transform="translate(338.3,3128.7) scale(0.975,1)" text-anchor="end" style="font-family:'Liberation Sans',Arial,sans-serif;font-size:37.0px;font-weight:bold;" xml:space="preserve" >8%</text>
<line x1="342.0" y1="3060.1" x2="349.0" y2="3060.1" stroke="#000000" stroke-width="1.2" />
<text transform="translate(338.3,3072.5) scale(0.975,1)" text-anchor="end" style="font-family:'Liberation Sans',Arial,sans-serif;font-size:37.0px;font-weight:bold;" xml:space="preserve" >10%</text>
<line x1="345.0" y1="3312.9" x2="349.0" y2="3312.9" stroke="#000000" stroke-width="1.2" />
<line x1="345.0" y1="3256.7" x2="349.0" y2="3256.7" stroke="#000000" stroke-width="1.2" />
<line x1="345.0" y1="3200.6" x2="349.0" y2="3200.6" stroke="#000000" stroke-width="1.2" />
<line x1="345.0" y1="3144.4" x2="349.0" y2="3144.4" stroke="#000000" stroke-width="1.2" />
<line x1="345.0" y1="3088.2" x2="349.0" y2="3088.2" stroke="#000000" stroke-width="1.2" />
<line x1="349.0" y1="3344.6" x2="349.0" y2="3351.6" stroke="#000000" stroke-width="1.2" />
<text transform="translate(349.0,3384.1) scale(0.975,1)" text-anchor="middle" style="font-family:'Liberation Sans',Arial,sans-serif;font-size:37.0px;font-weight:bold;" xml:space="preserve" >2.0</text>
<line x1="590.1" y1="3344.6" x2="590.1" y2="3351.6" stroke="#000000" stroke-width="1.2" />
<text transform="translate(590.1,3384.1) scale(0.975,1)" text-anchor="middle" style="font-family:'Liberation Sans',Arial,sans-serif;font-size:37.0px;font-weight:bold;" xml:space="preserve" >2.1</text>
<line x1="831.2" y1="3344.6" x2="831.2" y2="3351.6" stroke="#000000" stroke-width="1.2" />
<text transform="translate(831.2,3384.1) scale(0.975,1)" text-anchor="middle" style="font-family:'Liberation Sans',Arial,sans-serif;font-size:37.0px;font-weight:bold;" xml:space="preserve" >2.2</text>
<line x1="469.6" y1="3344.6" x2="469.6" y2="3348.6" stroke="#000000" stroke-width="1.2" />
<line x1="710.7" y1="3344.6" x2="710.7" y2="3348.6" stroke="#000000" stroke-width="1.2" />
<line x1="1329.4" y1="2956.2" x2="1329.4" y2="3253.9" stroke="#000000" stroke-width="1.2" />
<line x1="1321.9" y1="3247.4" x2="1825.2" y2="3247.4" stroke="#000000" stroke-width="1.2" />
<line x1="1322.4" y1="3247.4" x2="1329.4" y2="3247.4" stroke="#000000" stroke-width="1.2" />
<text transform="translate(1318.3,3257.8) scale(0.975,1)" text-anchor="end" style="font-family:'Liberation Sans',Arial,sans-serif;font-size:37.0px;font-weight:bold;" xml:space="preserve" >0.8</text>
<line x1="1322.4" y1="3164.3" x2="1329.4" y2="3164.3" stroke="#000000" stroke-width="1.2" />
<text transform="translate(1318.3,3176.3) scale(0.975,1)" text-anchor="end" style="font-family:'Liberation Sans',Arial,sans-serif;font-size:37.0px;font-weight:bold;" xml:space="preserve" >0.9</text>
<line x1="1322.4" y1="3081.2" x2="1329.4" y2="3081.2" stroke="#000000" stroke-width="1.2" />
<text transform="translate(1318.3,3093.2) scale(0.975,1)" text-anchor="end" style="font-family:'Liberation Sans',Arial,sans-serif;font-size:37.0px;font-weight:bold;" xml:space="preserve" >1.0</text>
<line x1="1322.4" y1="2998.1" x2="1329.4" y2="2998.1" stroke="#000000" stroke-width="1.2" />
<text transform="translate(1318.3,3010.1) scale(0.975,1)" text-anchor="end" style="font-family:'Liberation Sans',Arial,sans-serif;font-size:37.0px;font-weight:bold;" xml:space="preserve" >1.1</text>
<line x1="1325.4" y1="3205.8" x2="1329.4" y2="3205.8" stroke="#000000" stroke-width="1.2" />
<line x1="1325.4" y1="3122.8" x2="1329.4" y2="3122.8" stroke="#000000" stroke-width="1.2" />
<line x1="1325.4" y1="3039.6" x2="1329.4" y2="3039.6" stroke="#000000" stroke-width="1.2" />
<line x1="1325.4" y1="2956.5" x2="1329.4" y2="2956.5" stroke="#000000" stroke-width="1.2" />
<line x1="1329.2" y1="3247.4" x2="1329.2" y2="3254.4" stroke="#000000" stroke-width="1.2" />
<text transform="translate(1329.2,3286.0) scale(0.975,1)" text-anchor="middle" style="font-family:'Liberation Sans',Arial,sans-serif;font-size:37.0px;font-weight:bold;" xml:space="preserve" >4.48</text>
<line x1="1494.2" y1="3247.4" x2="1494.2" y2="3254.4" stroke="#000000" stroke-width="1.2" />
<text transform="translate(1494.2,3286.0) scale(0.975,1)" text-anchor="middle" style="font-family:'Liberation Sans',Arial,sans-serif;font-size:37.0px;font-weight:bold;" xml:space="preserve" >4.52</text>
<line x1="1659.2" y1="3247.4" x2="1659.2" y2="3254.4" stroke="#000000" stroke-width="1.2" />
<text transform="translate(1659.2,3286.0) scale(0.975,1)" text-anchor="middle" style="font-family:'Liberation Sans',Arial,sans-serif;font-size:37.0px;font-weight:bold;" xml:space="preserve" >4.56</text>
<line x1="1824.1" y1="3247.4" x2="1824.1" y2="3254.4" stroke="#000000" stroke-width="1.2" />
<text transform="translate(1824.1,3286.0) scale(0.975,1)" text-anchor="middle" style="font-family:'Liberation Sans',Arial,sans-serif;font-size:37.0px;font-weight:bold;" xml:space="preserve" >4.60</text>
<line x1="1411.7" y1="3247.4" x2="1411.7" y2="3251.4" stroke="#000000" stroke-width="1.2" />
<line x1="1576.7" y1="3247.4" x2="1576.7" y2="3251.4" stroke="#000000" stroke-width="1.2" />
<line x1="1741.6" y1="3247.4" x2="1741.6" y2="3251.4" stroke="#000000" stroke-width="1.2" />
<path d="M2011.4,2890.5H2135.4" stroke="#000" stroke-width="8" fill="none" stroke-dasharray="16.5,15.399999999999999,10.5,17.4"/>
<path d="M2015.4,2894.5V3001.1" stroke="#000" stroke-width="8" fill="none" stroke-dasharray="10.5,17.4" stroke-dashoffset="-11.399999999999999"/>
<path d="M2131.4,2894.5V3001.1" stroke="#000" stroke-width="8" fill="none" stroke-dasharray="10.5,17.4" stroke-dashoffset="-11.399999999999999"/>
<path d="M2011.4,3001.1H2135.4" stroke="#000" stroke-width="8" fill="none" stroke-dasharray="16.5,15.399999999999999,10.5,17.4"/>
<line x1="1986.0" y1="2994.7" x2="1870.4" y2="3051.2" stroke="#000000" stroke-width="4.2" />
<polygon points="1847.0,3062.6 1868.7,3040.9 1867.8,3052.4 1877.4,3058.9" fill="#000"/>
<path d="M1019.4,3478.6H1140.5" stroke="#000" stroke-width="8" fill="none" stroke-dasharray="16.5,15.399999999999999,10.5,17.4"/>
<path d="M1023.4,3482.6V3544.0" stroke="#000" stroke-width="8" fill="none" stroke-dasharray="10.5,17.4" stroke-dashoffset="-11.399999999999999"/>
<path d="M1136.5,3482.6V3544.0" stroke="#000" stroke-width="8" fill="none" stroke-dasharray="10.5,17.4" stroke-dashoffset="-11.399999999999999"/>
<path d="M1019.4,3544.0H1140.5" stroke="#000" stroke-width="8" fill="none" stroke-dasharray="16.5,15.399999999999999,10.5,17.4"/>
<line x1="1072.7" y1="3466.1" x2="883.7" y2="3298.9" stroke="#000000" stroke-width="4.2" />
<polygon points="864.2,3281.7 892.5,3293.4 881.6,3297.1 879.3,3308.4" fill="#000"/>
<line x1="1911.3" y1="1836.7" x2="1992.8" y2="1836.7" stroke="#ff0000" stroke-width="5.6" />
<text transform="translate(2005.0,1849.0) scale(0.95,1)" text-anchor="start" style="font-family:'Liberation Sans',Arial,sans-serif;font-size:45.2px;font-weight:bold;font-style:italic;" xml:space="preserve" >V<tspan dy="11.8" font-size="45.2">dc</tspan></text>
<line x1="2091.4" y1="1836.7" x2="2172.9" y2="1836.7" stroke="#0000ff" stroke-width="5.6" />
<text transform="translate(2182.0,1849.0) scale(0.95,1)" text-anchor="start" style="font-family:'Liberation Sans',Arial,sans-serif;font-size:45.2px;font-weight:bold;font-style:italic;" xml:space="preserve" >I<tspan dy="11.8" font-size="45.2">dc</tspan></text>
<line x1="1534.4" y1="2141.8" x2="1617.2" y2="2141.8" stroke="#ff0000" stroke-width="5.6" />
<text transform="translate(1631.0,2152.5) scale(0.95,1)" text-anchor="start" style="font-family:'Liberation Sans',Arial,sans-serif;font-size:45.2px;font-weight:bold;font-style:italic;" xml:space="preserve" >V<tspan dy="11.8" font-size="45.2">12d</tspan></text>
<line x1="1739.5" y1="2141.8" x2="1819.5" y2="2141.8" stroke="#0000ff" stroke-width="5.6" />
<text transform="translate(1836.0,2152.5) scale(0.95,1)" text-anchor="start" style="font-family:'Liberation Sans',Arial,sans-serif;font-size:45.2px;font-weight:bold;font-style:italic;" xml:space="preserve" >V<tspan dy="11.8" font-size="45.2">12q</tspan></text>
<line x1="1943.4" y1="2141.8" x2="2023.6" y2="2141.8" stroke="#ff00ff" stroke-width="5.6" />
<text transform="translate(2039.5,2152.5) scale(0.95,1)" text-anchor="start" style="font-family:'Liberation Sans',Arial,sans-serif;font-size:45.2px;font-weight:bold;font-style:italic;" xml:space="preserve" >V<tspan dy="11.8" font-size="45.2">12</tspan></text>
<line x1="2121.2" y1="2141.8" x2="2201.4" y2="2141.8" stroke="#008000" stroke-width="5.6" />
<text transform="translate(2214.5,2152.5) scale(0.95,1)" text-anchor="start" style="font-family:'Liberation Sans',Arial,sans-serif;font-size:45.2px;font-weight:bold;font-style:italic;" xml:space="preserve" >θ</text>
<line x1="1766.6" y1="2542.4" x2="1848.1" y2="2542.4" stroke="#ff0000" stroke-width="5.6" />
<text transform="translate(1857.5,2554.6) scale(0.95,1)" text-anchor="start" style="font-family:'Liberation Sans',Arial,sans-serif;font-size:45.2px;font-weight:bold;font-style:italic;" xml:space="preserve" >I<tspan dy="11.8" font-size="45.2">1a</tspan></text>
<line x1="1929.6" y1="2542.4" x2="2009.9" y2="2542.4" stroke="#0000ff" stroke-width="5.6" />
<text transform="translate(2020.5,2554.6) scale(0.95,1)" text-anchor="start" style="font-family:'Liberation Sans',Arial,sans-serif;font-size:45.2px;font-weight:bold;font-style:italic;" xml:space="preserve" >I<tspan dy="11.8" font-size="45.2">1b</tspan></text>
<line x1="2092.6" y1="2542.4" x2="2174.1" y2="2542.4" stroke="#008000" stroke-width="5.6" />
<text transform="translate(2183.5,2554.6) scale(0.95,1)" text-anchor="start" style="font-family:'Liberation Sans',Arial,sans-serif;font-size:45.2px;font-weight:bold;font-style:italic;" xml:space="preserve" >I<tspan dy="11.8" font-size="45.2">1c</tspan></text>
<line x1="1777.6" y1="2846.8" x2="1858.3" y2="2846.8" stroke="#ff0000" stroke-width="5.6" />
<text transform="translate(1875.0,2858.8) scale(0.95,1)" text-anchor="start" style="font-family:'Liberation Sans',Arial,sans-serif;font-size:45.2px;font-weight:bold;font-style:italic;" xml:space="preserve" >V<tspan dy="11.8" font-size="45.2">1</tspan></text>
<line x1="1934.5" y1="2846.8" x2="2016.0" y2="2846.8" stroke="#0000ff" stroke-width="5.6" />
<text transform="translate(2034.0,2858.8) scale(0.95,1)" text-anchor="start" style="font-family:'Liberation Sans',Arial,sans-serif;font-size:45.2px;font-weight:bold;font-style:italic;" xml:space="preserve" >V<tspan dy="11.8" font-size="45.2">2</tspan></text>
<line x1="2091.4" y1="2846.8" x2="2172.9" y2="2846.8" stroke="#008000" stroke-width="5.6" />
<text transform="translate(2189.0,2858.8) scale(0.95,1)" text-anchor="start" style="font-family:'Liberation Sans',Arial,sans-serif;font-size:45.2px;font-weight:bold;font-style:italic;" xml:space="preserve" >V<tspan dy="11.8" font-size="45.2">r</tspan></text>
<line x1="1943.2" y1="3201.5" x2="2023.4" y2="3201.5" stroke="#000000" stroke-width="5.6" />
<text transform="translate(2039.5,3213.8) scale(0.95,1)" text-anchor="start" style="font-family:'Liberation Sans',Arial,sans-serif;font-size:45.2px;font-weight:bold;font-style:italic;" xml:space="preserve" >V<tspan dy="11.8" font-size="45.2">1</tspan></text>
<line x1="2099.9" y1="3201.5" x2="2180.0" y2="3201.5" stroke="#ff0000" stroke-width="5.6" />
<text transform="translate(2185.0,3213.8) scale(0.95,1)" text-anchor="start" style="font-family:'Liberation Sans',Arial,sans-serif;font-size:45.2px;font-weight:bold;font-style:italic;" xml:space="preserve" >V<tspan dy="11.8" font-size="45.2">12</tspan></text>
<line x1="1943.2" y1="3270.0" x2="2023.4" y2="3270.0" stroke="#00ff00" stroke-width="5.6" />
<text transform="translate(2039.5,3282.3) scale(0.95,1)" text-anchor="start" style="font-family:'Liberation Sans',Arial,sans-serif;font-size:45.2px;font-weight:bold;font-style:italic;" xml:space="preserve" >V<tspan dy="11.8" font-size="45.2">2</tspan></text>
<line x1="2099.9" y1="3270.0" x2="2180.0" y2="3270.0" stroke="#0000ff" stroke-width="5.6" />
<text transform="translate(2190.5,3282.3) scale(0.95,1)" text-anchor="start" style="font-family:'Liberation Sans',Arial,sans-serif;font-size:45.2px;font-weight:bold;font-style:italic;" xml:space="preserve" >I<tspan dy="11.8" font-size="45.2">1</tspan></text>
<line x1="1943.2" y1="3338.9" x2="2023.4" y2="3338.9" stroke="#00ffff" stroke-width="5.6" />
<text transform="translate(2034.0,3351.2) scale(0.95,1)" text-anchor="start" style="font-family:'Liberation Sans',Arial,sans-serif;font-size:45.2px;font-weight:bold;font-style:italic;" xml:space="preserve" >I<tspan dy="11.8" font-size="45.2">sh</tspan></text>
<line x1="2108.9" y1="3338.9" x2="2190.7" y2="3338.9" stroke="#ff00ff" stroke-width="5.6" />
<text transform="translate(2201.0,3351.2) scale(0.95,1)" text-anchor="start" style="font-family:'Liberation Sans',Arial,sans-serif;font-size:45.2px;font-weight:bold;font-style:italic;" xml:space="preserve" >I<tspan dy="11.8" font-size="45.2">se</tspan></text>
</svg>
</body></html>
